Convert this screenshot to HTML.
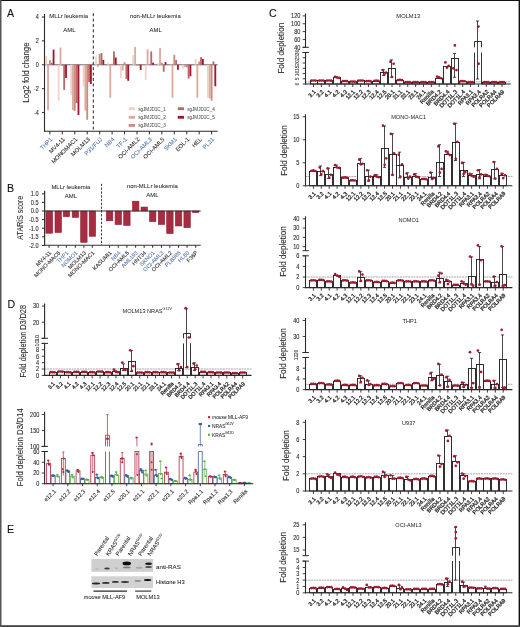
<!DOCTYPE html><html><head><meta charset="utf-8"><style>html,body{margin:0;padding:0;background:#fff;}svg{display:block;will-change:transform;} text{font-family:"Liberation Sans", sans-serif;}</style></head><body>
<svg width="520" height="627" viewBox="0 0 520 627">
<rect x="0" y="0" width="520" height="627" fill="#ffffff" />
<text x="7" y="16.6" font-size="10.6" fill="#111" text-anchor="start"  stroke="#111" stroke-width="0.1">A</text>
<line x1="44.5" y1="64.8" x2="217.7" y2="64.8" stroke="#555" stroke-width="0.9" />
<rect x="45.3" y="55.96" width="1.84" height="8.84" fill="#efd3cb" />
<rect x="47.14" y="64.8" width="1.84" height="45.41" fill="#dcab9e" />
<rect x="48.98" y="60.26" width="1.84" height="4.54" fill="#c98b80" />
<rect x="50.82" y="62.77" width="1.84" height="2.03" fill="#b76a65" />
<rect x="52.66" y="49.62" width="1.84" height="15.18" fill="#a3162e" />
<rect x="57.74" y="64.8" width="1.84" height="35.85" fill="#efd3cb" />
<rect x="59.58" y="47.47" width="1.84" height="17.33" fill="#dcab9e" />
<rect x="61.42" y="64.8" width="1.84" height="1.2" fill="#c98b80" />
<rect x="63.26" y="64.8" width="1.84" height="25.09" fill="#b76a65" />
<rect x="65.1" y="64.8" width="1.84" height="13.14" fill="#a3162e" />
<rect x="70.18" y="64.8" width="1.84" height="29.88" fill="#efd3cb" />
<rect x="72.02" y="64.8" width="1.84" height="45.41" fill="#dcab9e" />
<rect x="73.86" y="64.8" width="1.84" height="46.01" fill="#c98b80" />
<rect x="75.7" y="64.8" width="1.84" height="38.24" fill="#b76a65" />
<rect x="77.54" y="64.8" width="1.84" height="50.19" fill="#a3162e" />
<rect x="82.62" y="64.8" width="1.84" height="21.51" fill="#efd3cb" />
<rect x="84.46" y="64.8" width="1.84" height="45.77" fill="#dcab9e" />
<rect x="86.3" y="64.8" width="1.84" height="54.97" fill="#c98b80" />
<rect x="88.14" y="64.8" width="1.84" height="17.33" fill="#b76a65" />
<rect x="89.98" y="64.8" width="1.84" height="19.12" fill="#a3162e" />
<rect x="95.06" y="56.44" width="1.84" height="8.36" fill="#efd3cb" />
<rect x="96.9" y="64.8" width="1.84" height="2.15" fill="#dcab9e" />
<rect x="98.74" y="54.05" width="1.84" height="10.75" fill="#c98b80" />
<rect x="100.58" y="53.09" width="1.84" height="11.71" fill="#b76a65" />
<rect x="102.42" y="59.9" width="1.84" height="4.9" fill="#a3162e" />
<rect x="107.5" y="62.65" width="1.84" height="2.15" fill="#efd3cb" />
<rect x="109.34" y="64.8" width="1.84" height="32.98" fill="#dcab9e" />
<rect x="111.18" y="63.84" width="1.84" height="0.96" fill="#c98b80" />
<rect x="113.02" y="51.42" width="1.84" height="13.38" fill="#b76a65" />
<rect x="114.86" y="57.51" width="1.84" height="7.29" fill="#a3162e" />
<rect x="119.94" y="64.8" width="1.84" height="13.14" fill="#efd3cb" />
<rect x="121.78" y="64.8" width="1.84" height="5.74" fill="#dcab9e" />
<rect x="123.62" y="62.17" width="1.84" height="2.63" fill="#c98b80" />
<rect x="125.46" y="64.8" width="1.84" height="14.1" fill="#b76a65" />
<rect x="127.3" y="64.8" width="1.84" height="16.01" fill="#a3162e" />
<rect x="132.38" y="55.12" width="1.84" height="9.68" fill="#efd3cb" />
<rect x="134.22" y="46.88" width="1.84" height="17.92" fill="#dcab9e" />
<rect x="136.06" y="64.8" width="1.84" height="0.6" fill="#c98b80" />
<rect x="137.9" y="64.8" width="1.84" height="0.6" fill="#b76a65" />
<rect x="139.74" y="64.8" width="1.84" height="5.14" fill="#a3162e" />
<rect x="144.82" y="64.8" width="1.84" height="15.42" fill="#efd3cb" />
<rect x="146.66" y="49.27" width="1.84" height="15.54" fill="#dcab9e" />
<rect x="148.5" y="64.2" width="1.84" height="0.6" fill="#c98b80" />
<rect x="150.34" y="51.42" width="1.84" height="13.38" fill="#b76a65" />
<rect x="152.18" y="62.65" width="1.84" height="2.15" fill="#a3162e" />
<rect x="157.26" y="63.25" width="1.84" height="1.55" fill="#efd3cb" />
<rect x="159.1" y="47.83" width="1.84" height="16.97" fill="#dcab9e" />
<rect x="160.94" y="62.65" width="1.84" height="2.15" fill="#c98b80" />
<rect x="162.78" y="64.8" width="1.84" height="6.93" fill="#b76a65" />
<rect x="164.62" y="62.05" width="1.84" height="2.75" fill="#a3162e" />
<rect x="169.7" y="64.2" width="1.84" height="0.6" fill="#efd3cb" />
<rect x="171.54" y="64.8" width="1.84" height="32.98" fill="#dcab9e" />
<rect x="173.38" y="54.88" width="1.84" height="9.92" fill="#c98b80" />
<rect x="175.22" y="60.02" width="1.84" height="4.78" fill="#b76a65" />
<rect x="177.06" y="64.8" width="1.84" height="5.02" fill="#a3162e" />
<rect x="182.14" y="64.8" width="1.84" height="3.94" fill="#efd3cb" />
<rect x="183.98" y="64.8" width="1.84" height="2.39" fill="#dcab9e" />
<rect x="185.82" y="64.8" width="1.84" height="2.63" fill="#c98b80" />
<rect x="187.66" y="64.8" width="1.84" height="13.86" fill="#b76a65" />
<rect x="189.5" y="64.8" width="1.84" height="11.47" fill="#a3162e" />
<rect x="194.58" y="58.82" width="1.84" height="5.97" fill="#efd3cb" />
<rect x="196.42" y="64.8" width="1.84" height="32.98" fill="#dcab9e" />
<rect x="198.26" y="61.45" width="1.84" height="3.35" fill="#c98b80" />
<rect x="200.1" y="57.15" width="1.84" height="7.65" fill="#b76a65" />
<rect x="201.94" y="58.94" width="1.84" height="5.86" fill="#a3162e" />
<rect x="207.02" y="64.8" width="1.84" height="32.98" fill="#efd3cb" />
<rect x="208.86" y="64.8" width="1.84" height="33.46" fill="#dcab9e" />
<rect x="210.7" y="64.8" width="1.84" height="35.85" fill="#c98b80" />
<rect x="212.54" y="61.45" width="1.84" height="3.35" fill="#b76a65" />
<rect x="214.38" y="64.8" width="1.84" height="21.51" fill="#a3162e" />
<line x1="44.5" y1="14" x2="44.5" y2="131.7" stroke="#2a2a2a" stroke-width="1.1" />
<line x1="44" y1="131.2" x2="217.7" y2="131.2" stroke="#2a2a2a" stroke-width="1.1" />
<line x1="41.9" y1="17" x2="44.5" y2="17" stroke="#2a2a2a" stroke-width="1" />
<text x="38.7" y="19.4" font-size="6.6" fill="#2a2a2a" text-anchor="end" transform="translate(38.7 19.4) scale(0.82 1) translate(-38.7 -19.4)"  stroke="#2a2a2a" stroke-width="0.1">4</text>
<line x1="41.9" y1="40.9" x2="44.5" y2="40.9" stroke="#2a2a2a" stroke-width="1" />
<text x="38.7" y="43.3" font-size="6.6" fill="#2a2a2a" text-anchor="end" transform="translate(38.7 43.3) scale(0.82 1) translate(-38.7 -43.3)"  stroke="#2a2a2a" stroke-width="0.1">2</text>
<line x1="41.9" y1="64.8" x2="44.5" y2="64.8" stroke="#2a2a2a" stroke-width="1" />
<text x="38.7" y="67.2" font-size="6.6" fill="#2a2a2a" text-anchor="end" transform="translate(38.7 67.2) scale(0.82 1) translate(-38.7 -67.2)"  stroke="#2a2a2a" stroke-width="0.1">0</text>
<line x1="41.9" y1="88.7" x2="44.5" y2="88.7" stroke="#2a2a2a" stroke-width="1" />
<text x="38.7" y="91.1" font-size="6.6" fill="#2a2a2a" text-anchor="end" transform="translate(38.7 91.1) scale(0.82 1) translate(-38.7 -91.1)"  stroke="#2a2a2a" stroke-width="0.1">-2</text>
<line x1="41.9" y1="112.6" x2="44.5" y2="112.6" stroke="#2a2a2a" stroke-width="1" />
<text x="38.7" y="115" font-size="6.6" fill="#2a2a2a" text-anchor="end" transform="translate(38.7 115) scale(0.82 1) translate(-38.7 -115)"  stroke="#2a2a2a" stroke-width="0.1">-4</text>
<line x1="93.3" y1="13.2" x2="93.3" y2="131" stroke="#222" stroke-width="1" stroke-dasharray="3 2.4"/>
<text x="49.2" y="18.2" font-size="5.95" fill="#2a2a2a" text-anchor="start"  stroke="#2a2a2a" stroke-width="0.06">MLLr leukemia</text>
<text x="69.4" y="32.3" font-size="5.95" fill="#2a2a2a" text-anchor="middle"  stroke="#2a2a2a" stroke-width="0.06">AML</text>
<text x="130" y="18.2" font-size="5.93" fill="#2a2a2a" text-anchor="start"  stroke="#2a2a2a" stroke-width="0.06">non-MLLr leukemia</text>
<text x="155.6" y="32.3" font-size="5.95" fill="#2a2a2a" text-anchor="middle"  stroke="#2a2a2a" stroke-width="0.06">AML</text>
<text x="29" y="72.6" font-size="9" fill="#2a2a2a" text-anchor="middle" transform="rotate(-90 29 72.6)"  textLength="60.3" lengthAdjust="spacingAndGlyphs" stroke="#2a2a2a" stroke-width="0.1">Log2 fold change</text>
<rect x="128.7" y="107.3" width="6.3" height="2.8" fill="#efd3cb" />
<text x="138.2" y="110.5" font-size="5" fill="#444" text-anchor="start"  textLength="27.6" lengthAdjust="spacingAndGlyphs" stroke="#444" stroke-width="0.02">sgJMJD1C_1</text>
<rect x="128.7" y="115.9" width="6.3" height="2.8" fill="#dcab9e" />
<text x="138.2" y="119.1" font-size="5" fill="#444" text-anchor="start"  textLength="27.6" lengthAdjust="spacingAndGlyphs" stroke="#444" stroke-width="0.02">sgJMJD1C_2</text>
<rect x="128.7" y="124" width="6.3" height="2.8" fill="#c98b80" />
<text x="138.2" y="127.2" font-size="5" fill="#444" text-anchor="start"  textLength="27.6" lengthAdjust="spacingAndGlyphs" stroke="#444" stroke-width="0.02">sgJMJD1C_3</text>
<rect x="177.7" y="107.3" width="6.3" height="2.8" fill="#b76a65" />
<text x="187.2" y="110.5" font-size="5" fill="#444" text-anchor="start"  textLength="27.6" lengthAdjust="spacingAndGlyphs" stroke="#444" stroke-width="0.02">sgJMJD1C_4</text>
<rect x="177.7" y="115.9" width="6.3" height="2.8" fill="#a3162e" />
<text x="187.2" y="119.1" font-size="5" fill="#444" text-anchor="start"  textLength="27.6" lengthAdjust="spacingAndGlyphs" stroke="#444" stroke-width="0.02">sgJMJD1C_5</text>
<line x1="49.9" y1="131.2" x2="49.9" y2="134.4" stroke="#2a2a2a" stroke-width="1" />
<text x="52.9" y="139.8" font-size="5.8" fill="#5270a8" text-anchor="end" transform="rotate(-45 52.9 139.8)"  stroke="#5270a8" stroke-width="0.06">THP1</text>
<line x1="62.34" y1="131.2" x2="62.34" y2="134.4" stroke="#2a2a2a" stroke-width="1" />
<text x="65.34" y="139.8" font-size="5.8" fill="#222" text-anchor="end" transform="rotate(-45 65.34 139.8)"  stroke="#222" stroke-width="0.06">MV4-11</text>
<line x1="74.78" y1="131.2" x2="74.78" y2="134.4" stroke="#2a2a2a" stroke-width="1" />
<text x="77.78" y="139.8" font-size="5.8" fill="#222" text-anchor="end" transform="rotate(-45 77.78 139.8)"  stroke="#222" stroke-width="0.06">MONOMAC1</text>
<line x1="87.22" y1="131.2" x2="87.22" y2="134.4" stroke="#2a2a2a" stroke-width="1" />
<text x="90.22" y="139.8" font-size="5.8" fill="#222" text-anchor="end" transform="rotate(-45 90.22 139.8)"  stroke="#222" stroke-width="0.06">MOLM13</text>
<line x1="99.66" y1="131.2" x2="99.66" y2="134.4" stroke="#2a2a2a" stroke-width="1" />
<text x="102.66" y="139.8" font-size="5.8" fill="#5270a8" text-anchor="end" transform="rotate(-45 102.66 139.8)"  stroke="#5270a8" stroke-width="0.06">P31/FUJ</text>
<line x1="112.1" y1="131.2" x2="112.1" y2="134.4" stroke="#2a2a2a" stroke-width="1" />
<text x="115.1" y="139.8" font-size="5.8" fill="#5270a8" text-anchor="end" transform="rotate(-45 115.1 139.8)"  stroke="#5270a8" stroke-width="0.06">NB4</text>
<line x1="124.54" y1="131.2" x2="124.54" y2="134.4" stroke="#2a2a2a" stroke-width="1" />
<text x="127.54" y="139.8" font-size="5.8" fill="#5270a8" text-anchor="end" transform="rotate(-45 127.54 139.8)"  stroke="#5270a8" stroke-width="0.06">TF-1</text>
<line x1="136.98" y1="131.2" x2="136.98" y2="134.4" stroke="#2a2a2a" stroke-width="1" />
<text x="139.98" y="139.8" font-size="5.8" fill="#222" text-anchor="end" transform="rotate(-45 139.98 139.8)"  stroke="#222" stroke-width="0.06">OCI-AML2</text>
<line x1="149.42" y1="131.2" x2="149.42" y2="134.4" stroke="#2a2a2a" stroke-width="1" />
<text x="152.42" y="139.8" font-size="5.8" fill="#5270a8" text-anchor="end" transform="rotate(-45 152.42 139.8)"  stroke="#5270a8" stroke-width="0.06">OCI-AML3</text>
<line x1="161.86" y1="131.2" x2="161.86" y2="134.4" stroke="#2a2a2a" stroke-width="1" />
<text x="164.86" y="139.8" font-size="5.8" fill="#222" text-anchor="end" transform="rotate(-45 164.86 139.8)"  stroke="#222" stroke-width="0.06">OCI-AML5</text>
<line x1="174.3" y1="131.2" x2="174.3" y2="134.4" stroke="#2a2a2a" stroke-width="1" />
<text x="177.3" y="139.8" font-size="5.8" fill="#5270a8" text-anchor="end" transform="rotate(-45 177.3 139.8)"  stroke="#5270a8" stroke-width="0.06">SKM1</text>
<line x1="186.74" y1="131.2" x2="186.74" y2="134.4" stroke="#2a2a2a" stroke-width="1" />
<text x="189.74" y="139.8" font-size="5.8" fill="#222" text-anchor="end" transform="rotate(-45 189.74 139.8)"  stroke="#222" stroke-width="0.06">EOL-1</text>
<line x1="199.18" y1="131.2" x2="199.18" y2="134.4" stroke="#2a2a2a" stroke-width="1" />
<text x="202.18" y="139.8" font-size="5.8" fill="#222" text-anchor="end" transform="rotate(-45 202.18 139.8)"  stroke="#222" stroke-width="0.06">HEL</text>
<line x1="211.62" y1="131.2" x2="211.62" y2="134.4" stroke="#2a2a2a" stroke-width="1" />
<text x="214.62" y="139.8" font-size="5.8" fill="#5270a8" text-anchor="end" transform="rotate(-45 214.62 139.8)"  stroke="#5270a8" stroke-width="0.06">PL21</text>
<text x="6.9" y="192.4" font-size="10.6" fill="#111" text-anchor="start"  stroke="#111" stroke-width="0.1">B</text>
<rect x="45.9" y="211" width="6.7" height="22.19" fill="#a52c41" stroke="#961b31" stroke-width="0.6" />
<rect x="55" y="211" width="6.4" height="21.5" fill="#a52c41" stroke="#961b31" stroke-width="0.6" />
<rect x="63.2" y="211" width="6.4" height="5.68" fill="#a52c41" stroke="#961b31" stroke-width="0.6" />
<rect x="72.2" y="211" width="6.4" height="6.36" fill="#a52c41" stroke="#961b31" stroke-width="0.6" />
<rect x="80.7" y="211" width="6.4" height="31.3" fill="#a52c41" stroke="#961b31" stroke-width="0.6" />
<rect x="89.2" y="211" width="6.4" height="25.28" fill="#a52c41" stroke="#961b31" stroke-width="0.6" />
<rect x="106.4" y="211" width="6.4" height="9.8" fill="#a52c41" stroke="#961b31" stroke-width="0.6" />
<rect x="115.1" y="211" width="6.4" height="13.59" fill="#a52c41" stroke="#961b31" stroke-width="0.6" />
<rect x="123.7" y="211" width="6.4" height="14.45" fill="#a52c41" stroke="#961b31" stroke-width="0.6" />
<rect x="132.5" y="201.2" width="6.4" height="9.8" fill="#a52c41" stroke="#961b31" stroke-width="0.6" />
<rect x="141" y="207.04" width="6.4" height="3.96" fill="#a52c41" stroke="#961b31" stroke-width="0.6" />
<rect x="149.5" y="211" width="6.4" height="10.66" fill="#a52c41" stroke="#961b31" stroke-width="0.6" />
<rect x="158.3" y="211" width="6.4" height="13.42" fill="#a52c41" stroke="#961b31" stroke-width="0.6" />
<rect x="166.7" y="211" width="6.4" height="22.53" fill="#a52c41" stroke="#961b31" stroke-width="0.6" />
<rect x="175.4" y="211" width="6.4" height="14.96" fill="#a52c41" stroke="#961b31" stroke-width="0.6" />
<rect x="183.9" y="211" width="6.4" height="16.68" fill="#a52c41" stroke="#961b31" stroke-width="0.6" />
<rect x="192.5" y="211" width="6.4" height="1.55" fill="#a52c41" stroke="#961b31" stroke-width="0.6" />
<line x1="44.6" y1="211" x2="200.7" y2="211" stroke="#333" stroke-width="1.1" />
<line x1="44.6" y1="190.8" x2="44.6" y2="245.8" stroke="#333" stroke-width="1.2" />
<line x1="44.1" y1="245.3" x2="200.7" y2="245.3" stroke="#333" stroke-width="1.1" />
<line x1="42" y1="193.8" x2="44.6" y2="193.8" stroke="#2a2a2a" stroke-width="1" />
<text x="38.6" y="196.2" font-size="6.8" fill="#2a2a2a" text-anchor="end" transform="translate(38.6 196.2) scale(0.82 1) translate(-38.6 -196.2)"  stroke="#2a2a2a" stroke-width="0.1">1.0</text>
<line x1="42" y1="202.4" x2="44.6" y2="202.4" stroke="#2a2a2a" stroke-width="1" />
<text x="38.6" y="204.8" font-size="6.8" fill="#2a2a2a" text-anchor="end" transform="translate(38.6 204.8) scale(0.82 1) translate(-38.6 -204.8)"  stroke="#2a2a2a" stroke-width="0.1">0.5</text>
<line x1="42" y1="211" x2="44.6" y2="211" stroke="#2a2a2a" stroke-width="1" />
<text x="38.6" y="213.4" font-size="6.8" fill="#2a2a2a" text-anchor="end" transform="translate(38.6 213.4) scale(0.82 1) translate(-38.6 -213.4)"  stroke="#2a2a2a" stroke-width="0.1">0.0</text>
<line x1="42" y1="219.6" x2="44.6" y2="219.6" stroke="#2a2a2a" stroke-width="1" />
<text x="38.6" y="222" font-size="6.8" fill="#2a2a2a" text-anchor="end" transform="translate(38.6 222) scale(0.82 1) translate(-38.6 -222)"  stroke="#2a2a2a" stroke-width="0.1">-0.5</text>
<line x1="42" y1="228.2" x2="44.6" y2="228.2" stroke="#2a2a2a" stroke-width="1" />
<text x="38.6" y="230.6" font-size="6.8" fill="#2a2a2a" text-anchor="end" transform="translate(38.6 230.6) scale(0.82 1) translate(-38.6 -230.6)"  stroke="#2a2a2a" stroke-width="0.1">-1.0</text>
<line x1="42" y1="236.8" x2="44.6" y2="236.8" stroke="#2a2a2a" stroke-width="1" />
<text x="38.6" y="239.2" font-size="6.8" fill="#2a2a2a" text-anchor="end" transform="translate(38.6 239.2) scale(0.82 1) translate(-38.6 -239.2)"  stroke="#2a2a2a" stroke-width="0.1">-1.5</text>
<line x1="42" y1="245.4" x2="44.6" y2="245.4" stroke="#2a2a2a" stroke-width="1" />
<text x="38.6" y="247.8" font-size="6.8" fill="#2a2a2a" text-anchor="end" transform="translate(38.6 247.8) scale(0.82 1) translate(-38.6 -247.8)"  stroke="#2a2a2a" stroke-width="0.1">-2.0</text>
<line x1="101.5" y1="183.8" x2="101.5" y2="245" stroke="#222" stroke-width="0.9" stroke-dasharray="2.2 1.6"/>
<text x="70.9" y="188.8" font-size="5.95" fill="#2a2a2a" text-anchor="middle"  stroke="#2a2a2a" stroke-width="0.06">MLLr leukemia</text>
<text x="70.9" y="198.4" font-size="5.95" fill="#2a2a2a" text-anchor="middle"  stroke="#2a2a2a" stroke-width="0.06">AML</text>
<text x="152.4" y="188" font-size="5.95" fill="#2a2a2a" text-anchor="middle"  stroke="#2a2a2a" stroke-width="0.06">non-MLLr leukemia</text>
<text x="152.4" y="196.9" font-size="5.95" fill="#2a2a2a" text-anchor="middle"  stroke="#2a2a2a" stroke-width="0.06">AML</text>
<text x="23.3" y="217.7" font-size="8.2" fill="#2a2a2a" text-anchor="middle" transform="rotate(-90 23.3 217.7)"  textLength="43.9" lengthAdjust="spacingAndGlyphs" stroke="#2a2a2a" stroke-width="0.1">ATARiS score</text>
<line x1="49.05" y1="245.3" x2="49.05" y2="247.8" stroke="#2a2a2a" stroke-width="1" />
<text x="51.65" y="253.2" font-size="5.6" fill="#222" text-anchor="end" transform="rotate(-45 51.65 253.2)"  stroke="#222" stroke-width="0.06">MV4-11</text>
<line x1="58.15" y1="245.3" x2="58.15" y2="247.8" stroke="#2a2a2a" stroke-width="1" />
<text x="60.75" y="253.2" font-size="5.6" fill="#222" text-anchor="end" transform="rotate(-45 60.75 253.2)"  stroke="#222" stroke-width="0.06">MONO-MAC6</text>
<line x1="66.35" y1="245.3" x2="66.35" y2="247.8" stroke="#2a2a2a" stroke-width="1" />
<text x="68.95" y="253.2" font-size="5.6" fill="#5270a8" text-anchor="end" transform="rotate(-45 68.95 253.2)"  stroke="#5270a8" stroke-width="0.06">THP1</text>
<line x1="75.35" y1="245.3" x2="75.35" y2="247.8" stroke="#2a2a2a" stroke-width="1" />
<text x="77.95" y="253.2" font-size="5.6" fill="#5270a8" text-anchor="end" transform="rotate(-45 77.95 253.2)"  stroke="#5270a8" stroke-width="0.06">NOMO1</text>
<line x1="83.85" y1="245.3" x2="83.85" y2="247.8" stroke="#2a2a2a" stroke-width="1" />
<text x="86.45" y="253.2" font-size="5.6" fill="#222" text-anchor="end" transform="rotate(-45 86.45 253.2)"  stroke="#222" stroke-width="0.06">MOLM13</text>
<line x1="92.35" y1="245.3" x2="92.35" y2="247.8" stroke="#2a2a2a" stroke-width="1" />
<text x="94.95" y="253.2" font-size="5.6" fill="#222" text-anchor="end" transform="rotate(-45 94.95 253.2)"  stroke="#222" stroke-width="0.06">MONO-MAC1</text>
<line x1="109.55" y1="245.3" x2="109.55" y2="247.8" stroke="#2a2a2a" stroke-width="1" />
<text x="112.15" y="253.2" font-size="5.6" fill="#222" text-anchor="end" transform="rotate(-45 112.15 253.2)"  stroke="#222" stroke-width="0.06">KASUMI1</text>
<line x1="118.25" y1="245.3" x2="118.25" y2="247.8" stroke="#2a2a2a" stroke-width="1" />
<text x="120.85" y="253.2" font-size="5.6" fill="#5270a8" text-anchor="end" transform="rotate(-45 120.85 253.2)"  stroke="#5270a8" stroke-width="0.06">NB4</text>
<line x1="126.85" y1="245.3" x2="126.85" y2="247.8" stroke="#2a2a2a" stroke-width="1" />
<text x="129.45" y="253.2" font-size="5.6" fill="#222" text-anchor="end" transform="rotate(-45 129.45 253.2)"  stroke="#222" stroke-width="0.06">OCI-AML5</text>
<line x1="135.65" y1="245.3" x2="135.65" y2="247.8" stroke="#2a2a2a" stroke-width="1" />
<text x="138.25" y="253.2" font-size="5.6" fill="#5270a8" text-anchor="end" transform="rotate(-45 138.25 253.2)"  stroke="#5270a8" stroke-width="0.06">AML193</text>
<line x1="144.15" y1="245.3" x2="144.15" y2="247.8" stroke="#2a2a2a" stroke-width="1" />
<text x="146.75" y="253.2" font-size="5.6" fill="#222" text-anchor="end" transform="rotate(-45 146.75 253.2)"  stroke="#222" stroke-width="0.06">HNT34</text>
<line x1="152.65" y1="245.3" x2="152.65" y2="247.8" stroke="#2a2a2a" stroke-width="1" />
<text x="155.25" y="253.2" font-size="5.6" fill="#5270a8" text-anchor="end" transform="rotate(-45 155.25 253.2)"  stroke="#5270a8" stroke-width="0.06">SKNO1</text>
<line x1="161.45" y1="245.3" x2="161.45" y2="247.8" stroke="#2a2a2a" stroke-width="1" />
<text x="164.05" y="253.2" font-size="5.6" fill="#5270a8" text-anchor="end" transform="rotate(-45 164.05 253.2)"  stroke="#5270a8" stroke-width="0.06">OCI-AML3</text>
<line x1="169.85" y1="245.3" x2="169.85" y2="247.8" stroke="#2a2a2a" stroke-width="1" />
<text x="172.45" y="253.2" font-size="5.6" fill="#222" text-anchor="end" transform="rotate(-45 172.45 253.2)"  stroke="#222" stroke-width="0.06">OCI-AML2</text>
<line x1="178.55" y1="245.3" x2="178.55" y2="247.8" stroke="#2a2a2a" stroke-width="1" />
<text x="181.15" y="253.2" font-size="5.6" fill="#5270a8" text-anchor="end" transform="rotate(-45 181.15 253.2)"  stroke="#5270a8" stroke-width="0.06">PLB985</text>
<line x1="187.05" y1="245.3" x2="187.05" y2="247.8" stroke="#2a2a2a" stroke-width="1" />
<text x="189.65" y="253.2" font-size="5.6" fill="#5270a8" text-anchor="end" transform="rotate(-45 189.65 253.2)"  stroke="#5270a8" stroke-width="0.06">HL60</text>
<line x1="195.65" y1="245.3" x2="195.65" y2="247.8" stroke="#2a2a2a" stroke-width="1" />
<text x="198.25" y="253.2" font-size="5.6" fill="#222" text-anchor="end" transform="rotate(-45 198.25 253.2)"  stroke="#222" stroke-width="0.06">F36P</text>
<text x="269" y="16.5" font-size="10.6" fill="#111" text-anchor="start"  stroke="#111" stroke-width="0.1">C</text>
<line x1="305.5" y1="81.9" x2="510.7" y2="81.9" stroke="#858a92" stroke-width="0.75" stroke-dasharray="2 0.7"/>
<rect x="310.5" y="80.5" width="7" height="3.5" fill="#fff" stroke="#1a1a1a" stroke-width="0.9" />
<rect x="317.5" y="80.5" width="7" height="3.5" fill="#fff" stroke="#1a1a1a" stroke-width="0.9" />
<rect x="325.5" y="80.5" width="7" height="3.5" fill="#fff" stroke="#1a1a1a" stroke-width="0.9" />
<rect x="333.5" y="77.5" width="7" height="6.5" fill="#fff" stroke="#1a1a1a" stroke-width="0.9" />
<rect x="341.5" y="81.5" width="7" height="2.5" fill="#fff" stroke="#1a1a1a" stroke-width="0.9" />
<rect x="349.5" y="81.5" width="7" height="2.5" fill="#fff" stroke="#1a1a1a" stroke-width="0.9" />
<rect x="357.5" y="80.5" width="7" height="3.5" fill="#fff" stroke="#1a1a1a" stroke-width="0.9" />
<rect x="364.5" y="81.5" width="7" height="2.5" fill="#fff" stroke="#1a1a1a" stroke-width="0.9" />
<rect x="372.5" y="81.5" width="7" height="2.5" fill="#fff" stroke="#1a1a1a" stroke-width="0.9" />
<rect x="380.5" y="72.5" width="7" height="11.5" fill="#fff" stroke="#1a1a1a" stroke-width="0.9" />
<line x1="383.5" y1="72.5" x2="383.5" y2="69.83" stroke="#1a1a1a" stroke-width="0.8" />
<line x1="381.9" y1="69.83" x2="385.1" y2="69.83" stroke="#1a1a1a" stroke-width="0.8" />
<line x1="383.5" y1="72.5" x2="383.5" y2="75.6" stroke="#1a1a1a" stroke-width="0.8" />
<line x1="381.9" y1="75.6" x2="385.1" y2="75.6" stroke="#1a1a1a" stroke-width="0.8" />
<rect x="388.5" y="68.5" width="7" height="15.5" fill="#fff" stroke="#1a1a1a" stroke-width="0.9" />
<line x1="391.5" y1="68.5" x2="391.5" y2="59.85" stroke="#1a1a1a" stroke-width="0.8" />
<line x1="389.9" y1="59.85" x2="393.1" y2="59.85" stroke="#1a1a1a" stroke-width="0.8" />
<line x1="391.5" y1="68.5" x2="391.5" y2="77.28" stroke="#1a1a1a" stroke-width="0.8" />
<line x1="389.9" y1="77.28" x2="393.1" y2="77.28" stroke="#1a1a1a" stroke-width="0.8" />
<rect x="396.5" y="80.5" width="7" height="3.5" fill="#fff" stroke="#1a1a1a" stroke-width="0.9" />
<rect x="404.5" y="82.5" width="7" height="1.5" fill="#fff" stroke="#1a1a1a" stroke-width="0.9" />
<rect x="412.5" y="82.5" width="7" height="1.5" fill="#fff" stroke="#1a1a1a" stroke-width="0.9" />
<rect x="419.5" y="82.5" width="7" height="1.5" fill="#fff" stroke="#1a1a1a" stroke-width="0.9" />
<rect x="427.5" y="82.5" width="7" height="1.5" fill="#fff" stroke="#1a1a1a" stroke-width="0.9" />
<rect x="435.5" y="78.5" width="7" height="5.5" fill="#fff" stroke="#1a1a1a" stroke-width="0.9" />
<rect x="443.5" y="66.5" width="7" height="17.5" fill="#fff" stroke="#1a1a1a" stroke-width="0.9" />
<rect x="451.5" y="58.5" width="7" height="25.5" fill="#fff" stroke="#1a1a1a" stroke-width="0.9" />
<line x1="454.5" y1="58.5" x2="454.5" y2="53.55" stroke="#1a1a1a" stroke-width="0.8" />
<line x1="452.9" y1="53.55" x2="456.1" y2="53.55" stroke="#1a1a1a" stroke-width="0.8" />
<line x1="454.5" y1="58.5" x2="454.5" y2="77.28" stroke="#1a1a1a" stroke-width="0.8" />
<line x1="452.9" y1="77.28" x2="456.1" y2="77.28" stroke="#1a1a1a" stroke-width="0.8" />
<rect x="459.5" y="81.5" width="7" height="2.5" fill="#fff" stroke="#1a1a1a" stroke-width="0.9" />
<rect x="467.5" y="82.5" width="7" height="1.5" fill="#fff" stroke="#1a1a1a" stroke-width="0.9" />
<path d="M474.5 84 V52.5 M481.5 84 V52.5 M474.5 47.3 V41.5 H481.5 V47.3" fill="none" stroke="#1a1a1a" stroke-width="0.9"/>
<line x1="477.5" y1="41.5" x2="477.5" y2="21" stroke="#1a1a1a" stroke-width="0.8" />
<line x1="475.9" y1="21" x2="479.1" y2="21" stroke="#1a1a1a" stroke-width="0.8" />
<line x1="477.5" y1="41.5" x2="477.5" y2="79.06" stroke="#1a1a1a" stroke-width="0.8" />
<line x1="475.9" y1="79.06" x2="479.1" y2="79.06" stroke="#1a1a1a" stroke-width="0.8" />
<rect x="482.5" y="82.5" width="7" height="1.5" fill="#fff" stroke="#1a1a1a" stroke-width="0.9" />
<rect x="490.5" y="82.5" width="7" height="1.5" fill="#fff" stroke="#1a1a1a" stroke-width="0.9" />
<rect x="498.5" y="82.5" width="7" height="1.5" fill="#fff" stroke="#1a1a1a" stroke-width="0.9" />
<circle cx="311.5" cy="80.55" r="1.35" fill="#a3192f"/>
<circle cx="313.5" cy="80.49" r="1.35" fill="#a3192f"/>
<circle cx="315.5" cy="80.61" r="1.35" fill="#a3192f"/>
<circle cx="319.35" cy="80.55" r="1.35" fill="#a3192f"/>
<circle cx="321.35" cy="80.49" r="1.35" fill="#a3192f"/>
<circle cx="323.35" cy="80.61" r="1.35" fill="#a3192f"/>
<circle cx="327.21" cy="80.55" r="1.35" fill="#a3192f"/>
<circle cx="329.21" cy="80.49" r="1.35" fill="#a3192f"/>
<circle cx="331.21" cy="80.61" r="1.35" fill="#a3192f"/>
<circle cx="335.06" cy="76.88" r="1.35" fill="#a3192f"/>
<circle cx="337.06" cy="77.4" r="1.35" fill="#a3192f"/>
<circle cx="339.06" cy="77.92" r="1.35" fill="#a3192f"/>
<circle cx="342.92" cy="81.08" r="1.35" fill="#a3192f"/>
<circle cx="344.92" cy="81.02" r="1.35" fill="#a3192f"/>
<circle cx="346.92" cy="81.13" r="1.35" fill="#a3192f"/>
<circle cx="350.77" cy="81.6" r="1.35" fill="#a3192f"/>
<circle cx="352.77" cy="81.56" r="1.35" fill="#a3192f"/>
<circle cx="354.77" cy="81.64" r="1.35" fill="#a3192f"/>
<circle cx="358.62" cy="80.55" r="1.35" fill="#a3192f"/>
<circle cx="360.62" cy="80.49" r="1.35" fill="#a3192f"/>
<circle cx="362.62" cy="80.61" r="1.35" fill="#a3192f"/>
<circle cx="366.48" cy="81.08" r="1.35" fill="#a3192f"/>
<circle cx="368.48" cy="81.02" r="1.35" fill="#a3192f"/>
<circle cx="370.48" cy="81.13" r="1.35" fill="#a3192f"/>
<circle cx="374.33" cy="80.76" r="1.35" fill="#a3192f"/>
<circle cx="376.33" cy="80.7" r="1.35" fill="#a3192f"/>
<circle cx="378.33" cy="80.82" r="1.35" fill="#a3192f"/>
<circle cx="382.59" cy="70.05" r="1.35" fill="#a3192f"/>
<circle cx="385.79" cy="72.67" r="1.35" fill="#a3192f"/>
<circle cx="384.19" cy="74.57" r="1.35" fill="#a3192f"/>
<circle cx="390.44" cy="61.65" r="1.35" fill="#a3192f"/>
<circle cx="393.64" cy="63.75" r="1.35" fill="#a3192f"/>
<circle cx="392.04" cy="76.98" r="1.35" fill="#a3192f"/>
<circle cx="397.89" cy="80.03" r="1.35" fill="#a3192f"/>
<circle cx="399.89" cy="79.95" r="1.35" fill="#a3192f"/>
<circle cx="401.89" cy="80.1" r="1.35" fill="#a3192f"/>
<circle cx="405.75" cy="82.12" r="1.35" fill="#a3192f"/>
<circle cx="407.75" cy="82.09" r="1.35" fill="#a3192f"/>
<circle cx="409.75" cy="82.16" r="1.35" fill="#a3192f"/>
<circle cx="413.6" cy="82.12" r="1.35" fill="#a3192f"/>
<circle cx="415.6" cy="82.09" r="1.35" fill="#a3192f"/>
<circle cx="417.6" cy="82.16" r="1.35" fill="#a3192f"/>
<circle cx="421.46" cy="82.12" r="1.35" fill="#a3192f"/>
<circle cx="423.46" cy="82.09" r="1.35" fill="#a3192f"/>
<circle cx="425.46" cy="82.16" r="1.35" fill="#a3192f"/>
<circle cx="429.31" cy="82.02" r="1.35" fill="#a3192f"/>
<circle cx="431.31" cy="81.99" r="1.35" fill="#a3192f"/>
<circle cx="433.31" cy="82.05" r="1.35" fill="#a3192f"/>
<circle cx="437.16" cy="76.56" r="1.35" fill="#a3192f"/>
<circle cx="439.16" cy="77.4" r="1.35" fill="#a3192f"/>
<circle cx="441.16" cy="78.24" r="1.35" fill="#a3192f"/>
<circle cx="445.42" cy="62.39" r="1.35" fill="#a3192f"/>
<circle cx="448.62" cy="65.95" r="1.35" fill="#a3192f"/>
<circle cx="447.02" cy="67.74" r="1.35" fill="#a3192f"/>
<circle cx="454.87" cy="45.43" r="1.35" fill="#a3192f"/>
<circle cx="453.27" cy="68.37" r="1.35" fill="#a3192f"/>
<circle cx="456.47" cy="70.05" r="1.35" fill="#a3192f"/>
<circle cx="460.73" cy="81.18" r="1.35" fill="#a3192f"/>
<circle cx="462.73" cy="81.13" r="1.35" fill="#a3192f"/>
<circle cx="464.73" cy="81.23" r="1.35" fill="#a3192f"/>
<circle cx="468.58" cy="82.12" r="1.35" fill="#a3192f"/>
<circle cx="470.58" cy="82.09" r="1.35" fill="#a3192f"/>
<circle cx="472.58" cy="82.16" r="1.35" fill="#a3192f"/>
<circle cx="478.43" cy="26.59" r="1.35" fill="#a3192f"/>
<circle cx="478.43" cy="63.75" r="1.35" fill="#a3192f"/>
<circle cx="478.43" cy="63.75" r="1.35" fill="#a3192f"/>
<circle cx="484.29" cy="82.12" r="1.35" fill="#a3192f"/>
<circle cx="486.29" cy="82.09" r="1.35" fill="#a3192f"/>
<circle cx="488.29" cy="82.16" r="1.35" fill="#a3192f"/>
<circle cx="492.14" cy="82.12" r="1.35" fill="#a3192f"/>
<circle cx="494.14" cy="82.09" r="1.35" fill="#a3192f"/>
<circle cx="496.14" cy="82.16" r="1.35" fill="#a3192f"/>
<circle cx="500" cy="82.12" r="1.35" fill="#a3192f"/>
<circle cx="502" cy="82.09" r="1.35" fill="#a3192f"/>
<circle cx="504" cy="82.16" r="1.35" fill="#a3192f"/>
<line x1="305.5" y1="84.5" x2="305.5" y2="52.5" stroke="#2a2a2a" stroke-width="1.1" />
<line x1="305.5" y1="47.3" x2="305.5" y2="13.4" stroke="#2a2a2a" stroke-width="1.1" />
<line x1="302.5" y1="47.3" x2="308.9" y2="47.3" stroke="#2a2a2a" stroke-width="1" />
<line x1="302.5" y1="52.5" x2="308.9" y2="52.5" stroke="#2a2a2a" stroke-width="1" />
<line x1="305" y1="84" x2="510.7" y2="84" stroke="#2a2a2a" stroke-width="1.1" />
<line x1="302.7" y1="84" x2="305.5" y2="84" stroke="#2a2a2a" stroke-width="0.9" />
<text x="299.2" y="84" font-size="5" fill="#2a2a2a" text-anchor="middle" transform="rotate(-90 299.2 84)"  stroke="#2a2a2a" stroke-width="0.04">0</text>
<line x1="302.7" y1="78.75" x2="305.5" y2="78.75" stroke="#2a2a2a" stroke-width="0.9" />
<text x="299.2" y="78.75" font-size="5" fill="#2a2a2a" text-anchor="middle" transform="rotate(-90 299.2 78.75)"  stroke="#2a2a2a" stroke-width="0.04">5</text>
<line x1="302.7" y1="73.5" x2="305.5" y2="73.5" stroke="#2a2a2a" stroke-width="0.9" />
<text x="299.2" y="73.5" font-size="5" fill="#2a2a2a" text-anchor="middle" transform="rotate(-90 299.2 73.5)"  stroke="#2a2a2a" stroke-width="0.04">10</text>
<line x1="302.7" y1="68.25" x2="305.5" y2="68.25" stroke="#2a2a2a" stroke-width="0.9" />
<text x="299.2" y="68.25" font-size="5" fill="#2a2a2a" text-anchor="middle" transform="rotate(-90 299.2 68.25)"  stroke="#2a2a2a" stroke-width="0.04">15</text>
<line x1="302.7" y1="63" x2="305.5" y2="63" stroke="#2a2a2a" stroke-width="0.9" />
<text x="299.2" y="63" font-size="5" fill="#2a2a2a" text-anchor="middle" transform="rotate(-90 299.2 63)"  stroke="#2a2a2a" stroke-width="0.04">20</text>
<line x1="302.7" y1="57.75" x2="305.5" y2="57.75" stroke="#2a2a2a" stroke-width="0.9" />
<text x="299.2" y="57.75" font-size="5" fill="#2a2a2a" text-anchor="middle" transform="rotate(-90 299.2 57.75)"  stroke="#2a2a2a" stroke-width="0.04">25</text>
<line x1="302.7" y1="52.5" x2="305.5" y2="52.5" stroke="#2a2a2a" stroke-width="0.9" />
<text x="299.2" y="52.5" font-size="5" fill="#2a2a2a" text-anchor="middle" transform="rotate(-90 299.2 52.5)"  stroke="#2a2a2a" stroke-width="0.04">30</text>
<line x1="302.7" y1="47.3" x2="305.5" y2="47.3" stroke="#2a2a2a" stroke-width="0.9" />
<text x="300.4" y="49.7" font-size="7" fill="#2a2a2a" text-anchor="end" transform="translate(300.4 49.7) scale(0.8 1) translate(-300.4 -49.7)"  stroke="#2a2a2a" stroke-width="0.1">40</text>
<line x1="302.7" y1="39.45" x2="305.5" y2="39.45" stroke="#2a2a2a" stroke-width="0.9" />
<text x="300.4" y="41.85" font-size="7" fill="#2a2a2a" text-anchor="end" transform="translate(300.4 41.85) scale(0.8 1) translate(-300.4 -41.85)"  stroke="#2a2a2a" stroke-width="0.1">60</text>
<line x1="302.7" y1="31.6" x2="305.5" y2="31.6" stroke="#2a2a2a" stroke-width="0.9" />
<text x="300.4" y="34" font-size="7" fill="#2a2a2a" text-anchor="end" transform="translate(300.4 34) scale(0.8 1) translate(-300.4 -34)"  stroke="#2a2a2a" stroke-width="0.1">80</text>
<line x1="302.7" y1="23.75" x2="305.5" y2="23.75" stroke="#2a2a2a" stroke-width="0.9" />
<text x="300.4" y="26.15" font-size="7" fill="#2a2a2a" text-anchor="end" transform="translate(300.4 26.15) scale(0.8 1) translate(-300.4 -26.15)"  stroke="#2a2a2a" stroke-width="0.1">100</text>
<line x1="302.7" y1="15.9" x2="305.5" y2="15.9" stroke="#2a2a2a" stroke-width="0.9" />
<text x="300.4" y="18.3" font-size="7" fill="#2a2a2a" text-anchor="end" transform="translate(300.4 18.3) scale(0.8 1) translate(-300.4 -18.3)"  stroke="#2a2a2a" stroke-width="0.1">120</text>
<line x1="313.5" y1="84" x2="313.5" y2="87" stroke="#2a2a2a" stroke-width="0.9" />
<text x="316.3" y="92.2" font-size="5.7" fill="#222" text-anchor="end" transform="rotate(-45 316.3 92.2)"  textLength="7.69" lengthAdjust="spacingAndGlyphs" stroke="#222" stroke-width="0.25">3.1</text>
<line x1="321.35" y1="84" x2="321.35" y2="87" stroke="#2a2a2a" stroke-width="0.9" />
<text x="324.15" y="92.2" font-size="5.7" fill="#222" text-anchor="end" transform="rotate(-45 324.15 92.2)"  textLength="7.69" lengthAdjust="spacingAndGlyphs" stroke="#222" stroke-width="0.25">3.2</text>
<line x1="329.21" y1="84" x2="329.21" y2="87" stroke="#2a2a2a" stroke-width="0.9" />
<text x="332.01" y="92.2" font-size="5.7" fill="#222" text-anchor="end" transform="rotate(-45 332.01 92.2)"  textLength="7.69" lengthAdjust="spacingAndGlyphs" stroke="#222" stroke-width="0.25">4.1</text>
<line x1="337.06" y1="84" x2="337.06" y2="87" stroke="#2a2a2a" stroke-width="0.9" />
<text x="339.86" y="92.2" font-size="5.7" fill="#222" text-anchor="end" transform="rotate(-45 339.86 92.2)"  textLength="7.69" lengthAdjust="spacingAndGlyphs" stroke="#222" stroke-width="0.25">4.2</text>
<line x1="344.92" y1="84" x2="344.92" y2="87" stroke="#2a2a2a" stroke-width="0.9" />
<text x="347.72" y="92.2" font-size="5.7" fill="#222" text-anchor="end" transform="rotate(-45 347.72 92.2)"  textLength="7.69" lengthAdjust="spacingAndGlyphs" stroke="#222" stroke-width="0.25">4.3</text>
<line x1="352.77" y1="84" x2="352.77" y2="87" stroke="#2a2a2a" stroke-width="0.9" />
<text x="355.57" y="92.2" font-size="5.7" fill="#222" text-anchor="end" transform="rotate(-45 355.57 92.2)"  textLength="10.76" lengthAdjust="spacingAndGlyphs" stroke="#222" stroke-width="0.25">12.1</text>
<line x1="360.62" y1="84" x2="360.62" y2="87" stroke="#2a2a2a" stroke-width="0.9" />
<text x="363.42" y="92.2" font-size="5.7" fill="#222" text-anchor="end" transform="rotate(-45 363.42 92.2)"  textLength="10.76" lengthAdjust="spacingAndGlyphs" stroke="#222" stroke-width="0.25">12.2</text>
<line x1="368.48" y1="84" x2="368.48" y2="87" stroke="#2a2a2a" stroke-width="0.9" />
<text x="371.28" y="92.2" font-size="5.7" fill="#222" text-anchor="end" transform="rotate(-45 371.28 92.2)"  textLength="10.76" lengthAdjust="spacingAndGlyphs" stroke="#222" stroke-width="0.25">12.3</text>
<line x1="376.33" y1="84" x2="376.33" y2="87" stroke="#2a2a2a" stroke-width="0.9" />
<text x="379.13" y="92.2" font-size="5.7" fill="#222" text-anchor="end" transform="rotate(-45 379.13 92.2)"  textLength="10.76" lengthAdjust="spacingAndGlyphs" stroke="#222" stroke-width="0.25">12.4</text>
<line x1="384.19" y1="84" x2="384.19" y2="87" stroke="#2a2a2a" stroke-width="0.9" />
<text x="386.99" y="92.2" font-size="5.7" fill="#222" text-anchor="end" transform="rotate(-45 386.99 92.2)"  textLength="10.76" lengthAdjust="spacingAndGlyphs" stroke="#222" stroke-width="0.25">12.5</text>
<line x1="392.04" y1="84" x2="392.04" y2="87" stroke="#2a2a2a" stroke-width="0.9" />
<text x="394.84" y="92.2" font-size="5.7" fill="#222" text-anchor="end" transform="rotate(-45 394.84 92.2)"  textLength="10.76" lengthAdjust="spacingAndGlyphs" stroke="#222" stroke-width="0.25">20.1</text>
<line x1="399.89" y1="84" x2="399.89" y2="87" stroke="#2a2a2a" stroke-width="0.9" />
<text x="402.69" y="92.2" font-size="5.7" fill="#222" text-anchor="end" transform="rotate(-45 402.69 92.2)"  textLength="10.76" lengthAdjust="spacingAndGlyphs" stroke="#222" stroke-width="0.25">21.1</text>
<line x1="407.75" y1="84" x2="407.75" y2="87" stroke="#2a2a2a" stroke-width="0.9" />
<text x="410.55" y="92.2" font-size="5.7" fill="#222" text-anchor="end" transform="rotate(-45 410.55 92.2)"  textLength="10.76" lengthAdjust="spacingAndGlyphs" stroke="#222" stroke-width="0.25">22.1</text>
<line x1="415.6" y1="84" x2="415.6" y2="87" stroke="#2a2a2a" stroke-width="0.9" />
<text x="418.4" y="92.2" font-size="5.7" fill="#222" text-anchor="end" transform="rotate(-45 418.4 92.2)"  textLength="10.76" lengthAdjust="spacingAndGlyphs" stroke="#222" stroke-width="0.25">23.1</text>
<line x1="423.46" y1="84" x2="423.46" y2="87" stroke="#2a2a2a" stroke-width="0.9" />
<text x="426.26" y="92.2" font-size="5.7" fill="#222" text-anchor="end" transform="rotate(-45 426.26 92.2)"  textLength="10.76" lengthAdjust="spacingAndGlyphs" stroke="#222" stroke-width="0.25">24.1</text>
<line x1="431.31" y1="84" x2="431.31" y2="87" stroke="#2a2a2a" stroke-width="0.9" />
<text x="434.11" y="92.2" font-size="5.7" fill="#222" text-anchor="end" transform="rotate(-45 434.11 92.2)"  textLength="16.9" lengthAdjust="spacingAndGlyphs" stroke="#222" stroke-width="0.25">Renilla</text>
<line x1="439.16" y1="84" x2="439.16" y2="87" stroke="#2a2a2a" stroke-width="0.9" />
<text x="441.96" y="92.2" font-size="5.7" fill="#222" text-anchor="end" transform="rotate(-45 441.96 92.2)"  textLength="19.36" lengthAdjust="spacingAndGlyphs" stroke="#222" stroke-width="0.25">BRD4.2</text>
<line x1="447.02" y1="84" x2="447.02" y2="87" stroke="#2a2a2a" stroke-width="0.9" />
<text x="449.82" y="92.2" font-size="5.7" fill="#222" text-anchor="end" transform="rotate(-45 449.82 92.2)"  textLength="19.36" lengthAdjust="spacingAndGlyphs" stroke="#222" stroke-width="0.25">BRD4.4</text>
<line x1="454.87" y1="84" x2="454.87" y2="87" stroke="#2a2a2a" stroke-width="0.9" />
<text x="457.67" y="92.2" font-size="5.7" fill="#222" text-anchor="end" transform="rotate(-45 457.67 92.2)"  textLength="22.43" lengthAdjust="spacingAndGlyphs" stroke="#222" stroke-width="0.25">DOT1L.3</text>
<line x1="462.73" y1="84" x2="462.73" y2="87" stroke="#2a2a2a" stroke-width="0.9" />
<text x="465.53" y="92.2" font-size="5.7" fill="#222" text-anchor="end" transform="rotate(-45 465.53 92.2)"  textLength="22.43" lengthAdjust="spacingAndGlyphs" stroke="#222" stroke-width="0.25">DOT1L.4</text>
<line x1="470.58" y1="84" x2="470.58" y2="87" stroke="#2a2a2a" stroke-width="0.9" />
<text x="473.38" y="92.2" font-size="5.7" fill="#222" text-anchor="end" transform="rotate(-45 473.38 92.2)"  textLength="18.64" lengthAdjust="spacingAndGlyphs" stroke="#222" stroke-width="0.25">RPA3.1</text>
<line x1="478.43" y1="84" x2="478.43" y2="87" stroke="#2a2a2a" stroke-width="0.9" />
<text x="481.23" y="92.2" font-size="5.7" fill="#222" text-anchor="end" transform="rotate(-45 481.23 92.2)"  textLength="18.64" lengthAdjust="spacingAndGlyphs" stroke="#222" stroke-width="0.25">RPA3.4</text>
<line x1="486.29" y1="84" x2="486.29" y2="87" stroke="#2a2a2a" stroke-width="0.9" />
<text x="489.09" y="92.2" font-size="5.7" fill="#222" text-anchor="end" transform="rotate(-45 489.09 92.2)"  textLength="21.82" lengthAdjust="spacingAndGlyphs" stroke="#222" stroke-width="0.25">POLRA2</text>
<line x1="494.14" y1="84" x2="494.14" y2="87" stroke="#2a2a2a" stroke-width="0.9" />
<text x="496.94" y="92.2" font-size="5.7" fill="#222" text-anchor="end" transform="rotate(-45 496.94 92.2)"  textLength="21.82" lengthAdjust="spacingAndGlyphs" stroke="#222" stroke-width="0.25">POLRA4</text>
<line x1="502" y1="84" x2="502" y2="87" stroke="#2a2a2a" stroke-width="0.9" />
<text x="504.8" y="92.2" font-size="5.7" fill="#222" text-anchor="end" transform="rotate(-45 504.8 92.2)"  textLength="21.82" lengthAdjust="spacingAndGlyphs" stroke="#222" stroke-width="0.25">POLRA9</text>
<text x="396.3" y="18.3" font-size="5.8" fill="#222">MOLM13</text>
<text x="283.8" y="48.2" font-size="9.12" fill="#2a2a2a" text-anchor="middle" transform="rotate(-90 283.8 48.2)"  textLength="50.7" lengthAdjust="spacingAndGlyphs" stroke="#2a2a2a" stroke-width="0.1">Fold depletion</text>
<line x1="305.5" y1="176.55" x2="512.4" y2="176.55" stroke="#858a92" stroke-width="0.75" stroke-dasharray="2 0.7"/>
<rect x="309.5" y="171.5" width="7" height="14.25" fill="#fff" stroke="#1a1a1a" stroke-width="0.9" />
<rect x="317.5" y="171.5" width="7" height="14.25" fill="#fff" stroke="#1a1a1a" stroke-width="0.9" />
<line x1="320.5" y1="171.5" x2="320.5" y2="165.97" stroke="#1a1a1a" stroke-width="0.8" />
<line x1="318.9" y1="165.97" x2="322.1" y2="165.97" stroke="#1a1a1a" stroke-width="0.8" />
<line x1="320.5" y1="171.5" x2="320.5" y2="175.63" stroke="#1a1a1a" stroke-width="0.8" />
<line x1="318.9" y1="175.63" x2="322.1" y2="175.63" stroke="#1a1a1a" stroke-width="0.8" />
<rect x="325.5" y="174.5" width="7" height="11.25" fill="#fff" stroke="#1a1a1a" stroke-width="0.9" />
<line x1="328.5" y1="174.5" x2="328.5" y2="168.27" stroke="#1a1a1a" stroke-width="0.8" />
<line x1="326.9" y1="168.27" x2="330.1" y2="168.27" stroke="#1a1a1a" stroke-width="0.8" />
<line x1="328.5" y1="174.5" x2="328.5" y2="178.39" stroke="#1a1a1a" stroke-width="0.8" />
<line x1="326.9" y1="178.39" x2="330.1" y2="178.39" stroke="#1a1a1a" stroke-width="0.8" />
<rect x="333.5" y="167.5" width="7" height="18.25" fill="#fff" stroke="#1a1a1a" stroke-width="0.9" />
<line x1="336.5" y1="167.5" x2="336.5" y2="165.05" stroke="#1a1a1a" stroke-width="0.8" />
<line x1="334.9" y1="165.05" x2="338.1" y2="165.05" stroke="#1a1a1a" stroke-width="0.8" />
<rect x="341.5" y="177.5" width="7" height="8.25" fill="#fff" stroke="#1a1a1a" stroke-width="0.9" />
<rect x="349.5" y="180.5" width="7" height="5.25" fill="#fff" stroke="#1a1a1a" stroke-width="0.9" />
<rect x="357.5" y="163.5" width="7" height="22.25" fill="#fff" stroke="#1a1a1a" stroke-width="0.9" />
<line x1="360.5" y1="163.5" x2="360.5" y2="158.61" stroke="#1a1a1a" stroke-width="0.8" />
<line x1="358.9" y1="158.61" x2="362.1" y2="158.61" stroke="#1a1a1a" stroke-width="0.8" />
<rect x="365.5" y="176.5" width="7" height="9.25" fill="#fff" stroke="#1a1a1a" stroke-width="0.9" />
<line x1="368.5" y1="176.5" x2="368.5" y2="170.11" stroke="#1a1a1a" stroke-width="0.8" />
<line x1="366.9" y1="170.11" x2="370.1" y2="170.11" stroke="#1a1a1a" stroke-width="0.8" />
<line x1="368.5" y1="176.5" x2="368.5" y2="181.15" stroke="#1a1a1a" stroke-width="0.8" />
<line x1="366.9" y1="181.15" x2="370.1" y2="181.15" stroke="#1a1a1a" stroke-width="0.8" />
<rect x="373.5" y="176.5" width="7" height="9.25" fill="#fff" stroke="#1a1a1a" stroke-width="0.9" />
<line x1="376.5" y1="176.5" x2="376.5" y2="174.71" stroke="#1a1a1a" stroke-width="0.8" />
<line x1="374.9" y1="174.71" x2="378.1" y2="174.71" stroke="#1a1a1a" stroke-width="0.8" />
<rect x="381.5" y="148.5" width="7" height="37.25" fill="#fff" stroke="#1a1a1a" stroke-width="0.9" />
<line x1="384.5" y1="148.5" x2="384.5" y2="125.95" stroke="#1a1a1a" stroke-width="0.8" />
<line x1="382.9" y1="125.95" x2="386.1" y2="125.95" stroke="#1a1a1a" stroke-width="0.8" />
<line x1="384.5" y1="148.5" x2="384.5" y2="167.35" stroke="#1a1a1a" stroke-width="0.8" />
<line x1="382.9" y1="167.35" x2="386.1" y2="167.35" stroke="#1a1a1a" stroke-width="0.8" />
<rect x="389.5" y="154.5" width="7" height="31.25" fill="#fff" stroke="#1a1a1a" stroke-width="0.9" />
<line x1="392.5" y1="154.5" x2="392.5" y2="133.77" stroke="#1a1a1a" stroke-width="0.8" />
<line x1="390.9" y1="133.77" x2="394.1" y2="133.77" stroke="#1a1a1a" stroke-width="0.8" />
<line x1="392.5" y1="154.5" x2="392.5" y2="175.17" stroke="#1a1a1a" stroke-width="0.8" />
<line x1="390.9" y1="175.17" x2="394.1" y2="175.17" stroke="#1a1a1a" stroke-width="0.8" />
<rect x="396.5" y="165.5" width="7" height="20.25" fill="#fff" stroke="#1a1a1a" stroke-width="0.9" />
<line x1="399.5" y1="165.5" x2="399.5" y2="152.17" stroke="#1a1a1a" stroke-width="0.8" />
<line x1="397.9" y1="152.17" x2="401.1" y2="152.17" stroke="#1a1a1a" stroke-width="0.8" />
<line x1="399.5" y1="165.5" x2="399.5" y2="177.93" stroke="#1a1a1a" stroke-width="0.8" />
<line x1="397.9" y1="177.93" x2="401.1" y2="177.93" stroke="#1a1a1a" stroke-width="0.8" />
<rect x="404.5" y="177.5" width="7" height="8.25" fill="#fff" stroke="#1a1a1a" stroke-width="0.9" />
<line x1="407.5" y1="177.5" x2="407.5" y2="172.87" stroke="#1a1a1a" stroke-width="0.8" />
<line x1="405.9" y1="172.87" x2="409.1" y2="172.87" stroke="#1a1a1a" stroke-width="0.8" />
<rect x="412.5" y="176.5" width="7" height="9.25" fill="#fff" stroke="#1a1a1a" stroke-width="0.9" />
<line x1="415.5" y1="176.5" x2="415.5" y2="173.79" stroke="#1a1a1a" stroke-width="0.8" />
<line x1="413.9" y1="173.79" x2="417.1" y2="173.79" stroke="#1a1a1a" stroke-width="0.8" />
<rect x="420.5" y="179.5" width="7" height="6.25" fill="#fff" stroke="#1a1a1a" stroke-width="0.9" />
<rect x="428.5" y="177.5" width="7" height="8.25" fill="#fff" stroke="#1a1a1a" stroke-width="0.9" />
<line x1="431.5" y1="177.5" x2="431.5" y2="172.41" stroke="#1a1a1a" stroke-width="0.8" />
<line x1="429.9" y1="172.41" x2="433.1" y2="172.41" stroke="#1a1a1a" stroke-width="0.8" />
<rect x="436.5" y="162.5" width="7" height="23.25" fill="#fff" stroke="#1a1a1a" stroke-width="0.9" />
<line x1="439.5" y1="162.5" x2="439.5" y2="144.81" stroke="#1a1a1a" stroke-width="0.8" />
<line x1="437.9" y1="144.81" x2="441.1" y2="144.81" stroke="#1a1a1a" stroke-width="0.8" />
<line x1="439.5" y1="162.5" x2="439.5" y2="176.55" stroke="#1a1a1a" stroke-width="0.8" />
<line x1="437.9" y1="176.55" x2="441.1" y2="176.55" stroke="#1a1a1a" stroke-width="0.8" />
<rect x="444.5" y="154.5" width="7" height="31.25" fill="#fff" stroke="#1a1a1a" stroke-width="0.9" />
<line x1="447.5" y1="154.5" x2="447.5" y2="151.25" stroke="#1a1a1a" stroke-width="0.8" />
<line x1="445.9" y1="151.25" x2="449.1" y2="151.25" stroke="#1a1a1a" stroke-width="0.8" />
<rect x="452.5" y="142.5" width="7" height="43.25" fill="#fff" stroke="#1a1a1a" stroke-width="0.9" />
<line x1="455.5" y1="142.5" x2="455.5" y2="123.19" stroke="#1a1a1a" stroke-width="0.8" />
<line x1="453.9" y1="123.19" x2="457.1" y2="123.19" stroke="#1a1a1a" stroke-width="0.8" />
<line x1="455.5" y1="142.5" x2="455.5" y2="160.45" stroke="#1a1a1a" stroke-width="0.8" />
<line x1="453.9" y1="160.45" x2="457.1" y2="160.45" stroke="#1a1a1a" stroke-width="0.8" />
<rect x="460.5" y="170.5" width="7" height="15.25" fill="#fff" stroke="#1a1a1a" stroke-width="0.9" />
<line x1="463.5" y1="170.5" x2="463.5" y2="162.29" stroke="#1a1a1a" stroke-width="0.8" />
<line x1="461.9" y1="162.29" x2="465.1" y2="162.29" stroke="#1a1a1a" stroke-width="0.8" />
<line x1="463.5" y1="170.5" x2="463.5" y2="176.55" stroke="#1a1a1a" stroke-width="0.8" />
<line x1="461.9" y1="176.55" x2="465.1" y2="176.55" stroke="#1a1a1a" stroke-width="0.8" />
<rect x="468.5" y="175.5" width="7" height="10.25" fill="#fff" stroke="#1a1a1a" stroke-width="0.9" />
<line x1="471.5" y1="175.5" x2="471.5" y2="173.79" stroke="#1a1a1a" stroke-width="0.8" />
<line x1="469.9" y1="173.79" x2="473.1" y2="173.79" stroke="#1a1a1a" stroke-width="0.8" />
<rect x="476.5" y="174.5" width="7" height="11.25" fill="#fff" stroke="#1a1a1a" stroke-width="0.9" />
<line x1="479.5" y1="174.5" x2="479.5" y2="169.65" stroke="#1a1a1a" stroke-width="0.8" />
<line x1="477.9" y1="169.65" x2="481.1" y2="169.65" stroke="#1a1a1a" stroke-width="0.8" />
<line x1="479.5" y1="174.5" x2="479.5" y2="178.85" stroke="#1a1a1a" stroke-width="0.8" />
<line x1="477.9" y1="178.85" x2="481.1" y2="178.85" stroke="#1a1a1a" stroke-width="0.8" />
<rect x="483.5" y="176.5" width="7" height="9.25" fill="#fff" stroke="#1a1a1a" stroke-width="0.9" />
<line x1="486.5" y1="176.5" x2="486.5" y2="174.71" stroke="#1a1a1a" stroke-width="0.8" />
<line x1="484.9" y1="174.71" x2="488.1" y2="174.71" stroke="#1a1a1a" stroke-width="0.8" />
<rect x="491.5" y="169.5" width="7" height="16.25" fill="#fff" stroke="#1a1a1a" stroke-width="0.9" />
<line x1="494.5" y1="169.5" x2="494.5" y2="161.83" stroke="#1a1a1a" stroke-width="0.8" />
<line x1="492.9" y1="161.83" x2="496.1" y2="161.83" stroke="#1a1a1a" stroke-width="0.8" />
<line x1="494.5" y1="169.5" x2="494.5" y2="178.85" stroke="#1a1a1a" stroke-width="0.8" />
<line x1="492.9" y1="178.85" x2="496.1" y2="178.85" stroke="#1a1a1a" stroke-width="0.8" />
<rect x="499.5" y="175.5" width="7" height="10.25" fill="#fff" stroke="#1a1a1a" stroke-width="0.9" />
<line x1="502.5" y1="175.5" x2="502.5" y2="173.33" stroke="#1a1a1a" stroke-width="0.8" />
<line x1="500.9" y1="173.33" x2="504.1" y2="173.33" stroke="#1a1a1a" stroke-width="0.8" />
<circle cx="311.4" cy="170.73" r="1.35" fill="#a3192f"/>
<circle cx="313.4" cy="170.44" r="1.35" fill="#a3192f"/>
<circle cx="315.4" cy="171.02" r="1.35" fill="#a3192f"/>
<circle cx="319.71" cy="167.51" r="1.35" fill="#a3192f"/>
<circle cx="322.91" cy="171.19" r="1.35" fill="#a3192f"/>
<circle cx="321.31" cy="174.41" r="1.35" fill="#a3192f"/>
<circle cx="327.62" cy="168.43" r="1.35" fill="#a3192f"/>
<circle cx="330.82" cy="174.87" r="1.35" fill="#a3192f"/>
<circle cx="329.22" cy="177.63" r="1.35" fill="#a3192f"/>
<circle cx="335.13" cy="165.21" r="1.35" fill="#a3192f"/>
<circle cx="337.13" cy="167.51" r="1.35" fill="#a3192f"/>
<circle cx="339.13" cy="167.97" r="1.35" fill="#a3192f"/>
<circle cx="343.04" cy="177.63" r="1.35" fill="#a3192f"/>
<circle cx="345.04" cy="177.47" r="1.35" fill="#a3192f"/>
<circle cx="347.04" cy="177.79" r="1.35" fill="#a3192f"/>
<circle cx="350.95" cy="180.39" r="1.35" fill="#a3192f"/>
<circle cx="352.95" cy="180.29" r="1.35" fill="#a3192f"/>
<circle cx="354.95" cy="180.49" r="1.35" fill="#a3192f"/>
<circle cx="359.26" cy="159.69" r="1.35" fill="#a3192f"/>
<circle cx="362.46" cy="163.83" r="1.35" fill="#a3192f"/>
<circle cx="360.86" cy="164.29" r="1.35" fill="#a3192f"/>
<circle cx="367.17" cy="170.27" r="1.35" fill="#a3192f"/>
<circle cx="370.37" cy="176.71" r="1.35" fill="#a3192f"/>
<circle cx="368.77" cy="180.39" r="1.35" fill="#a3192f"/>
<circle cx="374.68" cy="175.33" r="1.35" fill="#a3192f"/>
<circle cx="376.68" cy="176.71" r="1.35" fill="#a3192f"/>
<circle cx="378.68" cy="177.17" r="1.35" fill="#a3192f"/>
<circle cx="382.99" cy="125.65" r="1.35" fill="#a3192f"/>
<circle cx="386.19" cy="158.31" r="1.35" fill="#a3192f"/>
<circle cx="384.59" cy="164.75" r="1.35" fill="#a3192f"/>
<circle cx="390.9" cy="133.93" r="1.35" fill="#a3192f"/>
<circle cx="394.1" cy="153.25" r="1.35" fill="#a3192f"/>
<circle cx="392.5" cy="174.87" r="1.35" fill="#a3192f"/>
<circle cx="398.81" cy="154.63" r="1.35" fill="#a3192f"/>
<circle cx="402.01" cy="164.29" r="1.35" fill="#a3192f"/>
<circle cx="400.41" cy="176.71" r="1.35" fill="#a3192f"/>
<circle cx="406.72" cy="173.49" r="1.35" fill="#a3192f"/>
<circle cx="409.92" cy="176.71" r="1.35" fill="#a3192f"/>
<circle cx="408.32" cy="178.55" r="1.35" fill="#a3192f"/>
<circle cx="414.23" cy="174.41" r="1.35" fill="#a3192f"/>
<circle cx="416.23" cy="176.71" r="1.35" fill="#a3192f"/>
<circle cx="418.23" cy="177.17" r="1.35" fill="#a3192f"/>
<circle cx="422.14" cy="179.01" r="1.35" fill="#a3192f"/>
<circle cx="424.14" cy="178.88" r="1.35" fill="#a3192f"/>
<circle cx="426.14" cy="179.14" r="1.35" fill="#a3192f"/>
<circle cx="430.45" cy="172.57" r="1.35" fill="#a3192f"/>
<circle cx="433.65" cy="178.09" r="1.35" fill="#a3192f"/>
<circle cx="432.05" cy="179.01" r="1.35" fill="#a3192f"/>
<circle cx="438.36" cy="146.35" r="1.35" fill="#a3192f"/>
<circle cx="441.56" cy="168.89" r="1.35" fill="#a3192f"/>
<circle cx="439.96" cy="172.57" r="1.35" fill="#a3192f"/>
<circle cx="445.87" cy="151.41" r="1.35" fill="#a3192f"/>
<circle cx="447.87" cy="153.25" r="1.35" fill="#a3192f"/>
<circle cx="449.87" cy="155.09" r="1.35" fill="#a3192f"/>
<circle cx="454.18" cy="123.81" r="1.35" fill="#a3192f"/>
<circle cx="457.38" cy="141.75" r="1.35" fill="#a3192f"/>
<circle cx="455.78" cy="158.77" r="1.35" fill="#a3192f"/>
<circle cx="462.09" cy="162.91" r="1.35" fill="#a3192f"/>
<circle cx="465.29" cy="172.11" r="1.35" fill="#a3192f"/>
<circle cx="463.69" cy="173.95" r="1.35" fill="#a3192f"/>
<circle cx="469.6" cy="173.95" r="1.35" fill="#a3192f"/>
<circle cx="471.6" cy="175.79" r="1.35" fill="#a3192f"/>
<circle cx="473.6" cy="176.71" r="1.35" fill="#a3192f"/>
<circle cx="477.91" cy="170.27" r="1.35" fill="#a3192f"/>
<circle cx="481.11" cy="174.41" r="1.35" fill="#a3192f"/>
<circle cx="479.51" cy="177.17" r="1.35" fill="#a3192f"/>
<circle cx="485.42" cy="174.87" r="1.35" fill="#a3192f"/>
<circle cx="487.42" cy="175.79" r="1.35" fill="#a3192f"/>
<circle cx="489.42" cy="176.25" r="1.35" fill="#a3192f"/>
<circle cx="493.73" cy="161.99" r="1.35" fill="#a3192f"/>
<circle cx="496.93" cy="168.89" r="1.35" fill="#a3192f"/>
<circle cx="495.33" cy="178.55" r="1.35" fill="#a3192f"/>
<circle cx="501.64" cy="173.95" r="1.35" fill="#a3192f"/>
<circle cx="504.84" cy="175.33" r="1.35" fill="#a3192f"/>
<circle cx="503.24" cy="178.09" r="1.35" fill="#a3192f"/>
<line x1="305.5" y1="186.25" x2="305.5" y2="114.25" stroke="#2a2a2a" stroke-width="1.1" />
<line x1="305" y1="185.75" x2="512.4" y2="185.75" stroke="#2a2a2a" stroke-width="1.1" />
<line x1="302.7" y1="185.75" x2="305.5" y2="185.75" stroke="#2a2a2a" stroke-width="0.9" />
<text x="299.4" y="188.15" font-size="7" fill="#2a2a2a" text-anchor="end" transform="translate(299.4 188.15) scale(0.8 1) translate(-299.4 -188.15)"  stroke="#2a2a2a" stroke-width="0.1">0</text>
<line x1="302.7" y1="162.75" x2="305.5" y2="162.75" stroke="#2a2a2a" stroke-width="0.9" />
<text x="299.4" y="165.15" font-size="7" fill="#2a2a2a" text-anchor="end" transform="translate(299.4 165.15) scale(0.8 1) translate(-299.4 -165.15)"  stroke="#2a2a2a" stroke-width="0.1">5</text>
<line x1="302.7" y1="139.75" x2="305.5" y2="139.75" stroke="#2a2a2a" stroke-width="0.9" />
<text x="299.4" y="142.15" font-size="7" fill="#2a2a2a" text-anchor="end" transform="translate(299.4 142.15) scale(0.8 1) translate(-299.4 -142.15)"  stroke="#2a2a2a" stroke-width="0.1">10</text>
<line x1="302.7" y1="116.75" x2="305.5" y2="116.75" stroke="#2a2a2a" stroke-width="0.9" />
<text x="299.4" y="119.15" font-size="7" fill="#2a2a2a" text-anchor="end" transform="translate(299.4 119.15) scale(0.8 1) translate(-299.4 -119.15)"  stroke="#2a2a2a" stroke-width="0.1">15</text>
<line x1="313.4" y1="185.75" x2="313.4" y2="188.75" stroke="#2a2a2a" stroke-width="0.9" />
<text x="316.2" y="193.95" font-size="5.7" fill="#222" text-anchor="end" transform="rotate(-45 316.2 193.95)"  textLength="7.69" lengthAdjust="spacingAndGlyphs" stroke="#222" stroke-width="0.25">3.1</text>
<line x1="321.31" y1="185.75" x2="321.31" y2="188.75" stroke="#2a2a2a" stroke-width="0.9" />
<text x="324.11" y="193.95" font-size="5.7" fill="#222" text-anchor="end" transform="rotate(-45 324.11 193.95)"  textLength="7.69" lengthAdjust="spacingAndGlyphs" stroke="#222" stroke-width="0.25">3.2</text>
<line x1="329.22" y1="185.75" x2="329.22" y2="188.75" stroke="#2a2a2a" stroke-width="0.9" />
<text x="332.02" y="193.95" font-size="5.7" fill="#222" text-anchor="end" transform="rotate(-45 332.02 193.95)"  textLength="7.69" lengthAdjust="spacingAndGlyphs" stroke="#222" stroke-width="0.25">4.1</text>
<line x1="337.13" y1="185.75" x2="337.13" y2="188.75" stroke="#2a2a2a" stroke-width="0.9" />
<text x="339.93" y="193.95" font-size="5.7" fill="#222" text-anchor="end" transform="rotate(-45 339.93 193.95)"  textLength="7.69" lengthAdjust="spacingAndGlyphs" stroke="#222" stroke-width="0.25">4.2</text>
<line x1="345.04" y1="185.75" x2="345.04" y2="188.75" stroke="#2a2a2a" stroke-width="0.9" />
<text x="347.84" y="193.95" font-size="5.7" fill="#222" text-anchor="end" transform="rotate(-45 347.84 193.95)"  textLength="7.69" lengthAdjust="spacingAndGlyphs" stroke="#222" stroke-width="0.25">4.3</text>
<line x1="352.95" y1="185.75" x2="352.95" y2="188.75" stroke="#2a2a2a" stroke-width="0.9" />
<text x="355.75" y="193.95" font-size="5.7" fill="#222" text-anchor="end" transform="rotate(-45 355.75 193.95)"  textLength="10.76" lengthAdjust="spacingAndGlyphs" stroke="#222" stroke-width="0.25">12.1</text>
<line x1="360.86" y1="185.75" x2="360.86" y2="188.75" stroke="#2a2a2a" stroke-width="0.9" />
<text x="363.66" y="193.95" font-size="5.7" fill="#222" text-anchor="end" transform="rotate(-45 363.66 193.95)"  textLength="10.76" lengthAdjust="spacingAndGlyphs" stroke="#222" stroke-width="0.25">12.2</text>
<line x1="368.77" y1="185.75" x2="368.77" y2="188.75" stroke="#2a2a2a" stroke-width="0.9" />
<text x="371.57" y="193.95" font-size="5.7" fill="#222" text-anchor="end" transform="rotate(-45 371.57 193.95)"  textLength="10.76" lengthAdjust="spacingAndGlyphs" stroke="#222" stroke-width="0.25">12.3</text>
<line x1="376.68" y1="185.75" x2="376.68" y2="188.75" stroke="#2a2a2a" stroke-width="0.9" />
<text x="379.48" y="193.95" font-size="5.7" fill="#222" text-anchor="end" transform="rotate(-45 379.48 193.95)"  textLength="10.76" lengthAdjust="spacingAndGlyphs" stroke="#222" stroke-width="0.25">12.4</text>
<line x1="384.59" y1="185.75" x2="384.59" y2="188.75" stroke="#2a2a2a" stroke-width="0.9" />
<text x="387.39" y="193.95" font-size="5.7" fill="#222" text-anchor="end" transform="rotate(-45 387.39 193.95)"  textLength="10.76" lengthAdjust="spacingAndGlyphs" stroke="#222" stroke-width="0.25">12.5</text>
<line x1="392.5" y1="185.75" x2="392.5" y2="188.75" stroke="#2a2a2a" stroke-width="0.9" />
<text x="395.3" y="193.95" font-size="5.7" fill="#222" text-anchor="end" transform="rotate(-45 395.3 193.95)"  textLength="10.76" lengthAdjust="spacingAndGlyphs" stroke="#222" stroke-width="0.25">20.1</text>
<line x1="400.41" y1="185.75" x2="400.41" y2="188.75" stroke="#2a2a2a" stroke-width="0.9" />
<text x="403.21" y="193.95" font-size="5.7" fill="#222" text-anchor="end" transform="rotate(-45 403.21 193.95)"  textLength="10.76" lengthAdjust="spacingAndGlyphs" stroke="#222" stroke-width="0.25">21.1</text>
<line x1="408.32" y1="185.75" x2="408.32" y2="188.75" stroke="#2a2a2a" stroke-width="0.9" />
<text x="411.12" y="193.95" font-size="5.7" fill="#222" text-anchor="end" transform="rotate(-45 411.12 193.95)"  textLength="10.76" lengthAdjust="spacingAndGlyphs" stroke="#222" stroke-width="0.25">22.1</text>
<line x1="416.23" y1="185.75" x2="416.23" y2="188.75" stroke="#2a2a2a" stroke-width="0.9" />
<text x="419.03" y="193.95" font-size="5.7" fill="#222" text-anchor="end" transform="rotate(-45 419.03 193.95)"  textLength="10.76" lengthAdjust="spacingAndGlyphs" stroke="#222" stroke-width="0.25">23.1</text>
<line x1="424.14" y1="185.75" x2="424.14" y2="188.75" stroke="#2a2a2a" stroke-width="0.9" />
<text x="426.94" y="193.95" font-size="5.7" fill="#222" text-anchor="end" transform="rotate(-45 426.94 193.95)"  textLength="10.76" lengthAdjust="spacingAndGlyphs" stroke="#222" stroke-width="0.25">24.1</text>
<line x1="432.05" y1="185.75" x2="432.05" y2="188.75" stroke="#2a2a2a" stroke-width="0.9" />
<text x="434.85" y="193.95" font-size="5.7" fill="#222" text-anchor="end" transform="rotate(-45 434.85 193.95)"  textLength="16.9" lengthAdjust="spacingAndGlyphs" stroke="#222" stroke-width="0.25">Renilla</text>
<line x1="439.96" y1="185.75" x2="439.96" y2="188.75" stroke="#2a2a2a" stroke-width="0.9" />
<text x="442.76" y="193.95" font-size="5.7" fill="#222" text-anchor="end" transform="rotate(-45 442.76 193.95)"  textLength="19.36" lengthAdjust="spacingAndGlyphs" stroke="#222" stroke-width="0.25">BRD4.2</text>
<line x1="447.87" y1="185.75" x2="447.87" y2="188.75" stroke="#2a2a2a" stroke-width="0.9" />
<text x="450.67" y="193.95" font-size="5.7" fill="#222" text-anchor="end" transform="rotate(-45 450.67 193.95)"  textLength="19.36" lengthAdjust="spacingAndGlyphs" stroke="#222" stroke-width="0.25">BRD4.4</text>
<line x1="455.78" y1="185.75" x2="455.78" y2="188.75" stroke="#2a2a2a" stroke-width="0.9" />
<text x="458.58" y="193.95" font-size="5.7" fill="#222" text-anchor="end" transform="rotate(-45 458.58 193.95)"  textLength="22.43" lengthAdjust="spacingAndGlyphs" stroke="#222" stroke-width="0.25">DOT1L.3</text>
<line x1="463.69" y1="185.75" x2="463.69" y2="188.75" stroke="#2a2a2a" stroke-width="0.9" />
<text x="466.49" y="193.95" font-size="5.7" fill="#222" text-anchor="end" transform="rotate(-45 466.49 193.95)"  textLength="22.43" lengthAdjust="spacingAndGlyphs" stroke="#222" stroke-width="0.25">DOT1L.4</text>
<line x1="471.6" y1="185.75" x2="471.6" y2="188.75" stroke="#2a2a2a" stroke-width="0.9" />
<text x="474.4" y="193.95" font-size="5.7" fill="#222" text-anchor="end" transform="rotate(-45 474.4 193.95)"  textLength="18.64" lengthAdjust="spacingAndGlyphs" stroke="#222" stroke-width="0.25">RPA3.1</text>
<line x1="479.51" y1="185.75" x2="479.51" y2="188.75" stroke="#2a2a2a" stroke-width="0.9" />
<text x="482.31" y="193.95" font-size="5.7" fill="#222" text-anchor="end" transform="rotate(-45 482.31 193.95)"  textLength="18.64" lengthAdjust="spacingAndGlyphs" stroke="#222" stroke-width="0.25">RPA3.4</text>
<line x1="487.42" y1="185.75" x2="487.42" y2="188.75" stroke="#2a2a2a" stroke-width="0.9" />
<text x="490.22" y="193.95" font-size="5.7" fill="#222" text-anchor="end" transform="rotate(-45 490.22 193.95)"  textLength="21.82" lengthAdjust="spacingAndGlyphs" stroke="#222" stroke-width="0.25">POLRA2</text>
<line x1="495.33" y1="185.75" x2="495.33" y2="188.75" stroke="#2a2a2a" stroke-width="0.9" />
<text x="498.13" y="193.95" font-size="5.7" fill="#222" text-anchor="end" transform="rotate(-45 498.13 193.95)"  textLength="21.82" lengthAdjust="spacingAndGlyphs" stroke="#222" stroke-width="0.25">POLRA4</text>
<line x1="503.24" y1="185.75" x2="503.24" y2="188.75" stroke="#2a2a2a" stroke-width="0.9" />
<text x="506.04" y="193.95" font-size="5.7" fill="#222" text-anchor="end" transform="rotate(-45 506.04 193.95)"  textLength="21.82" lengthAdjust="spacingAndGlyphs" stroke="#222" stroke-width="0.25">POLRA9</text>
<text x="391.2" y="119.1" font-size="5.6" fill="#222">MONO-MAC1</text>
<text x="286.5" y="150.5" font-size="9.12" fill="#2a2a2a" text-anchor="middle" transform="rotate(-90 286.5 150.5)"  textLength="50.7" lengthAdjust="spacingAndGlyphs" stroke="#2a2a2a" stroke-width="0.1">Fold depletion</text>
<line x1="305.5" y1="277" x2="512.4" y2="277" stroke="#858a92" stroke-width="0.75" stroke-dasharray="2 0.7"/>
<rect x="309.5" y="280.5" width="7" height="7.1" fill="#fff" stroke="#1a1a1a" stroke-width="0.9" />
<rect x="317.5" y="280.5" width="7" height="7.1" fill="#fff" stroke="#1a1a1a" stroke-width="0.9" />
<rect x="325.5" y="281.5" width="7" height="6.1" fill="#fff" stroke="#1a1a1a" stroke-width="0.9" />
<rect x="333.5" y="275.5" width="7" height="12.1" fill="#fff" stroke="#1a1a1a" stroke-width="0.9" />
<rect x="341.5" y="280.5" width="7" height="7.1" fill="#fff" stroke="#1a1a1a" stroke-width="0.9" />
<rect x="349.5" y="282.5" width="7" height="5.1" fill="#fff" stroke="#1a1a1a" stroke-width="0.9" />
<rect x="357.5" y="277.5" width="7" height="10.1" fill="#fff" stroke="#1a1a1a" stroke-width="0.9" />
<line x1="360.5" y1="277.5" x2="360.5" y2="271.7" stroke="#1a1a1a" stroke-width="0.8" />
<line x1="358.9" y1="271.7" x2="362.1" y2="271.7" stroke="#1a1a1a" stroke-width="0.8" />
<line x1="360.5" y1="277.5" x2="360.5" y2="281.24" stroke="#1a1a1a" stroke-width="0.8" />
<line x1="358.9" y1="281.24" x2="362.1" y2="281.24" stroke="#1a1a1a" stroke-width="0.8" />
<rect x="365.5" y="280.5" width="7" height="7.1" fill="#fff" stroke="#1a1a1a" stroke-width="0.9" />
<rect x="373.5" y="282.5" width="7" height="5.1" fill="#fff" stroke="#1a1a1a" stroke-width="0.9" />
<rect x="381.5" y="281.5" width="7" height="6.1" fill="#fff" stroke="#1a1a1a" stroke-width="0.9" />
<rect x="389.5" y="283.5" width="7" height="4.1" fill="#fff" stroke="#1a1a1a" stroke-width="0.9" />
<rect x="396.5" y="280.5" width="7" height="7.1" fill="#fff" stroke="#1a1a1a" stroke-width="0.9" />
<rect x="404.5" y="281.5" width="7" height="6.1" fill="#fff" stroke="#1a1a1a" stroke-width="0.9" />
<rect x="412.5" y="281.5" width="7" height="6.1" fill="#fff" stroke="#1a1a1a" stroke-width="0.9" />
<rect x="420.5" y="281.5" width="7" height="6.1" fill="#fff" stroke="#1a1a1a" stroke-width="0.9" />
<rect x="428.5" y="280.5" width="7" height="7.1" fill="#fff" stroke="#1a1a1a" stroke-width="0.9" />
<rect x="436.5" y="278.5" width="7" height="9.1" fill="#fff" stroke="#1a1a1a" stroke-width="0.9" />
<line x1="439.5" y1="278.5" x2="439.5" y2="272.23" stroke="#1a1a1a" stroke-width="0.8" />
<line x1="437.9" y1="272.23" x2="441.1" y2="272.23" stroke="#1a1a1a" stroke-width="0.8" />
<line x1="439.5" y1="278.5" x2="439.5" y2="282.83" stroke="#1a1a1a" stroke-width="0.8" />
<line x1="437.9" y1="282.83" x2="441.1" y2="282.83" stroke="#1a1a1a" stroke-width="0.8" />
<rect x="444.5" y="281.5" width="7" height="6.1" fill="#fff" stroke="#1a1a1a" stroke-width="0.9" />
<line x1="447.5" y1="281.5" x2="447.5" y2="279.92" stroke="#1a1a1a" stroke-width="0.8" />
<line x1="445.9" y1="279.92" x2="449.1" y2="279.92" stroke="#1a1a1a" stroke-width="0.8" />
<rect x="452.5" y="285.5" width="7" height="2.1" fill="#fff" stroke="#1a1a1a" stroke-width="0.9" />
<rect x="460.5" y="283.5" width="7" height="4.1" fill="#fff" stroke="#1a1a1a" stroke-width="0.9" />
<line x1="463.5" y1="283.5" x2="463.5" y2="281.77" stroke="#1a1a1a" stroke-width="0.8" />
<line x1="461.9" y1="281.77" x2="465.1" y2="281.77" stroke="#1a1a1a" stroke-width="0.8" />
<rect x="468.5" y="276.5" width="7" height="11.1" fill="#fff" stroke="#1a1a1a" stroke-width="0.9" />
<line x1="471.5" y1="276.5" x2="471.5" y2="256.86" stroke="#1a1a1a" stroke-width="0.8" />
<line x1="469.9" y1="256.86" x2="473.1" y2="256.86" stroke="#1a1a1a" stroke-width="0.8" />
<line x1="471.5" y1="276.5" x2="471.5" y2="284.95" stroke="#1a1a1a" stroke-width="0.8" />
<line x1="469.9" y1="284.95" x2="473.1" y2="284.95" stroke="#1a1a1a" stroke-width="0.8" />
<rect x="476.5" y="259.5" width="7" height="28.1" fill="#fff" stroke="#1a1a1a" stroke-width="0.9" />
<line x1="479.5" y1="259.5" x2="479.5" y2="246.6" stroke="#1a1a1a" stroke-width="0.8" />
<line x1="477.9" y1="246.6" x2="481.1" y2="246.6" stroke="#1a1a1a" stroke-width="0.8" />
<line x1="479.5" y1="259.5" x2="479.5" y2="284.95" stroke="#1a1a1a" stroke-width="0.8" />
<line x1="477.9" y1="284.95" x2="481.1" y2="284.95" stroke="#1a1a1a" stroke-width="0.8" />
<rect x="483.5" y="281.5" width="7" height="6.1" fill="#fff" stroke="#1a1a1a" stroke-width="0.9" />
<rect x="491.5" y="282.5" width="7" height="5.1" fill="#fff" stroke="#1a1a1a" stroke-width="0.9" />
<line x1="494.5" y1="282.5" x2="494.5" y2="276.47" stroke="#1a1a1a" stroke-width="0.8" />
<line x1="492.9" y1="276.47" x2="496.1" y2="276.47" stroke="#1a1a1a" stroke-width="0.8" />
<line x1="494.5" y1="282.5" x2="494.5" y2="286.01" stroke="#1a1a1a" stroke-width="0.8" />
<line x1="492.9" y1="286.01" x2="496.1" y2="286.01" stroke="#1a1a1a" stroke-width="0.8" />
<rect x="499.5" y="274.5" width="7" height="13.1" fill="#fff" stroke="#1a1a1a" stroke-width="0.9" />
<line x1="502.5" y1="274.5" x2="502.5" y2="246.6" stroke="#1a1a1a" stroke-width="0.8" />
<line x1="500.9" y1="246.6" x2="504.1" y2="246.6" stroke="#1a1a1a" stroke-width="0.8" />
<line x1="502.5" y1="274.5" x2="502.5" y2="286.01" stroke="#1a1a1a" stroke-width="0.8" />
<line x1="500.9" y1="286.01" x2="504.1" y2="286.01" stroke="#1a1a1a" stroke-width="0.8" />
<circle cx="311.4" cy="280.41" r="1.35" fill="#a3192f"/>
<circle cx="313.4" cy="280.27" r="1.35" fill="#a3192f"/>
<circle cx="315.4" cy="280.55" r="1.35" fill="#a3192f"/>
<circle cx="319.31" cy="279.88" r="1.35" fill="#a3192f"/>
<circle cx="321.31" cy="279.73" r="1.35" fill="#a3192f"/>
<circle cx="323.31" cy="280.03" r="1.35" fill="#a3192f"/>
<circle cx="327.22" cy="281.47" r="1.35" fill="#a3192f"/>
<circle cx="329.22" cy="281.35" r="1.35" fill="#a3192f"/>
<circle cx="331.22" cy="281.59" r="1.35" fill="#a3192f"/>
<circle cx="335.13" cy="274.05" r="1.35" fill="#a3192f"/>
<circle cx="337.13" cy="275.64" r="1.35" fill="#a3192f"/>
<circle cx="339.13" cy="276.7" r="1.35" fill="#a3192f"/>
<circle cx="343.04" cy="280.41" r="1.35" fill="#a3192f"/>
<circle cx="345.04" cy="280.27" r="1.35" fill="#a3192f"/>
<circle cx="347.04" cy="280.55" r="1.35" fill="#a3192f"/>
<circle cx="350.95" cy="282.53" r="1.35" fill="#a3192f"/>
<circle cx="352.95" cy="282.43" r="1.35" fill="#a3192f"/>
<circle cx="354.95" cy="282.63" r="1.35" fill="#a3192f"/>
<circle cx="359.26" cy="271.4" r="1.35" fill="#a3192f"/>
<circle cx="362.46" cy="274.58" r="1.35" fill="#a3192f"/>
<circle cx="360.86" cy="280.94" r="1.35" fill="#a3192f"/>
<circle cx="366.77" cy="280.41" r="1.35" fill="#a3192f"/>
<circle cx="368.77" cy="280.27" r="1.35" fill="#a3192f"/>
<circle cx="370.77" cy="280.55" r="1.35" fill="#a3192f"/>
<circle cx="374.68" cy="282" r="1.35" fill="#a3192f"/>
<circle cx="376.68" cy="281.89" r="1.35" fill="#a3192f"/>
<circle cx="378.68" cy="282.11" r="1.35" fill="#a3192f"/>
<circle cx="382.59" cy="280.94" r="1.35" fill="#a3192f"/>
<circle cx="384.59" cy="280.81" r="1.35" fill="#a3192f"/>
<circle cx="386.59" cy="281.07" r="1.35" fill="#a3192f"/>
<circle cx="390.5" cy="282.8" r="1.35" fill="#a3192f"/>
<circle cx="392.5" cy="282.7" r="1.35" fill="#a3192f"/>
<circle cx="394.5" cy="282.89" r="1.35" fill="#a3192f"/>
<circle cx="398.41" cy="280.41" r="1.35" fill="#a3192f"/>
<circle cx="400.41" cy="280.27" r="1.35" fill="#a3192f"/>
<circle cx="402.41" cy="280.55" r="1.35" fill="#a3192f"/>
<circle cx="406.32" cy="281.47" r="1.35" fill="#a3192f"/>
<circle cx="408.32" cy="281.35" r="1.35" fill="#a3192f"/>
<circle cx="410.32" cy="281.59" r="1.35" fill="#a3192f"/>
<circle cx="414.23" cy="281.47" r="1.35" fill="#a3192f"/>
<circle cx="416.23" cy="281.35" r="1.35" fill="#a3192f"/>
<circle cx="418.23" cy="281.59" r="1.35" fill="#a3192f"/>
<circle cx="422.14" cy="281.47" r="1.35" fill="#a3192f"/>
<circle cx="424.14" cy="281.35" r="1.35" fill="#a3192f"/>
<circle cx="426.14" cy="281.59" r="1.35" fill="#a3192f"/>
<circle cx="430.05" cy="280.41" r="1.35" fill="#a3192f"/>
<circle cx="432.05" cy="280.27" r="1.35" fill="#a3192f"/>
<circle cx="434.05" cy="280.55" r="1.35" fill="#a3192f"/>
<circle cx="438.36" cy="275.64" r="1.35" fill="#a3192f"/>
<circle cx="441.56" cy="273.52" r="1.35" fill="#a3192f"/>
<circle cx="439.96" cy="282" r="1.35" fill="#a3192f"/>
<circle cx="446.27" cy="279.88" r="1.35" fill="#a3192f"/>
<circle cx="449.47" cy="281.47" r="1.35" fill="#a3192f"/>
<circle cx="447.87" cy="284.12" r="1.35" fill="#a3192f"/>
<circle cx="453.78" cy="284.92" r="1.35" fill="#a3192f"/>
<circle cx="455.78" cy="284.87" r="1.35" fill="#a3192f"/>
<circle cx="457.78" cy="284.96" r="1.35" fill="#a3192f"/>
<circle cx="461.69" cy="281.47" r="1.35" fill="#a3192f"/>
<circle cx="463.69" cy="283.59" r="1.35" fill="#a3192f"/>
<circle cx="465.69" cy="284.65" r="1.35" fill="#a3192f"/>
<circle cx="470" cy="256.56" r="1.35" fill="#a3192f"/>
<circle cx="473.2" cy="285.71" r="1.35" fill="#a3192f"/>
<circle cx="471.6" cy="284.12" r="1.35" fill="#a3192f"/>
<circle cx="477.91" cy="245.37" r="1.35" fill="#a3192f"/>
<circle cx="481.11" cy="260.27" r="1.35" fill="#a3192f"/>
<circle cx="479.51" cy="284.65" r="1.35" fill="#a3192f"/>
<circle cx="485.42" cy="281.47" r="1.35" fill="#a3192f"/>
<circle cx="487.42" cy="281.35" r="1.35" fill="#a3192f"/>
<circle cx="489.42" cy="281.59" r="1.35" fill="#a3192f"/>
<circle cx="493.73" cy="276.7" r="1.35" fill="#a3192f"/>
<circle cx="496.93" cy="282" r="1.35" fill="#a3192f"/>
<circle cx="495.33" cy="285.71" r="1.35" fill="#a3192f"/>
<circle cx="501.64" cy="246.3" r="1.35" fill="#a3192f"/>
<circle cx="504.84" cy="285.18" r="1.35" fill="#a3192f"/>
<circle cx="503.24" cy="285.71" r="1.35" fill="#a3192f"/>
<line x1="305.5" y1="288.1" x2="305.5" y2="255.8" stroke="#2a2a2a" stroke-width="1.1" />
<line x1="305.5" y1="250.7" x2="305.5" y2="216.3" stroke="#2a2a2a" stroke-width="1.1" />
<line x1="302.5" y1="250.7" x2="308.9" y2="250.7" stroke="#2a2a2a" stroke-width="1" />
<line x1="302.5" y1="255.8" x2="308.9" y2="255.8" stroke="#2a2a2a" stroke-width="1" />
<line x1="305" y1="287.6" x2="512.4" y2="287.6" stroke="#2a2a2a" stroke-width="1.1" />
<line x1="302.7" y1="287.6" x2="305.5" y2="287.6" stroke="#2a2a2a" stroke-width="0.9" />
<text x="299.4" y="290" font-size="7" fill="#2a2a2a" text-anchor="end" transform="translate(299.4 290) scale(0.8 1) translate(-299.4 -290)"  stroke="#2a2a2a" stroke-width="0.1">0</text>
<line x1="302.7" y1="277" x2="305.5" y2="277" stroke="#2a2a2a" stroke-width="0.9" />
<text x="299.4" y="279.4" font-size="7" fill="#2a2a2a" text-anchor="end" transform="translate(299.4 279.4) scale(0.8 1) translate(-299.4 -279.4)"  stroke="#2a2a2a" stroke-width="0.1">2</text>
<line x1="302.7" y1="266.4" x2="305.5" y2="266.4" stroke="#2a2a2a" stroke-width="0.9" />
<text x="299.4" y="268.8" font-size="7" fill="#2a2a2a" text-anchor="end" transform="translate(299.4 268.8) scale(0.8 1) translate(-299.4 -268.8)"  stroke="#2a2a2a" stroke-width="0.1">4</text>
<line x1="302.7" y1="255.8" x2="305.5" y2="255.8" stroke="#2a2a2a" stroke-width="0.9" />
<text x="299.4" y="258.2" font-size="7" fill="#2a2a2a" text-anchor="end" transform="translate(299.4 258.2) scale(0.8 1) translate(-299.4 -258.2)"  stroke="#2a2a2a" stroke-width="0.1">6</text>
<line x1="302.7" y1="246.6" x2="305.5" y2="246.6" stroke="#2a2a2a" stroke-width="0.9" />
<text x="299.4" y="249" font-size="7" fill="#2a2a2a" text-anchor="end" transform="translate(299.4 249) scale(0.8 1) translate(-299.4 -249)"  stroke="#2a2a2a" stroke-width="0.1">10</text>
<line x1="302.7" y1="237.33" x2="305.5" y2="237.33" stroke="#2a2a2a" stroke-width="0.9" />
<text x="299.4" y="239.73" font-size="7" fill="#2a2a2a" text-anchor="end" transform="translate(299.4 239.73) scale(0.8 1) translate(-299.4 -239.73)"  stroke="#2a2a2a" stroke-width="0.1">20</text>
<line x1="302.7" y1="228.07" x2="305.5" y2="228.07" stroke="#2a2a2a" stroke-width="0.9" />
<text x="299.4" y="230.47" font-size="7" fill="#2a2a2a" text-anchor="end" transform="translate(299.4 230.47) scale(0.8 1) translate(-299.4 -230.47)"  stroke="#2a2a2a" stroke-width="0.1">30</text>
<line x1="302.7" y1="218.8" x2="305.5" y2="218.8" stroke="#2a2a2a" stroke-width="0.9" />
<text x="299.4" y="221.2" font-size="7" fill="#2a2a2a" text-anchor="end" transform="translate(299.4 221.2) scale(0.8 1) translate(-299.4 -221.2)"  stroke="#2a2a2a" stroke-width="0.1">40</text>
<line x1="313.4" y1="287.6" x2="313.4" y2="290.6" stroke="#2a2a2a" stroke-width="0.9" />
<text x="316.2" y="295.8" font-size="5.7" fill="#222" text-anchor="end" transform="rotate(-45 316.2 295.8)"  textLength="7.69" lengthAdjust="spacingAndGlyphs" stroke="#222" stroke-width="0.25">3.1</text>
<line x1="321.31" y1="287.6" x2="321.31" y2="290.6" stroke="#2a2a2a" stroke-width="0.9" />
<text x="324.11" y="295.8" font-size="5.7" fill="#222" text-anchor="end" transform="rotate(-45 324.11 295.8)"  textLength="7.69" lengthAdjust="spacingAndGlyphs" stroke="#222" stroke-width="0.25">3.2</text>
<line x1="329.22" y1="287.6" x2="329.22" y2="290.6" stroke="#2a2a2a" stroke-width="0.9" />
<text x="332.02" y="295.8" font-size="5.7" fill="#222" text-anchor="end" transform="rotate(-45 332.02 295.8)"  textLength="7.69" lengthAdjust="spacingAndGlyphs" stroke="#222" stroke-width="0.25">4.1</text>
<line x1="337.13" y1="287.6" x2="337.13" y2="290.6" stroke="#2a2a2a" stroke-width="0.9" />
<text x="339.93" y="295.8" font-size="5.7" fill="#222" text-anchor="end" transform="rotate(-45 339.93 295.8)"  textLength="7.69" lengthAdjust="spacingAndGlyphs" stroke="#222" stroke-width="0.25">4.2</text>
<line x1="345.04" y1="287.6" x2="345.04" y2="290.6" stroke="#2a2a2a" stroke-width="0.9" />
<text x="347.84" y="295.8" font-size="5.7" fill="#222" text-anchor="end" transform="rotate(-45 347.84 295.8)"  textLength="7.69" lengthAdjust="spacingAndGlyphs" stroke="#222" stroke-width="0.25">4.3</text>
<line x1="352.95" y1="287.6" x2="352.95" y2="290.6" stroke="#2a2a2a" stroke-width="0.9" />
<text x="355.75" y="295.8" font-size="5.7" fill="#222" text-anchor="end" transform="rotate(-45 355.75 295.8)"  textLength="10.76" lengthAdjust="spacingAndGlyphs" stroke="#222" stroke-width="0.25">12.1</text>
<line x1="360.86" y1="287.6" x2="360.86" y2="290.6" stroke="#2a2a2a" stroke-width="0.9" />
<text x="363.66" y="295.8" font-size="5.7" fill="#222" text-anchor="end" transform="rotate(-45 363.66 295.8)"  textLength="10.76" lengthAdjust="spacingAndGlyphs" stroke="#222" stroke-width="0.25">12.2</text>
<line x1="368.77" y1="287.6" x2="368.77" y2="290.6" stroke="#2a2a2a" stroke-width="0.9" />
<text x="371.57" y="295.8" font-size="5.7" fill="#222" text-anchor="end" transform="rotate(-45 371.57 295.8)"  textLength="10.76" lengthAdjust="spacingAndGlyphs" stroke="#222" stroke-width="0.25">12.3</text>
<line x1="376.68" y1="287.6" x2="376.68" y2="290.6" stroke="#2a2a2a" stroke-width="0.9" />
<text x="379.48" y="295.8" font-size="5.7" fill="#222" text-anchor="end" transform="rotate(-45 379.48 295.8)"  textLength="10.76" lengthAdjust="spacingAndGlyphs" stroke="#222" stroke-width="0.25">12.4</text>
<line x1="384.59" y1="287.6" x2="384.59" y2="290.6" stroke="#2a2a2a" stroke-width="0.9" />
<text x="387.39" y="295.8" font-size="5.7" fill="#222" text-anchor="end" transform="rotate(-45 387.39 295.8)"  textLength="10.76" lengthAdjust="spacingAndGlyphs" stroke="#222" stroke-width="0.25">12.5</text>
<line x1="392.5" y1="287.6" x2="392.5" y2="290.6" stroke="#2a2a2a" stroke-width="0.9" />
<text x="395.3" y="295.8" font-size="5.7" fill="#222" text-anchor="end" transform="rotate(-45 395.3 295.8)"  textLength="10.76" lengthAdjust="spacingAndGlyphs" stroke="#222" stroke-width="0.25">20.1</text>
<line x1="400.41" y1="287.6" x2="400.41" y2="290.6" stroke="#2a2a2a" stroke-width="0.9" />
<text x="403.21" y="295.8" font-size="5.7" fill="#222" text-anchor="end" transform="rotate(-45 403.21 295.8)"  textLength="10.76" lengthAdjust="spacingAndGlyphs" stroke="#222" stroke-width="0.25">21.1</text>
<line x1="408.32" y1="287.6" x2="408.32" y2="290.6" stroke="#2a2a2a" stroke-width="0.9" />
<text x="411.12" y="295.8" font-size="5.7" fill="#222" text-anchor="end" transform="rotate(-45 411.12 295.8)"  textLength="10.76" lengthAdjust="spacingAndGlyphs" stroke="#222" stroke-width="0.25">22.1</text>
<line x1="416.23" y1="287.6" x2="416.23" y2="290.6" stroke="#2a2a2a" stroke-width="0.9" />
<text x="419.03" y="295.8" font-size="5.7" fill="#222" text-anchor="end" transform="rotate(-45 419.03 295.8)"  textLength="10.76" lengthAdjust="spacingAndGlyphs" stroke="#222" stroke-width="0.25">23.1</text>
<line x1="424.14" y1="287.6" x2="424.14" y2="290.6" stroke="#2a2a2a" stroke-width="0.9" />
<text x="426.94" y="295.8" font-size="5.7" fill="#222" text-anchor="end" transform="rotate(-45 426.94 295.8)"  textLength="10.76" lengthAdjust="spacingAndGlyphs" stroke="#222" stroke-width="0.25">24.1</text>
<line x1="432.05" y1="287.6" x2="432.05" y2="290.6" stroke="#2a2a2a" stroke-width="0.9" />
<text x="434.85" y="295.8" font-size="5.7" fill="#222" text-anchor="end" transform="rotate(-45 434.85 295.8)"  textLength="16.9" lengthAdjust="spacingAndGlyphs" stroke="#222" stroke-width="0.25">Renilla</text>
<line x1="439.96" y1="287.6" x2="439.96" y2="290.6" stroke="#2a2a2a" stroke-width="0.9" />
<text x="442.76" y="295.8" font-size="5.7" fill="#222" text-anchor="end" transform="rotate(-45 442.76 295.8)"  textLength="19.36" lengthAdjust="spacingAndGlyphs" stroke="#222" stroke-width="0.25">BRD4.2</text>
<line x1="447.87" y1="287.6" x2="447.87" y2="290.6" stroke="#2a2a2a" stroke-width="0.9" />
<text x="450.67" y="295.8" font-size="5.7" fill="#222" text-anchor="end" transform="rotate(-45 450.67 295.8)"  textLength="19.36" lengthAdjust="spacingAndGlyphs" stroke="#222" stroke-width="0.25">BRD4.4</text>
<line x1="455.78" y1="287.6" x2="455.78" y2="290.6" stroke="#2a2a2a" stroke-width="0.9" />
<text x="458.58" y="295.8" font-size="5.7" fill="#222" text-anchor="end" transform="rotate(-45 458.58 295.8)"  textLength="22.43" lengthAdjust="spacingAndGlyphs" stroke="#222" stroke-width="0.25">DOT1L.3</text>
<line x1="463.69" y1="287.6" x2="463.69" y2="290.6" stroke="#2a2a2a" stroke-width="0.9" />
<text x="466.49" y="295.8" font-size="5.7" fill="#222" text-anchor="end" transform="rotate(-45 466.49 295.8)"  textLength="22.43" lengthAdjust="spacingAndGlyphs" stroke="#222" stroke-width="0.25">DOT1L.4</text>
<line x1="471.6" y1="287.6" x2="471.6" y2="290.6" stroke="#2a2a2a" stroke-width="0.9" />
<text x="474.4" y="295.8" font-size="5.7" fill="#222" text-anchor="end" transform="rotate(-45 474.4 295.8)"  textLength="18.64" lengthAdjust="spacingAndGlyphs" stroke="#222" stroke-width="0.25">RPA3.1</text>
<line x1="479.51" y1="287.6" x2="479.51" y2="290.6" stroke="#2a2a2a" stroke-width="0.9" />
<text x="482.31" y="295.8" font-size="5.7" fill="#222" text-anchor="end" transform="rotate(-45 482.31 295.8)"  textLength="18.64" lengthAdjust="spacingAndGlyphs" stroke="#222" stroke-width="0.25">RPA3.4</text>
<line x1="487.42" y1="287.6" x2="487.42" y2="290.6" stroke="#2a2a2a" stroke-width="0.9" />
<text x="490.22" y="295.8" font-size="5.7" fill="#222" text-anchor="end" transform="rotate(-45 490.22 295.8)"  textLength="21.82" lengthAdjust="spacingAndGlyphs" stroke="#222" stroke-width="0.25">POLRA2</text>
<line x1="495.33" y1="287.6" x2="495.33" y2="290.6" stroke="#2a2a2a" stroke-width="0.9" />
<text x="498.13" y="295.8" font-size="5.7" fill="#222" text-anchor="end" transform="rotate(-45 498.13 295.8)"  textLength="21.82" lengthAdjust="spacingAndGlyphs" stroke="#222" stroke-width="0.25">POLRA4</text>
<line x1="503.24" y1="287.6" x2="503.24" y2="290.6" stroke="#2a2a2a" stroke-width="0.9" />
<text x="506.04" y="295.8" font-size="5.7" fill="#222" text-anchor="end" transform="rotate(-45 506.04 295.8)"  textLength="21.82" lengthAdjust="spacingAndGlyphs" stroke="#222" stroke-width="0.25">POLRA9</text>
<text x="398.4" y="221.6" font-size="5.6" fill="#222">NOMO1</text>
<text x="286.2" y="251.5" font-size="9.12" fill="#2a2a2a" text-anchor="middle" transform="rotate(-90 286.2 251.5)"  textLength="50.7" lengthAdjust="spacingAndGlyphs" stroke="#2a2a2a" stroke-width="0.1">Fold depletion</text>
<line x1="305.5" y1="384.25" x2="512.4" y2="384.25" stroke="#858a92" stroke-width="0.75" stroke-dasharray="2 0.7"/>
<rect x="309.5" y="384.5" width="7" height="5.1" fill="#fff" stroke="#1a1a1a" stroke-width="0.9" />
<rect x="317.5" y="383.5" width="7" height="6.1" fill="#fff" stroke="#1a1a1a" stroke-width="0.9" />
<rect x="325.5" y="384.5" width="7" height="5.1" fill="#fff" stroke="#1a1a1a" stroke-width="0.9" />
<rect x="333.5" y="381.5" width="7" height="8.1" fill="#fff" stroke="#1a1a1a" stroke-width="0.9" />
<rect x="341.5" y="385.5" width="7" height="4.1" fill="#fff" stroke="#1a1a1a" stroke-width="0.9" />
<rect x="349.5" y="385.5" width="7" height="4.1" fill="#fff" stroke="#1a1a1a" stroke-width="0.9" />
<rect x="357.5" y="378.5" width="7" height="11.1" fill="#fff" stroke="#1a1a1a" stroke-width="0.9" />
<line x1="360.5" y1="378.5" x2="360.5" y2="375.69" stroke="#1a1a1a" stroke-width="0.8" />
<line x1="358.9" y1="375.69" x2="362.1" y2="375.69" stroke="#1a1a1a" stroke-width="0.8" />
<line x1="360.5" y1="378.5" x2="360.5" y2="382.91" stroke="#1a1a1a" stroke-width="0.8" />
<line x1="358.9" y1="382.91" x2="362.1" y2="382.91" stroke="#1a1a1a" stroke-width="0.8" />
<rect x="365.5" y="384.5" width="7" height="5.1" fill="#fff" stroke="#1a1a1a" stroke-width="0.9" />
<line x1="368.5" y1="384.5" x2="368.5" y2="380.77" stroke="#1a1a1a" stroke-width="0.8" />
<line x1="366.9" y1="380.77" x2="370.1" y2="380.77" stroke="#1a1a1a" stroke-width="0.8" />
<rect x="373.5" y="385.5" width="7" height="4.1" fill="#fff" stroke="#1a1a1a" stroke-width="0.9" />
<rect x="381.5" y="384.5" width="7" height="5.1" fill="#fff" stroke="#1a1a1a" stroke-width="0.9" />
<rect x="389.5" y="386.5" width="7" height="3.1" fill="#fff" stroke="#1a1a1a" stroke-width="0.9" />
<rect x="396.5" y="383.5" width="7" height="6.1" fill="#fff" stroke="#1a1a1a" stroke-width="0.9" />
<rect x="404.5" y="385.5" width="7" height="4.1" fill="#fff" stroke="#1a1a1a" stroke-width="0.9" />
<rect x="412.5" y="383.5" width="7" height="6.1" fill="#fff" stroke="#1a1a1a" stroke-width="0.9" />
<rect x="420.5" y="385.5" width="7" height="4.1" fill="#fff" stroke="#1a1a1a" stroke-width="0.9" />
<rect x="428.5" y="377.5" width="7" height="12.1" fill="#fff" stroke="#1a1a1a" stroke-width="0.9" />
<line x1="431.5" y1="377.5" x2="431.5" y2="372.21" stroke="#1a1a1a" stroke-width="0.8" />
<line x1="429.9" y1="372.21" x2="433.1" y2="372.21" stroke="#1a1a1a" stroke-width="0.8" />
<line x1="431.5" y1="377.5" x2="431.5" y2="380.77" stroke="#1a1a1a" stroke-width="0.8" />
<line x1="429.9" y1="380.77" x2="433.1" y2="380.77" stroke="#1a1a1a" stroke-width="0.8" />
<rect x="436.5" y="375.5" width="7" height="14.1" fill="#fff" stroke="#1a1a1a" stroke-width="0.9" />
<line x1="439.5" y1="375.5" x2="439.5" y2="364.19" stroke="#1a1a1a" stroke-width="0.8" />
<line x1="437.9" y1="364.19" x2="441.1" y2="364.19" stroke="#1a1a1a" stroke-width="0.8" />
<line x1="439.5" y1="375.5" x2="439.5" y2="385.59" stroke="#1a1a1a" stroke-width="0.8" />
<line x1="437.9" y1="385.59" x2="441.1" y2="385.59" stroke="#1a1a1a" stroke-width="0.8" />
<rect x="444.5" y="381.5" width="7" height="8.1" fill="#fff" stroke="#1a1a1a" stroke-width="0.9" />
<line x1="447.5" y1="381.5" x2="447.5" y2="376.23" stroke="#1a1a1a" stroke-width="0.8" />
<line x1="445.9" y1="376.23" x2="449.1" y2="376.23" stroke="#1a1a1a" stroke-width="0.8" />
<line x1="447.5" y1="381.5" x2="447.5" y2="386.93" stroke="#1a1a1a" stroke-width="0.8" />
<line x1="445.9" y1="386.93" x2="449.1" y2="386.93" stroke="#1a1a1a" stroke-width="0.8" />
<rect x="452.5" y="385.5" width="7" height="4.1" fill="#fff" stroke="#1a1a1a" stroke-width="0.9" />
<rect x="460.5" y="384.5" width="7" height="5.1" fill="#fff" stroke="#1a1a1a" stroke-width="0.9" />
<line x1="463.5" y1="384.5" x2="463.5" y2="382.38" stroke="#1a1a1a" stroke-width="0.8" />
<line x1="461.9" y1="382.38" x2="465.1" y2="382.38" stroke="#1a1a1a" stroke-width="0.8" />
<line x1="463.5" y1="384.5" x2="463.5" y2="386.93" stroke="#1a1a1a" stroke-width="0.8" />
<line x1="461.9" y1="386.93" x2="465.1" y2="386.93" stroke="#1a1a1a" stroke-width="0.8" />
<rect x="468.5" y="368.5" width="7" height="21.1" fill="#fff" stroke="#1a1a1a" stroke-width="0.9" />
<line x1="471.5" y1="368.5" x2="471.5" y2="358.3" stroke="#1a1a1a" stroke-width="0.8" />
<line x1="469.9" y1="358.3" x2="473.1" y2="358.3" stroke="#1a1a1a" stroke-width="0.8" />
<line x1="471.5" y1="368.5" x2="471.5" y2="387.46" stroke="#1a1a1a" stroke-width="0.8" />
<line x1="469.9" y1="387.46" x2="473.1" y2="387.46" stroke="#1a1a1a" stroke-width="0.8" />
<rect x="476.5" y="364.5" width="7" height="25.1" fill="#fff" stroke="#1a1a1a" stroke-width="0.9" />
<line x1="479.5" y1="364.5" x2="479.5" y2="352.5" stroke="#1a1a1a" stroke-width="0.8" />
<line x1="477.9" y1="352.5" x2="481.1" y2="352.5" stroke="#1a1a1a" stroke-width="0.8" />
<line x1="479.5" y1="364.5" x2="479.5" y2="386.93" stroke="#1a1a1a" stroke-width="0.8" />
<line x1="477.9" y1="386.93" x2="481.1" y2="386.93" stroke="#1a1a1a" stroke-width="0.8" />
<rect x="483.5" y="381.5" width="7" height="8.1" fill="#fff" stroke="#1a1a1a" stroke-width="0.9" />
<rect x="491.5" y="384.5" width="7" height="5.1" fill="#fff" stroke="#1a1a1a" stroke-width="0.9" />
<line x1="494.5" y1="384.5" x2="494.5" y2="380.77" stroke="#1a1a1a" stroke-width="0.8" />
<line x1="492.9" y1="380.77" x2="496.1" y2="380.77" stroke="#1a1a1a" stroke-width="0.8" />
<line x1="494.5" y1="384.5" x2="494.5" y2="388" stroke="#1a1a1a" stroke-width="0.8" />
<line x1="492.9" y1="388" x2="496.1" y2="388" stroke="#1a1a1a" stroke-width="0.8" />
<rect x="499.5" y="359.5" width="7" height="30.1" fill="#fff" stroke="#1a1a1a" stroke-width="0.9" />
<line x1="502.5" y1="359.5" x2="502.5" y2="334.9" stroke="#1a1a1a" stroke-width="0.8" />
<line x1="500.9" y1="334.9" x2="504.1" y2="334.9" stroke="#1a1a1a" stroke-width="0.8" />
<line x1="502.5" y1="359.5" x2="502.5" y2="387.46" stroke="#1a1a1a" stroke-width="0.8" />
<line x1="500.9" y1="387.46" x2="504.1" y2="387.46" stroke="#1a1a1a" stroke-width="0.8" />
<circle cx="311.4" cy="383.95" r="1.35" fill="#a3192f"/>
<circle cx="313.4" cy="383.84" r="1.35" fill="#a3192f"/>
<circle cx="315.4" cy="384.06" r="1.35" fill="#a3192f"/>
<circle cx="319.31" cy="383.15" r="1.35" fill="#a3192f"/>
<circle cx="321.31" cy="383.02" r="1.35" fill="#a3192f"/>
<circle cx="323.31" cy="383.27" r="1.35" fill="#a3192f"/>
<circle cx="327.22" cy="384.49" r="1.35" fill="#a3192f"/>
<circle cx="329.22" cy="384.39" r="1.35" fill="#a3192f"/>
<circle cx="331.22" cy="384.58" r="1.35" fill="#a3192f"/>
<circle cx="335.13" cy="380.74" r="1.35" fill="#a3192f"/>
<circle cx="337.13" cy="380.57" r="1.35" fill="#a3192f"/>
<circle cx="339.13" cy="380.91" r="1.35" fill="#a3192f"/>
<circle cx="343.04" cy="385.02" r="1.35" fill="#a3192f"/>
<circle cx="345.04" cy="384.93" r="1.35" fill="#a3192f"/>
<circle cx="347.04" cy="385.11" r="1.35" fill="#a3192f"/>
<circle cx="350.95" cy="385.02" r="1.35" fill="#a3192f"/>
<circle cx="352.95" cy="384.93" r="1.35" fill="#a3192f"/>
<circle cx="354.95" cy="385.11" r="1.35" fill="#a3192f"/>
<circle cx="359.26" cy="375.93" r="1.35" fill="#a3192f"/>
<circle cx="362.46" cy="377.8" r="1.35" fill="#a3192f"/>
<circle cx="360.86" cy="381.81" r="1.35" fill="#a3192f"/>
<circle cx="367.17" cy="380.47" r="1.35" fill="#a3192f"/>
<circle cx="370.37" cy="384.22" r="1.35" fill="#a3192f"/>
<circle cx="368.77" cy="385.02" r="1.35" fill="#a3192f"/>
<circle cx="374.68" cy="385.29" r="1.35" fill="#a3192f"/>
<circle cx="376.68" cy="385.21" r="1.35" fill="#a3192f"/>
<circle cx="378.68" cy="385.37" r="1.35" fill="#a3192f"/>
<circle cx="382.59" cy="383.95" r="1.35" fill="#a3192f"/>
<circle cx="384.59" cy="383.84" r="1.35" fill="#a3192f"/>
<circle cx="386.59" cy="384.06" r="1.35" fill="#a3192f"/>
<circle cx="390.5" cy="386.09" r="1.35" fill="#a3192f"/>
<circle cx="392.5" cy="386.03" r="1.35" fill="#a3192f"/>
<circle cx="394.5" cy="386.15" r="1.35" fill="#a3192f"/>
<circle cx="398.41" cy="383.15" r="1.35" fill="#a3192f"/>
<circle cx="400.41" cy="383.02" r="1.35" fill="#a3192f"/>
<circle cx="402.41" cy="383.27" r="1.35" fill="#a3192f"/>
<circle cx="406.32" cy="385.02" r="1.35" fill="#a3192f"/>
<circle cx="408.32" cy="384.93" r="1.35" fill="#a3192f"/>
<circle cx="410.32" cy="385.11" r="1.35" fill="#a3192f"/>
<circle cx="414.23" cy="383.15" r="1.35" fill="#a3192f"/>
<circle cx="416.23" cy="383.02" r="1.35" fill="#a3192f"/>
<circle cx="418.23" cy="383.27" r="1.35" fill="#a3192f"/>
<circle cx="422.14" cy="385.56" r="1.35" fill="#a3192f"/>
<circle cx="424.14" cy="385.48" r="1.35" fill="#a3192f"/>
<circle cx="426.14" cy="385.63" r="1.35" fill="#a3192f"/>
<circle cx="430.45" cy="373.52" r="1.35" fill="#a3192f"/>
<circle cx="433.65" cy="378.87" r="1.35" fill="#a3192f"/>
<circle cx="432.05" cy="379.94" r="1.35" fill="#a3192f"/>
<circle cx="438.36" cy="363.89" r="1.35" fill="#a3192f"/>
<circle cx="441.56" cy="374.59" r="1.35" fill="#a3192f"/>
<circle cx="439.96" cy="385.29" r="1.35" fill="#a3192f"/>
<circle cx="446.27" cy="377.26" r="1.35" fill="#a3192f"/>
<circle cx="449.47" cy="379.94" r="1.35" fill="#a3192f"/>
<circle cx="447.87" cy="386.62" r="1.35" fill="#a3192f"/>
<circle cx="453.78" cy="385.56" r="1.35" fill="#a3192f"/>
<circle cx="455.78" cy="385.48" r="1.35" fill="#a3192f"/>
<circle cx="457.78" cy="385.63" r="1.35" fill="#a3192f"/>
<circle cx="462.09" cy="382.61" r="1.35" fill="#a3192f"/>
<circle cx="465.29" cy="385.02" r="1.35" fill="#a3192f"/>
<circle cx="463.69" cy="386.89" r="1.35" fill="#a3192f"/>
<circle cx="470" cy="352.2" r="1.35" fill="#a3192f"/>
<circle cx="473.2" cy="383.15" r="1.35" fill="#a3192f"/>
<circle cx="471.6" cy="387.96" r="1.35" fill="#a3192f"/>
<circle cx="477.91" cy="350.6" r="1.35" fill="#a3192f"/>
<circle cx="481.11" cy="371.91" r="1.35" fill="#a3192f"/>
<circle cx="479.51" cy="387.69" r="1.35" fill="#a3192f"/>
<circle cx="485.42" cy="380.74" r="1.35" fill="#a3192f"/>
<circle cx="487.42" cy="380.57" r="1.35" fill="#a3192f"/>
<circle cx="489.42" cy="380.91" r="1.35" fill="#a3192f"/>
<circle cx="493.73" cy="380.74" r="1.35" fill="#a3192f"/>
<circle cx="496.93" cy="384.22" r="1.35" fill="#a3192f"/>
<circle cx="495.33" cy="387.96" r="1.35" fill="#a3192f"/>
<circle cx="501.64" cy="329.8" r="1.35" fill="#a3192f"/>
<circle cx="504.84" cy="387.69" r="1.35" fill="#a3192f"/>
<circle cx="503.24" cy="387.96" r="1.35" fill="#a3192f"/>
<line x1="305.5" y1="390.1" x2="305.5" y2="357.5" stroke="#2a2a2a" stroke-width="1.1" />
<line x1="305.5" y1="352.5" x2="305.5" y2="318" stroke="#2a2a2a" stroke-width="1.1" />
<line x1="302.5" y1="352.5" x2="308.9" y2="352.5" stroke="#2a2a2a" stroke-width="1" />
<line x1="302.5" y1="357.5" x2="308.9" y2="357.5" stroke="#2a2a2a" stroke-width="1" />
<line x1="305" y1="389.6" x2="512.4" y2="389.6" stroke="#2a2a2a" stroke-width="1.1" />
<line x1="302.7" y1="389.6" x2="305.5" y2="389.6" stroke="#2a2a2a" stroke-width="0.9" />
<text x="299.4" y="392" font-size="7" fill="#2a2a2a" text-anchor="end" transform="translate(299.4 392) scale(0.8 1) translate(-299.4 -392)"  stroke="#2a2a2a" stroke-width="0.1">0</text>
<line x1="302.7" y1="378.9" x2="305.5" y2="378.9" stroke="#2a2a2a" stroke-width="0.9" />
<text x="299.4" y="381.3" font-size="7" fill="#2a2a2a" text-anchor="end" transform="translate(299.4 381.3) scale(0.8 1) translate(-299.4 -381.3)"  stroke="#2a2a2a" stroke-width="0.1">4</text>
<line x1="302.7" y1="368.2" x2="305.5" y2="368.2" stroke="#2a2a2a" stroke-width="0.9" />
<text x="299.4" y="370.6" font-size="7" fill="#2a2a2a" text-anchor="end" transform="translate(299.4 370.6) scale(0.8 1) translate(-299.4 -370.6)"  stroke="#2a2a2a" stroke-width="0.1">8</text>
<line x1="302.7" y1="357.5" x2="305.5" y2="357.5" stroke="#2a2a2a" stroke-width="0.9" />
<text x="298.2" y="357.5" font-size="5" fill="#2a2a2a" text-anchor="middle" transform="rotate(-90 298.2 357.5)"  stroke="#2a2a2a" stroke-width="0.04">12</text>
<line x1="302.7" y1="352.5" x2="305.5" y2="352.5" stroke="#2a2a2a" stroke-width="0.9" />
<text x="298.2" y="352.5" font-size="5" fill="#2a2a2a" text-anchor="middle" transform="rotate(-90 298.2 352.5)"  stroke="#2a2a2a" stroke-width="0.04">20</text>
<line x1="302.7" y1="336.5" x2="305.5" y2="336.5" stroke="#2a2a2a" stroke-width="0.9" />
<text x="299.4" y="338.9" font-size="7" fill="#2a2a2a" text-anchor="end" transform="translate(299.4 338.9) scale(0.8 1) translate(-299.4 -338.9)"  stroke="#2a2a2a" stroke-width="0.1">30</text>
<line x1="302.7" y1="320.5" x2="305.5" y2="320.5" stroke="#2a2a2a" stroke-width="0.9" />
<text x="299.4" y="322.9" font-size="7" fill="#2a2a2a" text-anchor="end" transform="translate(299.4 322.9) scale(0.8 1) translate(-299.4 -322.9)"  stroke="#2a2a2a" stroke-width="0.1">40</text>
<line x1="313.4" y1="389.6" x2="313.4" y2="392.6" stroke="#2a2a2a" stroke-width="0.9" />
<text x="316.2" y="397.8" font-size="5.7" fill="#222" text-anchor="end" transform="rotate(-45 316.2 397.8)"  textLength="7.69" lengthAdjust="spacingAndGlyphs" stroke="#222" stroke-width="0.25">3.1</text>
<line x1="321.31" y1="389.6" x2="321.31" y2="392.6" stroke="#2a2a2a" stroke-width="0.9" />
<text x="324.11" y="397.8" font-size="5.7" fill="#222" text-anchor="end" transform="rotate(-45 324.11 397.8)"  textLength="7.69" lengthAdjust="spacingAndGlyphs" stroke="#222" stroke-width="0.25">3.2</text>
<line x1="329.22" y1="389.6" x2="329.22" y2="392.6" stroke="#2a2a2a" stroke-width="0.9" />
<text x="332.02" y="397.8" font-size="5.7" fill="#222" text-anchor="end" transform="rotate(-45 332.02 397.8)"  textLength="7.69" lengthAdjust="spacingAndGlyphs" stroke="#222" stroke-width="0.25">4.1</text>
<line x1="337.13" y1="389.6" x2="337.13" y2="392.6" stroke="#2a2a2a" stroke-width="0.9" />
<text x="339.93" y="397.8" font-size="5.7" fill="#222" text-anchor="end" transform="rotate(-45 339.93 397.8)"  textLength="7.69" lengthAdjust="spacingAndGlyphs" stroke="#222" stroke-width="0.25">4.2</text>
<line x1="345.04" y1="389.6" x2="345.04" y2="392.6" stroke="#2a2a2a" stroke-width="0.9" />
<text x="347.84" y="397.8" font-size="5.7" fill="#222" text-anchor="end" transform="rotate(-45 347.84 397.8)"  textLength="7.69" lengthAdjust="spacingAndGlyphs" stroke="#222" stroke-width="0.25">4.3</text>
<line x1="352.95" y1="389.6" x2="352.95" y2="392.6" stroke="#2a2a2a" stroke-width="0.9" />
<text x="355.75" y="397.8" font-size="5.7" fill="#222" text-anchor="end" transform="rotate(-45 355.75 397.8)"  textLength="10.76" lengthAdjust="spacingAndGlyphs" stroke="#222" stroke-width="0.25">12.1</text>
<line x1="360.86" y1="389.6" x2="360.86" y2="392.6" stroke="#2a2a2a" stroke-width="0.9" />
<text x="363.66" y="397.8" font-size="5.7" fill="#222" text-anchor="end" transform="rotate(-45 363.66 397.8)"  textLength="10.76" lengthAdjust="spacingAndGlyphs" stroke="#222" stroke-width="0.25">12.2</text>
<line x1="368.77" y1="389.6" x2="368.77" y2="392.6" stroke="#2a2a2a" stroke-width="0.9" />
<text x="371.57" y="397.8" font-size="5.7" fill="#222" text-anchor="end" transform="rotate(-45 371.57 397.8)"  textLength="10.76" lengthAdjust="spacingAndGlyphs" stroke="#222" stroke-width="0.25">12.3</text>
<line x1="376.68" y1="389.6" x2="376.68" y2="392.6" stroke="#2a2a2a" stroke-width="0.9" />
<text x="379.48" y="397.8" font-size="5.7" fill="#222" text-anchor="end" transform="rotate(-45 379.48 397.8)"  textLength="10.76" lengthAdjust="spacingAndGlyphs" stroke="#222" stroke-width="0.25">12.4</text>
<line x1="384.59" y1="389.6" x2="384.59" y2="392.6" stroke="#2a2a2a" stroke-width="0.9" />
<text x="387.39" y="397.8" font-size="5.7" fill="#222" text-anchor="end" transform="rotate(-45 387.39 397.8)"  textLength="10.76" lengthAdjust="spacingAndGlyphs" stroke="#222" stroke-width="0.25">12.5</text>
<line x1="392.5" y1="389.6" x2="392.5" y2="392.6" stroke="#2a2a2a" stroke-width="0.9" />
<text x="395.3" y="397.8" font-size="5.7" fill="#222" text-anchor="end" transform="rotate(-45 395.3 397.8)"  textLength="10.76" lengthAdjust="spacingAndGlyphs" stroke="#222" stroke-width="0.25">20.1</text>
<line x1="400.41" y1="389.6" x2="400.41" y2="392.6" stroke="#2a2a2a" stroke-width="0.9" />
<text x="403.21" y="397.8" font-size="5.7" fill="#222" text-anchor="end" transform="rotate(-45 403.21 397.8)"  textLength="10.76" lengthAdjust="spacingAndGlyphs" stroke="#222" stroke-width="0.25">21.1</text>
<line x1="408.32" y1="389.6" x2="408.32" y2="392.6" stroke="#2a2a2a" stroke-width="0.9" />
<text x="411.12" y="397.8" font-size="5.7" fill="#222" text-anchor="end" transform="rotate(-45 411.12 397.8)"  textLength="10.76" lengthAdjust="spacingAndGlyphs" stroke="#222" stroke-width="0.25">22.1</text>
<line x1="416.23" y1="389.6" x2="416.23" y2="392.6" stroke="#2a2a2a" stroke-width="0.9" />
<text x="419.03" y="397.8" font-size="5.7" fill="#222" text-anchor="end" transform="rotate(-45 419.03 397.8)"  textLength="10.76" lengthAdjust="spacingAndGlyphs" stroke="#222" stroke-width="0.25">23.1</text>
<line x1="424.14" y1="389.6" x2="424.14" y2="392.6" stroke="#2a2a2a" stroke-width="0.9" />
<text x="426.94" y="397.8" font-size="5.7" fill="#222" text-anchor="end" transform="rotate(-45 426.94 397.8)"  textLength="10.76" lengthAdjust="spacingAndGlyphs" stroke="#222" stroke-width="0.25">24.1</text>
<line x1="432.05" y1="389.6" x2="432.05" y2="392.6" stroke="#2a2a2a" stroke-width="0.9" />
<text x="434.85" y="397.8" font-size="5.7" fill="#222" text-anchor="end" transform="rotate(-45 434.85 397.8)"  textLength="16.9" lengthAdjust="spacingAndGlyphs" stroke="#222" stroke-width="0.25">Renilla</text>
<line x1="439.96" y1="389.6" x2="439.96" y2="392.6" stroke="#2a2a2a" stroke-width="0.9" />
<text x="442.76" y="397.8" font-size="5.7" fill="#222" text-anchor="end" transform="rotate(-45 442.76 397.8)"  textLength="19.36" lengthAdjust="spacingAndGlyphs" stroke="#222" stroke-width="0.25">BRD4.2</text>
<line x1="447.87" y1="389.6" x2="447.87" y2="392.6" stroke="#2a2a2a" stroke-width="0.9" />
<text x="450.67" y="397.8" font-size="5.7" fill="#222" text-anchor="end" transform="rotate(-45 450.67 397.8)"  textLength="19.36" lengthAdjust="spacingAndGlyphs" stroke="#222" stroke-width="0.25">BRD4.4</text>
<line x1="455.78" y1="389.6" x2="455.78" y2="392.6" stroke="#2a2a2a" stroke-width="0.9" />
<text x="458.58" y="397.8" font-size="5.7" fill="#222" text-anchor="end" transform="rotate(-45 458.58 397.8)"  textLength="22.43" lengthAdjust="spacingAndGlyphs" stroke="#222" stroke-width="0.25">DOT1L.3</text>
<line x1="463.69" y1="389.6" x2="463.69" y2="392.6" stroke="#2a2a2a" stroke-width="0.9" />
<text x="466.49" y="397.8" font-size="5.7" fill="#222" text-anchor="end" transform="rotate(-45 466.49 397.8)"  textLength="22.43" lengthAdjust="spacingAndGlyphs" stroke="#222" stroke-width="0.25">DOT1L.4</text>
<line x1="471.6" y1="389.6" x2="471.6" y2="392.6" stroke="#2a2a2a" stroke-width="0.9" />
<text x="474.4" y="397.8" font-size="5.7" fill="#222" text-anchor="end" transform="rotate(-45 474.4 397.8)"  textLength="18.64" lengthAdjust="spacingAndGlyphs" stroke="#222" stroke-width="0.25">RPA3.1</text>
<line x1="479.51" y1="389.6" x2="479.51" y2="392.6" stroke="#2a2a2a" stroke-width="0.9" />
<text x="482.31" y="397.8" font-size="5.7" fill="#222" text-anchor="end" transform="rotate(-45 482.31 397.8)"  textLength="18.64" lengthAdjust="spacingAndGlyphs" stroke="#222" stroke-width="0.25">RPA3.4</text>
<line x1="487.42" y1="389.6" x2="487.42" y2="392.6" stroke="#2a2a2a" stroke-width="0.9" />
<text x="490.22" y="397.8" font-size="5.7" fill="#222" text-anchor="end" transform="rotate(-45 490.22 397.8)"  textLength="21.82" lengthAdjust="spacingAndGlyphs" stroke="#222" stroke-width="0.25">POLRA2</text>
<line x1="495.33" y1="389.6" x2="495.33" y2="392.6" stroke="#2a2a2a" stroke-width="0.9" />
<text x="498.13" y="397.8" font-size="5.7" fill="#222" text-anchor="end" transform="rotate(-45 498.13 397.8)"  textLength="21.82" lengthAdjust="spacingAndGlyphs" stroke="#222" stroke-width="0.25">POLRA4</text>
<line x1="503.24" y1="389.6" x2="503.24" y2="392.6" stroke="#2a2a2a" stroke-width="0.9" />
<text x="506.04" y="397.8" font-size="5.7" fill="#222" text-anchor="end" transform="rotate(-45 506.04 397.8)"  textLength="21.82" lengthAdjust="spacingAndGlyphs" stroke="#222" stroke-width="0.25">POLRA9</text>
<text x="402.5" y="322.9" font-size="5.6" fill="#222">THP1</text>
<text x="286.2" y="353.5" font-size="9.12" fill="#2a2a2a" text-anchor="middle" transform="rotate(-90 286.2 353.5)"  textLength="50.7" lengthAdjust="spacingAndGlyphs" stroke="#2a2a2a" stroke-width="0.1">Fold depletion</text>
<line x1="305.5" y1="473.82" x2="512.4" y2="473.82" stroke="#858a92" stroke-width="0.75" stroke-dasharray="2 0.7"/>
<rect x="309.5" y="478.5" width="7" height="12.5" fill="#fff" stroke="#1a1a1a" stroke-width="0.9" />
<rect x="317.5" y="476.5" width="7" height="14.5" fill="#fff" stroke="#1a1a1a" stroke-width="0.9" />
<rect x="325.5" y="476.5" width="7" height="14.5" fill="#fff" stroke="#1a1a1a" stroke-width="0.9" />
<line x1="328.5" y1="476.5" x2="328.5" y2="474.68" stroke="#1a1a1a" stroke-width="0.8" />
<line x1="326.9" y1="474.68" x2="330.1" y2="474.68" stroke="#1a1a1a" stroke-width="0.8" />
<rect x="333.5" y="473.5" width="7" height="17.5" fill="#fff" stroke="#1a1a1a" stroke-width="0.9" />
<rect x="341.5" y="477.5" width="7" height="13.5" fill="#fff" stroke="#1a1a1a" stroke-width="0.9" />
<rect x="349.5" y="477.5" width="7" height="13.5" fill="#fff" stroke="#1a1a1a" stroke-width="0.9" />
<rect x="357.5" y="476.5" width="7" height="14.5" fill="#fff" stroke="#1a1a1a" stroke-width="0.9" />
<rect x="365.5" y="477.5" width="7" height="13.5" fill="#fff" stroke="#1a1a1a" stroke-width="0.9" />
<rect x="373.5" y="477.5" width="7" height="13.5" fill="#fff" stroke="#1a1a1a" stroke-width="0.9" />
<rect x="381.5" y="475.5" width="7" height="15.5" fill="#fff" stroke="#1a1a1a" stroke-width="0.9" />
<line x1="384.5" y1="475.5" x2="384.5" y2="472.11" stroke="#1a1a1a" stroke-width="0.8" />
<line x1="382.9" y1="472.11" x2="386.1" y2="472.11" stroke="#1a1a1a" stroke-width="0.8" />
<rect x="389.5" y="478.5" width="7" height="12.5" fill="#fff" stroke="#1a1a1a" stroke-width="0.9" />
<line x1="392.5" y1="478.5" x2="392.5" y2="475.54" stroke="#1a1a1a" stroke-width="0.8" />
<line x1="390.9" y1="475.54" x2="394.1" y2="475.54" stroke="#1a1a1a" stroke-width="0.8" />
<rect x="396.5" y="478.5" width="7" height="12.5" fill="#fff" stroke="#1a1a1a" stroke-width="0.9" />
<rect x="404.5" y="479.5" width="7" height="11.5" fill="#fff" stroke="#1a1a1a" stroke-width="0.9" />
<line x1="407.5" y1="479.5" x2="407.5" y2="476.4" stroke="#1a1a1a" stroke-width="0.8" />
<line x1="405.9" y1="476.4" x2="409.1" y2="476.4" stroke="#1a1a1a" stroke-width="0.8" />
<rect x="412.5" y="479.5" width="7" height="11.5" fill="#fff" stroke="#1a1a1a" stroke-width="0.9" />
<rect x="420.5" y="478.5" width="7" height="12.5" fill="#fff" stroke="#1a1a1a" stroke-width="0.9" />
<rect x="428.5" y="476.5" width="7" height="14.5" fill="#fff" stroke="#1a1a1a" stroke-width="0.9" />
<rect x="436.5" y="463.5" width="7" height="27.5" fill="#fff" stroke="#1a1a1a" stroke-width="0.9" />
<line x1="439.5" y1="463.5" x2="439.5" y2="455.79" stroke="#1a1a1a" stroke-width="0.8" />
<line x1="437.9" y1="455.79" x2="441.1" y2="455.79" stroke="#1a1a1a" stroke-width="0.8" />
<rect x="444.5" y="436.5" width="7" height="54.5" fill="#fff" stroke="#1a1a1a" stroke-width="0.9" />
<line x1="447.5" y1="436.5" x2="447.5" y2="430.03" stroke="#1a1a1a" stroke-width="0.8" />
<line x1="445.9" y1="430.03" x2="449.1" y2="430.03" stroke="#1a1a1a" stroke-width="0.8" />
<rect x="452.5" y="461.5" width="7" height="29.5" fill="#fff" stroke="#1a1a1a" stroke-width="0.9" />
<line x1="455.5" y1="461.5" x2="455.5" y2="455.79" stroke="#1a1a1a" stroke-width="0.8" />
<line x1="453.9" y1="455.79" x2="457.1" y2="455.79" stroke="#1a1a1a" stroke-width="0.8" />
<rect x="460.5" y="475.5" width="7" height="15.5" fill="#fff" stroke="#1a1a1a" stroke-width="0.9" />
<line x1="463.5" y1="475.5" x2="463.5" y2="473.82" stroke="#1a1a1a" stroke-width="0.8" />
<line x1="461.9" y1="473.82" x2="465.1" y2="473.82" stroke="#1a1a1a" stroke-width="0.8" />
<rect x="468.5" y="481.5" width="7" height="9.5" fill="#fff" stroke="#1a1a1a" stroke-width="0.9" />
<rect x="476.5" y="478.5" width="7" height="12.5" fill="#fff" stroke="#1a1a1a" stroke-width="0.9" />
<rect x="483.5" y="478.5" width="7" height="12.5" fill="#fff" stroke="#1a1a1a" stroke-width="0.9" />
<rect x="491.5" y="478.5" width="7" height="12.5" fill="#fff" stroke="#1a1a1a" stroke-width="0.9" />
<rect x="499.5" y="479.5" width="7" height="11.5" fill="#fff" stroke="#1a1a1a" stroke-width="0.9" />
<circle cx="311.4" cy="478.68" r="1.35" fill="#a3192f"/>
<circle cx="313.4" cy="478.44" r="1.35" fill="#a3192f"/>
<circle cx="315.4" cy="478.92" r="1.35" fill="#a3192f"/>
<circle cx="319.31" cy="476.53" r="1.35" fill="#a3192f"/>
<circle cx="321.31" cy="476.25" r="1.35" fill="#a3192f"/>
<circle cx="323.31" cy="476.81" r="1.35" fill="#a3192f"/>
<circle cx="327.22" cy="474.38" r="1.35" fill="#a3192f"/>
<circle cx="329.22" cy="476.96" r="1.35" fill="#a3192f"/>
<circle cx="331.22" cy="477.82" r="1.35" fill="#a3192f"/>
<circle cx="335.13" cy="472.67" r="1.35" fill="#a3192f"/>
<circle cx="337.13" cy="474.38" r="1.35" fill="#a3192f"/>
<circle cx="339.13" cy="475.24" r="1.35" fill="#a3192f"/>
<circle cx="343.04" cy="476.96" r="1.35" fill="#a3192f"/>
<circle cx="345.04" cy="476.69" r="1.35" fill="#a3192f"/>
<circle cx="347.04" cy="477.23" r="1.35" fill="#a3192f"/>
<circle cx="350.95" cy="476.96" r="1.35" fill="#a3192f"/>
<circle cx="352.95" cy="476.69" r="1.35" fill="#a3192f"/>
<circle cx="354.95" cy="477.23" r="1.35" fill="#a3192f"/>
<circle cx="358.86" cy="476.53" r="1.35" fill="#a3192f"/>
<circle cx="360.86" cy="476.25" r="1.35" fill="#a3192f"/>
<circle cx="362.86" cy="476.81" r="1.35" fill="#a3192f"/>
<circle cx="366.77" cy="477.39" r="1.35" fill="#a3192f"/>
<circle cx="368.77" cy="477.12" r="1.35" fill="#a3192f"/>
<circle cx="370.77" cy="477.66" r="1.35" fill="#a3192f"/>
<circle cx="374.68" cy="476.96" r="1.35" fill="#a3192f"/>
<circle cx="376.68" cy="476.69" r="1.35" fill="#a3192f"/>
<circle cx="378.68" cy="477.23" r="1.35" fill="#a3192f"/>
<circle cx="382.99" cy="471.81" r="1.35" fill="#a3192f"/>
<circle cx="386.19" cy="475.24" r="1.35" fill="#a3192f"/>
<circle cx="384.59" cy="476.96" r="1.35" fill="#a3192f"/>
<circle cx="390.5" cy="475.24" r="1.35" fill="#a3192f"/>
<circle cx="392.5" cy="478.68" r="1.35" fill="#a3192f"/>
<circle cx="394.5" cy="478.68" r="1.35" fill="#a3192f"/>
<circle cx="398.41" cy="477.82" r="1.35" fill="#a3192f"/>
<circle cx="400.41" cy="477.56" r="1.35" fill="#a3192f"/>
<circle cx="402.41" cy="478.08" r="1.35" fill="#a3192f"/>
<circle cx="406.32" cy="476.96" r="1.35" fill="#a3192f"/>
<circle cx="408.32" cy="479.54" r="1.35" fill="#a3192f"/>
<circle cx="410.32" cy="480.39" r="1.35" fill="#a3192f"/>
<circle cx="414.23" cy="479.11" r="1.35" fill="#a3192f"/>
<circle cx="416.23" cy="478.88" r="1.35" fill="#a3192f"/>
<circle cx="418.23" cy="479.34" r="1.35" fill="#a3192f"/>
<circle cx="422.14" cy="478.68" r="1.35" fill="#a3192f"/>
<circle cx="424.14" cy="478.44" r="1.35" fill="#a3192f"/>
<circle cx="426.14" cy="478.92" r="1.35" fill="#a3192f"/>
<circle cx="430.05" cy="476.1" r="1.35" fill="#a3192f"/>
<circle cx="432.05" cy="475.81" r="1.35" fill="#a3192f"/>
<circle cx="434.05" cy="476.39" r="1.35" fill="#a3192f"/>
<circle cx="438.36" cy="455.49" r="1.35" fill="#a3192f"/>
<circle cx="441.56" cy="464.08" r="1.35" fill="#a3192f"/>
<circle cx="439.96" cy="466.65" r="1.35" fill="#a3192f"/>
<circle cx="446.27" cy="430.59" r="1.35" fill="#a3192f"/>
<circle cx="449.47" cy="435.74" r="1.35" fill="#a3192f"/>
<circle cx="447.87" cy="440.89" r="1.35" fill="#a3192f"/>
<circle cx="454.18" cy="456.35" r="1.35" fill="#a3192f"/>
<circle cx="457.38" cy="462.36" r="1.35" fill="#a3192f"/>
<circle cx="455.78" cy="465.8" r="1.35" fill="#a3192f"/>
<circle cx="462.09" cy="473.52" r="1.35" fill="#a3192f"/>
<circle cx="465.29" cy="476.1" r="1.35" fill="#a3192f"/>
<circle cx="463.69" cy="478.68" r="1.35" fill="#a3192f"/>
<circle cx="469.6" cy="481.25" r="1.35" fill="#a3192f"/>
<circle cx="471.6" cy="481.06" r="1.35" fill="#a3192f"/>
<circle cx="473.6" cy="481.44" r="1.35" fill="#a3192f"/>
<circle cx="477.51" cy="478.68" r="1.35" fill="#a3192f"/>
<circle cx="479.51" cy="478.44" r="1.35" fill="#a3192f"/>
<circle cx="481.51" cy="478.92" r="1.35" fill="#a3192f"/>
<circle cx="485.42" cy="478.68" r="1.35" fill="#a3192f"/>
<circle cx="487.42" cy="478.44" r="1.35" fill="#a3192f"/>
<circle cx="489.42" cy="478.92" r="1.35" fill="#a3192f"/>
<circle cx="493.33" cy="478.68" r="1.35" fill="#a3192f"/>
<circle cx="495.33" cy="478.44" r="1.35" fill="#a3192f"/>
<circle cx="497.33" cy="478.92" r="1.35" fill="#a3192f"/>
<circle cx="501.24" cy="479.54" r="1.35" fill="#a3192f"/>
<circle cx="503.24" cy="479.31" r="1.35" fill="#a3192f"/>
<circle cx="505.24" cy="479.76" r="1.35" fill="#a3192f"/>
<line x1="305.5" y1="491.5" x2="305.5" y2="419.8" stroke="#2a2a2a" stroke-width="1.1" />
<line x1="305" y1="491" x2="512.4" y2="491" stroke="#2a2a2a" stroke-width="1.1" />
<line x1="302.7" y1="491" x2="305.5" y2="491" stroke="#2a2a2a" stroke-width="0.9" />
<text x="299.4" y="493.4" font-size="7" fill="#2a2a2a" text-anchor="end" transform="translate(299.4 493.4) scale(0.8 1) translate(-299.4 -493.4)"  stroke="#2a2a2a" stroke-width="0.1">0</text>
<line x1="302.7" y1="473.82" x2="305.5" y2="473.82" stroke="#2a2a2a" stroke-width="0.9" />
<text x="299.4" y="476.22" font-size="7" fill="#2a2a2a" text-anchor="end" transform="translate(299.4 476.22) scale(0.8 1) translate(-299.4 -476.22)"  stroke="#2a2a2a" stroke-width="0.1">2</text>
<line x1="302.7" y1="456.65" x2="305.5" y2="456.65" stroke="#2a2a2a" stroke-width="0.9" />
<text x="299.4" y="459.05" font-size="7" fill="#2a2a2a" text-anchor="end" transform="translate(299.4 459.05) scale(0.8 1) translate(-299.4 -459.05)"  stroke="#2a2a2a" stroke-width="0.1">4</text>
<line x1="302.7" y1="439.48" x2="305.5" y2="439.48" stroke="#2a2a2a" stroke-width="0.9" />
<text x="299.4" y="441.88" font-size="7" fill="#2a2a2a" text-anchor="end" transform="translate(299.4 441.88) scale(0.8 1) translate(-299.4 -441.88)"  stroke="#2a2a2a" stroke-width="0.1">6</text>
<line x1="302.7" y1="422.3" x2="305.5" y2="422.3" stroke="#2a2a2a" stroke-width="0.9" />
<text x="299.4" y="424.7" font-size="7" fill="#2a2a2a" text-anchor="end" transform="translate(299.4 424.7) scale(0.8 1) translate(-299.4 -424.7)"  stroke="#2a2a2a" stroke-width="0.1">8</text>
<line x1="313.4" y1="491" x2="313.4" y2="494" stroke="#2a2a2a" stroke-width="0.9" />
<text x="316.2" y="499.2" font-size="5.7" fill="#222" text-anchor="end" transform="rotate(-45 316.2 499.2)"  textLength="7.69" lengthAdjust="spacingAndGlyphs" stroke="#222" stroke-width="0.25">3.1</text>
<line x1="321.31" y1="491" x2="321.31" y2="494" stroke="#2a2a2a" stroke-width="0.9" />
<text x="324.11" y="499.2" font-size="5.7" fill="#222" text-anchor="end" transform="rotate(-45 324.11 499.2)"  textLength="7.69" lengthAdjust="spacingAndGlyphs" stroke="#222" stroke-width="0.25">3.2</text>
<line x1="329.22" y1="491" x2="329.22" y2="494" stroke="#2a2a2a" stroke-width="0.9" />
<text x="332.02" y="499.2" font-size="5.7" fill="#222" text-anchor="end" transform="rotate(-45 332.02 499.2)"  textLength="7.69" lengthAdjust="spacingAndGlyphs" stroke="#222" stroke-width="0.25">4.1</text>
<line x1="337.13" y1="491" x2="337.13" y2="494" stroke="#2a2a2a" stroke-width="0.9" />
<text x="339.93" y="499.2" font-size="5.7" fill="#222" text-anchor="end" transform="rotate(-45 339.93 499.2)"  textLength="7.69" lengthAdjust="spacingAndGlyphs" stroke="#222" stroke-width="0.25">4.2</text>
<line x1="345.04" y1="491" x2="345.04" y2="494" stroke="#2a2a2a" stroke-width="0.9" />
<text x="347.84" y="499.2" font-size="5.7" fill="#222" text-anchor="end" transform="rotate(-45 347.84 499.2)"  textLength="7.69" lengthAdjust="spacingAndGlyphs" stroke="#222" stroke-width="0.25">4.3</text>
<line x1="352.95" y1="491" x2="352.95" y2="494" stroke="#2a2a2a" stroke-width="0.9" />
<text x="355.75" y="499.2" font-size="5.7" fill="#222" text-anchor="end" transform="rotate(-45 355.75 499.2)"  textLength="10.76" lengthAdjust="spacingAndGlyphs" stroke="#222" stroke-width="0.25">12.1</text>
<line x1="360.86" y1="491" x2="360.86" y2="494" stroke="#2a2a2a" stroke-width="0.9" />
<text x="363.66" y="499.2" font-size="5.7" fill="#222" text-anchor="end" transform="rotate(-45 363.66 499.2)"  textLength="10.76" lengthAdjust="spacingAndGlyphs" stroke="#222" stroke-width="0.25">12.2</text>
<line x1="368.77" y1="491" x2="368.77" y2="494" stroke="#2a2a2a" stroke-width="0.9" />
<text x="371.57" y="499.2" font-size="5.7" fill="#222" text-anchor="end" transform="rotate(-45 371.57 499.2)"  textLength="10.76" lengthAdjust="spacingAndGlyphs" stroke="#222" stroke-width="0.25">12.3</text>
<line x1="376.68" y1="491" x2="376.68" y2="494" stroke="#2a2a2a" stroke-width="0.9" />
<text x="379.48" y="499.2" font-size="5.7" fill="#222" text-anchor="end" transform="rotate(-45 379.48 499.2)"  textLength="10.76" lengthAdjust="spacingAndGlyphs" stroke="#222" stroke-width="0.25">12.4</text>
<line x1="384.59" y1="491" x2="384.59" y2="494" stroke="#2a2a2a" stroke-width="0.9" />
<text x="387.39" y="499.2" font-size="5.7" fill="#222" text-anchor="end" transform="rotate(-45 387.39 499.2)"  textLength="10.76" lengthAdjust="spacingAndGlyphs" stroke="#222" stroke-width="0.25">12.5</text>
<line x1="392.5" y1="491" x2="392.5" y2="494" stroke="#2a2a2a" stroke-width="0.9" />
<text x="395.3" y="499.2" font-size="5.7" fill="#222" text-anchor="end" transform="rotate(-45 395.3 499.2)"  textLength="10.76" lengthAdjust="spacingAndGlyphs" stroke="#222" stroke-width="0.25">20.1</text>
<line x1="400.41" y1="491" x2="400.41" y2="494" stroke="#2a2a2a" stroke-width="0.9" />
<text x="403.21" y="499.2" font-size="5.7" fill="#222" text-anchor="end" transform="rotate(-45 403.21 499.2)"  textLength="10.76" lengthAdjust="spacingAndGlyphs" stroke="#222" stroke-width="0.25">21.1</text>
<line x1="408.32" y1="491" x2="408.32" y2="494" stroke="#2a2a2a" stroke-width="0.9" />
<text x="411.12" y="499.2" font-size="5.7" fill="#222" text-anchor="end" transform="rotate(-45 411.12 499.2)"  textLength="10.76" lengthAdjust="spacingAndGlyphs" stroke="#222" stroke-width="0.25">22.1</text>
<line x1="416.23" y1="491" x2="416.23" y2="494" stroke="#2a2a2a" stroke-width="0.9" />
<text x="419.03" y="499.2" font-size="5.7" fill="#222" text-anchor="end" transform="rotate(-45 419.03 499.2)"  textLength="10.76" lengthAdjust="spacingAndGlyphs" stroke="#222" stroke-width="0.25">23.1</text>
<line x1="424.14" y1="491" x2="424.14" y2="494" stroke="#2a2a2a" stroke-width="0.9" />
<text x="426.94" y="499.2" font-size="5.7" fill="#222" text-anchor="end" transform="rotate(-45 426.94 499.2)"  textLength="10.76" lengthAdjust="spacingAndGlyphs" stroke="#222" stroke-width="0.25">24.1</text>
<line x1="432.05" y1="491" x2="432.05" y2="494" stroke="#2a2a2a" stroke-width="0.9" />
<text x="434.85" y="499.2" font-size="5.7" fill="#222" text-anchor="end" transform="rotate(-45 434.85 499.2)"  textLength="16.9" lengthAdjust="spacingAndGlyphs" stroke="#222" stroke-width="0.25">Renilla</text>
<line x1="439.96" y1="491" x2="439.96" y2="494" stroke="#2a2a2a" stroke-width="0.9" />
<text x="442.76" y="499.2" font-size="5.7" fill="#222" text-anchor="end" transform="rotate(-45 442.76 499.2)"  textLength="19.36" lengthAdjust="spacingAndGlyphs" stroke="#222" stroke-width="0.25">BRD4.2</text>
<line x1="447.87" y1="491" x2="447.87" y2="494" stroke="#2a2a2a" stroke-width="0.9" />
<text x="450.67" y="499.2" font-size="5.7" fill="#222" text-anchor="end" transform="rotate(-45 450.67 499.2)"  textLength="19.36" lengthAdjust="spacingAndGlyphs" stroke="#222" stroke-width="0.25">BRD4.4</text>
<line x1="455.78" y1="491" x2="455.78" y2="494" stroke="#2a2a2a" stroke-width="0.9" />
<text x="458.58" y="499.2" font-size="5.7" fill="#222" text-anchor="end" transform="rotate(-45 458.58 499.2)"  textLength="22.43" lengthAdjust="spacingAndGlyphs" stroke="#222" stroke-width="0.25">DOT1L.3</text>
<line x1="463.69" y1="491" x2="463.69" y2="494" stroke="#2a2a2a" stroke-width="0.9" />
<text x="466.49" y="499.2" font-size="5.7" fill="#222" text-anchor="end" transform="rotate(-45 466.49 499.2)"  textLength="22.43" lengthAdjust="spacingAndGlyphs" stroke="#222" stroke-width="0.25">DOT1L.4</text>
<line x1="471.6" y1="491" x2="471.6" y2="494" stroke="#2a2a2a" stroke-width="0.9" />
<text x="474.4" y="499.2" font-size="5.7" fill="#222" text-anchor="end" transform="rotate(-45 474.4 499.2)"  textLength="18.64" lengthAdjust="spacingAndGlyphs" stroke="#222" stroke-width="0.25">RPA3.1</text>
<line x1="479.51" y1="491" x2="479.51" y2="494" stroke="#2a2a2a" stroke-width="0.9" />
<text x="482.31" y="499.2" font-size="5.7" fill="#222" text-anchor="end" transform="rotate(-45 482.31 499.2)"  textLength="18.64" lengthAdjust="spacingAndGlyphs" stroke="#222" stroke-width="0.25">RPA3.4</text>
<line x1="487.42" y1="491" x2="487.42" y2="494" stroke="#2a2a2a" stroke-width="0.9" />
<text x="490.22" y="499.2" font-size="5.7" fill="#222" text-anchor="end" transform="rotate(-45 490.22 499.2)"  textLength="21.82" lengthAdjust="spacingAndGlyphs" stroke="#222" stroke-width="0.25">POLRA2</text>
<line x1="495.33" y1="491" x2="495.33" y2="494" stroke="#2a2a2a" stroke-width="0.9" />
<text x="498.13" y="499.2" font-size="5.7" fill="#222" text-anchor="end" transform="rotate(-45 498.13 499.2)"  textLength="21.82" lengthAdjust="spacingAndGlyphs" stroke="#222" stroke-width="0.25">POLRA4</text>
<line x1="503.24" y1="491" x2="503.24" y2="494" stroke="#2a2a2a" stroke-width="0.9" />
<text x="506.04" y="499.2" font-size="5.7" fill="#222" text-anchor="end" transform="rotate(-45 506.04 499.2)"  textLength="21.82" lengthAdjust="spacingAndGlyphs" stroke="#222" stroke-width="0.25">POLRA9</text>
<text x="402.0" y="425.1" font-size="5.6" fill="#222">U937</text>
<text x="289.2" y="455.6" font-size="9.12" fill="#2a2a2a" text-anchor="middle" transform="rotate(-90 289.2 455.6)"  textLength="50.7" lengthAdjust="spacingAndGlyphs" stroke="#2a2a2a" stroke-width="0.1">Fold depletion</text>
<line x1="305.5" y1="580.12" x2="512.4" y2="580.12" stroke="#858a92" stroke-width="0.75" stroke-dasharray="2 0.7"/>
<rect x="309.5" y="588.5" width="7" height="4.3" fill="#fff" stroke="#1a1a1a" stroke-width="0.9" />
<rect x="317.5" y="588.5" width="7" height="4.3" fill="#fff" stroke="#1a1a1a" stroke-width="0.9" />
<rect x="325.5" y="587.5" width="7" height="5.3" fill="#fff" stroke="#1a1a1a" stroke-width="0.9" />
<rect x="333.5" y="589.5" width="7" height="3.3" fill="#fff" stroke="#1a1a1a" stroke-width="0.9" />
<rect x="341.5" y="588.5" width="7" height="4.3" fill="#fff" stroke="#1a1a1a" stroke-width="0.9" />
<rect x="349.5" y="587.5" width="7" height="5.3" fill="#fff" stroke="#1a1a1a" stroke-width="0.9" />
<rect x="357.5" y="588.5" width="7" height="4.3" fill="#fff" stroke="#1a1a1a" stroke-width="0.9" />
<rect x="365.5" y="587.5" width="7" height="5.3" fill="#fff" stroke="#1a1a1a" stroke-width="0.9" />
<rect x="373.5" y="587.5" width="7" height="5.3" fill="#fff" stroke="#1a1a1a" stroke-width="0.9" />
<rect x="381.5" y="588.5" width="7" height="4.3" fill="#fff" stroke="#1a1a1a" stroke-width="0.9" />
<rect x="389.5" y="586.5" width="7" height="6.3" fill="#fff" stroke="#1a1a1a" stroke-width="0.9" />
<rect x="396.5" y="588.5" width="7" height="4.3" fill="#fff" stroke="#1a1a1a" stroke-width="0.9" />
<line x1="399.5" y1="588.5" x2="399.5" y2="585.19" stroke="#1a1a1a" stroke-width="0.8" />
<line x1="397.9" y1="585.19" x2="401.1" y2="585.19" stroke="#1a1a1a" stroke-width="0.8" />
<rect x="404.5" y="589.5" width="7" height="3.3" fill="#fff" stroke="#1a1a1a" stroke-width="0.9" />
<rect x="412.5" y="589.5" width="7" height="3.3" fill="#fff" stroke="#1a1a1a" stroke-width="0.9" />
<rect x="420.5" y="589.5" width="7" height="3.3" fill="#fff" stroke="#1a1a1a" stroke-width="0.9" />
<rect x="428.5" y="589.5" width="7" height="3.3" fill="#fff" stroke="#1a1a1a" stroke-width="0.9" />
<rect x="436.5" y="584.5" width="7" height="8.3" fill="#fff" stroke="#1a1a1a" stroke-width="0.9" />
<rect x="444.5" y="582.5" width="7" height="10.3" fill="#fff" stroke="#1a1a1a" stroke-width="0.9" />
<line x1="447.5" y1="582.5" x2="447.5" y2="578.22" stroke="#1a1a1a" stroke-width="0.8" />
<line x1="445.9" y1="578.22" x2="449.1" y2="578.22" stroke="#1a1a1a" stroke-width="0.8" />
<line x1="447.5" y1="582.5" x2="447.5" y2="586.46" stroke="#1a1a1a" stroke-width="0.8" />
<line x1="445.9" y1="586.46" x2="449.1" y2="586.46" stroke="#1a1a1a" stroke-width="0.8" />
<path d="M452.5 592.8 V561.1 M459.5 592.8 V561.1 M452.5 555.7 V547.5 H459.5 V555.7" fill="none" stroke="#1a1a1a" stroke-width="0.9"/>
<line x1="455.5" y1="547.5" x2="455.5" y2="527.32" stroke="#1a1a1a" stroke-width="0.8" />
<line x1="453.9" y1="527.32" x2="457.1" y2="527.32" stroke="#1a1a1a" stroke-width="0.8" />
<line x1="455.5" y1="547.5" x2="455.5" y2="580.12" stroke="#1a1a1a" stroke-width="0.8" />
<line x1="453.9" y1="580.12" x2="457.1" y2="580.12" stroke="#1a1a1a" stroke-width="0.8" />
<rect x="460.5" y="585.5" width="7" height="7.3" fill="#fff" stroke="#1a1a1a" stroke-width="0.9" />
<line x1="463.5" y1="585.5" x2="463.5" y2="582.02" stroke="#1a1a1a" stroke-width="0.8" />
<line x1="461.9" y1="582.02" x2="465.1" y2="582.02" stroke="#1a1a1a" stroke-width="0.8" />
<rect x="468.5" y="587.5" width="7" height="5.3" fill="#fff" stroke="#1a1a1a" stroke-width="0.9" />
<rect x="476.5" y="588.5" width="7" height="4.3" fill="#fff" stroke="#1a1a1a" stroke-width="0.9" />
<rect x="483.5" y="588.5" width="7" height="4.3" fill="#fff" stroke="#1a1a1a" stroke-width="0.9" />
<rect x="491.5" y="588.5" width="7" height="4.3" fill="#fff" stroke="#1a1a1a" stroke-width="0.9" />
<rect x="499.5" y="589.5" width="7" height="3.3" fill="#fff" stroke="#1a1a1a" stroke-width="0.9" />
<circle cx="311.4" cy="588.06" r="1.35" fill="#a3192f"/>
<circle cx="313.4" cy="587.97" r="1.35" fill="#a3192f"/>
<circle cx="315.4" cy="588.15" r="1.35" fill="#a3192f"/>
<circle cx="319.31" cy="587.75" r="1.35" fill="#a3192f"/>
<circle cx="321.31" cy="587.65" r="1.35" fill="#a3192f"/>
<circle cx="323.31" cy="587.84" r="1.35" fill="#a3192f"/>
<circle cx="327.22" cy="587.11" r="1.35" fill="#a3192f"/>
<circle cx="329.22" cy="587" r="1.35" fill="#a3192f"/>
<circle cx="331.22" cy="587.22" r="1.35" fill="#a3192f"/>
<circle cx="335.13" cy="589.01" r="1.35" fill="#a3192f"/>
<circle cx="337.13" cy="588.94" r="1.35" fill="#a3192f"/>
<circle cx="339.13" cy="589.08" r="1.35" fill="#a3192f"/>
<circle cx="343.04" cy="587.43" r="1.35" fill="#a3192f"/>
<circle cx="345.04" cy="588.7" r="1.35" fill="#a3192f"/>
<circle cx="347.04" cy="589.96" r="1.35" fill="#a3192f"/>
<circle cx="350.95" cy="587.43" r="1.35" fill="#a3192f"/>
<circle cx="352.95" cy="587.33" r="1.35" fill="#a3192f"/>
<circle cx="354.95" cy="587.53" r="1.35" fill="#a3192f"/>
<circle cx="358.86" cy="588.7" r="1.35" fill="#a3192f"/>
<circle cx="360.86" cy="588.62" r="1.35" fill="#a3192f"/>
<circle cx="362.86" cy="588.77" r="1.35" fill="#a3192f"/>
<circle cx="366.77" cy="584.89" r="1.35" fill="#a3192f"/>
<circle cx="368.77" cy="587.43" r="1.35" fill="#a3192f"/>
<circle cx="370.77" cy="587.43" r="1.35" fill="#a3192f"/>
<circle cx="374.68" cy="587.11" r="1.35" fill="#a3192f"/>
<circle cx="376.68" cy="587" r="1.35" fill="#a3192f"/>
<circle cx="378.68" cy="587.22" r="1.35" fill="#a3192f"/>
<circle cx="382.59" cy="588.06" r="1.35" fill="#a3192f"/>
<circle cx="384.59" cy="587.97" r="1.35" fill="#a3192f"/>
<circle cx="386.59" cy="588.15" r="1.35" fill="#a3192f"/>
<circle cx="390.5" cy="585.84" r="1.35" fill="#a3192f"/>
<circle cx="392.5" cy="585.71" r="1.35" fill="#a3192f"/>
<circle cx="394.5" cy="585.98" r="1.35" fill="#a3192f"/>
<circle cx="398.81" cy="584.89" r="1.35" fill="#a3192f"/>
<circle cx="402.01" cy="587.43" r="1.35" fill="#a3192f"/>
<circle cx="400.41" cy="589.33" r="1.35" fill="#a3192f"/>
<circle cx="406.32" cy="589.33" r="1.35" fill="#a3192f"/>
<circle cx="408.32" cy="589.27" r="1.35" fill="#a3192f"/>
<circle cx="410.32" cy="589.39" r="1.35" fill="#a3192f"/>
<circle cx="414.23" cy="588.89" r="1.35" fill="#a3192f"/>
<circle cx="416.23" cy="588.81" r="1.35" fill="#a3192f"/>
<circle cx="418.23" cy="588.96" r="1.35" fill="#a3192f"/>
<circle cx="422.14" cy="588.89" r="1.35" fill="#a3192f"/>
<circle cx="424.14" cy="588.81" r="1.35" fill="#a3192f"/>
<circle cx="426.14" cy="588.96" r="1.35" fill="#a3192f"/>
<circle cx="430.05" cy="588.89" r="1.35" fill="#a3192f"/>
<circle cx="432.05" cy="588.81" r="1.35" fill="#a3192f"/>
<circle cx="434.05" cy="588.96" r="1.35" fill="#a3192f"/>
<circle cx="437.96" cy="584.26" r="1.35" fill="#a3192f"/>
<circle cx="439.96" cy="584.09" r="1.35" fill="#a3192f"/>
<circle cx="441.96" cy="584.42" r="1.35" fill="#a3192f"/>
<circle cx="446.27" cy="578.55" r="1.35" fill="#a3192f"/>
<circle cx="449.47" cy="581.72" r="1.35" fill="#a3192f"/>
<circle cx="447.87" cy="584.26" r="1.35" fill="#a3192f"/>
<circle cx="455.78" cy="532.06" r="1.35" fill="#a3192f"/>
<circle cx="455.78" cy="538.36" r="1.35" fill="#a3192f"/>
<circle cx="455.78" cy="527.02" r="1.35" fill="#a3192f"/>
<circle cx="462.09" cy="581.72" r="1.35" fill="#a3192f"/>
<circle cx="465.29" cy="586.16" r="1.35" fill="#a3192f"/>
<circle cx="463.69" cy="586.79" r="1.35" fill="#a3192f"/>
<circle cx="469.6" cy="587.68" r="1.35" fill="#a3192f"/>
<circle cx="471.6" cy="587.59" r="1.35" fill="#a3192f"/>
<circle cx="473.6" cy="587.78" r="1.35" fill="#a3192f"/>
<circle cx="477.51" cy="588.38" r="1.35" fill="#a3192f"/>
<circle cx="479.51" cy="588.3" r="1.35" fill="#a3192f"/>
<circle cx="481.51" cy="588.46" r="1.35" fill="#a3192f"/>
<circle cx="485.42" cy="586.79" r="1.35" fill="#a3192f"/>
<circle cx="487.42" cy="588.7" r="1.35" fill="#a3192f"/>
<circle cx="489.42" cy="588.7" r="1.35" fill="#a3192f"/>
<circle cx="493.33" cy="588.19" r="1.35" fill="#a3192f"/>
<circle cx="495.33" cy="588.1" r="1.35" fill="#a3192f"/>
<circle cx="497.33" cy="588.28" r="1.35" fill="#a3192f"/>
<circle cx="501.24" cy="588.89" r="1.35" fill="#a3192f"/>
<circle cx="503.24" cy="588.81" r="1.35" fill="#a3192f"/>
<circle cx="505.24" cy="588.96" r="1.35" fill="#a3192f"/>
<line x1="305.5" y1="593.3" x2="305.5" y2="561.1" stroke="#2a2a2a" stroke-width="1.1" />
<line x1="305.5" y1="555.7" x2="305.5" y2="522.3" stroke="#2a2a2a" stroke-width="1.1" />
<line x1="302.5" y1="555.7" x2="308.9" y2="555.7" stroke="#2a2a2a" stroke-width="1" />
<line x1="302.5" y1="561.1" x2="308.9" y2="561.1" stroke="#2a2a2a" stroke-width="1" />
<line x1="305" y1="592.8" x2="512.4" y2="592.8" stroke="#2a2a2a" stroke-width="1.1" />
<line x1="302.7" y1="592.8" x2="305.5" y2="592.8" stroke="#2a2a2a" stroke-width="0.9" />
<text x="299.4" y="595.2" font-size="7" fill="#2a2a2a" text-anchor="end" transform="translate(299.4 595.2) scale(0.8 1) translate(-299.4 -595.2)"  stroke="#2a2a2a" stroke-width="0.1">0</text>
<line x1="302.7" y1="586.46" x2="305.5" y2="586.46" stroke="#2a2a2a" stroke-width="0.9" />
<text x="299.4" y="588.86" font-size="7" fill="#2a2a2a" text-anchor="end" transform="translate(299.4 588.86) scale(0.8 1) translate(-299.4 -588.86)"  stroke="#2a2a2a" stroke-width="0.1">1</text>
<line x1="302.7" y1="580.12" x2="305.5" y2="580.12" stroke="#2a2a2a" stroke-width="0.9" />
<text x="299.4" y="582.52" font-size="7" fill="#2a2a2a" text-anchor="end" transform="translate(299.4 582.52) scale(0.8 1) translate(-299.4 -582.52)"  stroke="#2a2a2a" stroke-width="0.1">2</text>
<line x1="302.7" y1="573.78" x2="305.5" y2="573.78" stroke="#2a2a2a" stroke-width="0.9" />
<text x="299.4" y="576.18" font-size="7" fill="#2a2a2a" text-anchor="end" transform="translate(299.4 576.18) scale(0.8 1) translate(-299.4 -576.18)"  stroke="#2a2a2a" stroke-width="0.1">3</text>
<line x1="302.7" y1="567.44" x2="305.5" y2="567.44" stroke="#2a2a2a" stroke-width="0.9" />
<text x="299.4" y="569.84" font-size="7" fill="#2a2a2a" text-anchor="end" transform="translate(299.4 569.84) scale(0.8 1) translate(-299.4 -569.84)"  stroke="#2a2a2a" stroke-width="0.1">4</text>
<line x1="302.7" y1="561.1" x2="305.5" y2="561.1" stroke="#2a2a2a" stroke-width="0.9" />
<text x="299.4" y="563.5" font-size="7" fill="#2a2a2a" text-anchor="end" transform="translate(299.4 563.5) scale(0.8 1) translate(-299.4 -563.5)"  stroke="#2a2a2a" stroke-width="0.1">5</text>
<line x1="302.7" y1="550" x2="305.5" y2="550" stroke="#2a2a2a" stroke-width="0.9" />
<text x="299.4" y="552.4" font-size="7" fill="#2a2a2a" text-anchor="end" transform="translate(299.4 552.4) scale(0.8 1) translate(-299.4 -552.4)"  stroke="#2a2a2a" stroke-width="0.1">15</text>
<line x1="302.7" y1="537.4" x2="305.5" y2="537.4" stroke="#2a2a2a" stroke-width="0.9" />
<text x="299.4" y="539.8" font-size="7" fill="#2a2a2a" text-anchor="end" transform="translate(299.4 539.8) scale(0.8 1) translate(-299.4 -539.8)"  stroke="#2a2a2a" stroke-width="0.1">20</text>
<line x1="302.7" y1="524.8" x2="305.5" y2="524.8" stroke="#2a2a2a" stroke-width="0.9" />
<text x="299.4" y="527.2" font-size="7" fill="#2a2a2a" text-anchor="end" transform="translate(299.4 527.2) scale(0.8 1) translate(-299.4 -527.2)"  stroke="#2a2a2a" stroke-width="0.1">25</text>
<line x1="313.4" y1="592.8" x2="313.4" y2="595.8" stroke="#2a2a2a" stroke-width="0.9" />
<text x="316.2" y="601" font-size="5.7" fill="#222" text-anchor="end" transform="rotate(-45 316.2 601)"  textLength="7.69" lengthAdjust="spacingAndGlyphs" stroke="#222" stroke-width="0.25">3.1</text>
<line x1="321.31" y1="592.8" x2="321.31" y2="595.8" stroke="#2a2a2a" stroke-width="0.9" />
<text x="324.11" y="601" font-size="5.7" fill="#222" text-anchor="end" transform="rotate(-45 324.11 601)"  textLength="7.69" lengthAdjust="spacingAndGlyphs" stroke="#222" stroke-width="0.25">3.2</text>
<line x1="329.22" y1="592.8" x2="329.22" y2="595.8" stroke="#2a2a2a" stroke-width="0.9" />
<text x="332.02" y="601" font-size="5.7" fill="#222" text-anchor="end" transform="rotate(-45 332.02 601)"  textLength="7.69" lengthAdjust="spacingAndGlyphs" stroke="#222" stroke-width="0.25">4.1</text>
<line x1="337.13" y1="592.8" x2="337.13" y2="595.8" stroke="#2a2a2a" stroke-width="0.9" />
<text x="339.93" y="601" font-size="5.7" fill="#222" text-anchor="end" transform="rotate(-45 339.93 601)"  textLength="7.69" lengthAdjust="spacingAndGlyphs" stroke="#222" stroke-width="0.25">4.2</text>
<line x1="345.04" y1="592.8" x2="345.04" y2="595.8" stroke="#2a2a2a" stroke-width="0.9" />
<text x="347.84" y="601" font-size="5.7" fill="#222" text-anchor="end" transform="rotate(-45 347.84 601)"  textLength="7.69" lengthAdjust="spacingAndGlyphs" stroke="#222" stroke-width="0.25">4.3</text>
<line x1="352.95" y1="592.8" x2="352.95" y2="595.8" stroke="#2a2a2a" stroke-width="0.9" />
<text x="355.75" y="601" font-size="5.7" fill="#222" text-anchor="end" transform="rotate(-45 355.75 601)"  textLength="10.76" lengthAdjust="spacingAndGlyphs" stroke="#222" stroke-width="0.25">12.1</text>
<line x1="360.86" y1="592.8" x2="360.86" y2="595.8" stroke="#2a2a2a" stroke-width="0.9" />
<text x="363.66" y="601" font-size="5.7" fill="#222" text-anchor="end" transform="rotate(-45 363.66 601)"  textLength="10.76" lengthAdjust="spacingAndGlyphs" stroke="#222" stroke-width="0.25">12.2</text>
<line x1="368.77" y1="592.8" x2="368.77" y2="595.8" stroke="#2a2a2a" stroke-width="0.9" />
<text x="371.57" y="601" font-size="5.7" fill="#222" text-anchor="end" transform="rotate(-45 371.57 601)"  textLength="10.76" lengthAdjust="spacingAndGlyphs" stroke="#222" stroke-width="0.25">12.3</text>
<line x1="376.68" y1="592.8" x2="376.68" y2="595.8" stroke="#2a2a2a" stroke-width="0.9" />
<text x="379.48" y="601" font-size="5.7" fill="#222" text-anchor="end" transform="rotate(-45 379.48 601)"  textLength="10.76" lengthAdjust="spacingAndGlyphs" stroke="#222" stroke-width="0.25">12.4</text>
<line x1="384.59" y1="592.8" x2="384.59" y2="595.8" stroke="#2a2a2a" stroke-width="0.9" />
<text x="387.39" y="601" font-size="5.7" fill="#222" text-anchor="end" transform="rotate(-45 387.39 601)"  textLength="10.76" lengthAdjust="spacingAndGlyphs" stroke="#222" stroke-width="0.25">12.5</text>
<line x1="392.5" y1="592.8" x2="392.5" y2="595.8" stroke="#2a2a2a" stroke-width="0.9" />
<text x="395.3" y="601" font-size="5.7" fill="#222" text-anchor="end" transform="rotate(-45 395.3 601)"  textLength="10.76" lengthAdjust="spacingAndGlyphs" stroke="#222" stroke-width="0.25">20.1</text>
<line x1="400.41" y1="592.8" x2="400.41" y2="595.8" stroke="#2a2a2a" stroke-width="0.9" />
<text x="403.21" y="601" font-size="5.7" fill="#222" text-anchor="end" transform="rotate(-45 403.21 601)"  textLength="10.76" lengthAdjust="spacingAndGlyphs" stroke="#222" stroke-width="0.25">21.1</text>
<line x1="408.32" y1="592.8" x2="408.32" y2="595.8" stroke="#2a2a2a" stroke-width="0.9" />
<text x="411.12" y="601" font-size="5.7" fill="#222" text-anchor="end" transform="rotate(-45 411.12 601)"  textLength="10.76" lengthAdjust="spacingAndGlyphs" stroke="#222" stroke-width="0.25">22.1</text>
<line x1="416.23" y1="592.8" x2="416.23" y2="595.8" stroke="#2a2a2a" stroke-width="0.9" />
<text x="419.03" y="601" font-size="5.7" fill="#222" text-anchor="end" transform="rotate(-45 419.03 601)"  textLength="10.76" lengthAdjust="spacingAndGlyphs" stroke="#222" stroke-width="0.25">23.1</text>
<line x1="424.14" y1="592.8" x2="424.14" y2="595.8" stroke="#2a2a2a" stroke-width="0.9" />
<text x="426.94" y="601" font-size="5.7" fill="#222" text-anchor="end" transform="rotate(-45 426.94 601)"  textLength="10.76" lengthAdjust="spacingAndGlyphs" stroke="#222" stroke-width="0.25">24.1</text>
<line x1="432.05" y1="592.8" x2="432.05" y2="595.8" stroke="#2a2a2a" stroke-width="0.9" />
<text x="434.85" y="601" font-size="5.7" fill="#222" text-anchor="end" transform="rotate(-45 434.85 601)"  textLength="16.9" lengthAdjust="spacingAndGlyphs" stroke="#222" stroke-width="0.25">Renilla</text>
<line x1="439.96" y1="592.8" x2="439.96" y2="595.8" stroke="#2a2a2a" stroke-width="0.9" />
<text x="442.76" y="601" font-size="5.7" fill="#222" text-anchor="end" transform="rotate(-45 442.76 601)"  textLength="19.36" lengthAdjust="spacingAndGlyphs" stroke="#222" stroke-width="0.25">BRD4.2</text>
<line x1="447.87" y1="592.8" x2="447.87" y2="595.8" stroke="#2a2a2a" stroke-width="0.9" />
<text x="450.67" y="601" font-size="5.7" fill="#222" text-anchor="end" transform="rotate(-45 450.67 601)"  textLength="19.36" lengthAdjust="spacingAndGlyphs" stroke="#222" stroke-width="0.25">BRD4.4</text>
<line x1="455.78" y1="592.8" x2="455.78" y2="595.8" stroke="#2a2a2a" stroke-width="0.9" />
<text x="458.58" y="601" font-size="5.7" fill="#222" text-anchor="end" transform="rotate(-45 458.58 601)"  textLength="22.43" lengthAdjust="spacingAndGlyphs" stroke="#222" stroke-width="0.25">DOT1L.3</text>
<line x1="463.69" y1="592.8" x2="463.69" y2="595.8" stroke="#2a2a2a" stroke-width="0.9" />
<text x="466.49" y="601" font-size="5.7" fill="#222" text-anchor="end" transform="rotate(-45 466.49 601)"  textLength="22.43" lengthAdjust="spacingAndGlyphs" stroke="#222" stroke-width="0.25">DOT1L.4</text>
<line x1="471.6" y1="592.8" x2="471.6" y2="595.8" stroke="#2a2a2a" stroke-width="0.9" />
<text x="474.4" y="601" font-size="5.7" fill="#222" text-anchor="end" transform="rotate(-45 474.4 601)"  textLength="18.64" lengthAdjust="spacingAndGlyphs" stroke="#222" stroke-width="0.25">RPA3.1</text>
<line x1="479.51" y1="592.8" x2="479.51" y2="595.8" stroke="#2a2a2a" stroke-width="0.9" />
<text x="482.31" y="601" font-size="5.7" fill="#222" text-anchor="end" transform="rotate(-45 482.31 601)"  textLength="18.64" lengthAdjust="spacingAndGlyphs" stroke="#222" stroke-width="0.25">RPA3.4</text>
<line x1="487.42" y1="592.8" x2="487.42" y2="595.8" stroke="#2a2a2a" stroke-width="0.9" />
<text x="490.22" y="601" font-size="5.7" fill="#222" text-anchor="end" transform="rotate(-45 490.22 601)"  textLength="21.82" lengthAdjust="spacingAndGlyphs" stroke="#222" stroke-width="0.25">POLRA2</text>
<line x1="495.33" y1="592.8" x2="495.33" y2="595.8" stroke="#2a2a2a" stroke-width="0.9" />
<text x="498.13" y="601" font-size="5.7" fill="#222" text-anchor="end" transform="rotate(-45 498.13 601)"  textLength="21.82" lengthAdjust="spacingAndGlyphs" stroke="#222" stroke-width="0.25">POLRA4</text>
<line x1="503.24" y1="592.8" x2="503.24" y2="595.8" stroke="#2a2a2a" stroke-width="0.9" />
<text x="506.04" y="601" font-size="5.7" fill="#222" text-anchor="end" transform="rotate(-45 506.04 601)"  textLength="21.82" lengthAdjust="spacingAndGlyphs" stroke="#222" stroke-width="0.25">POLRA9</text>
<text x="395.3" y="527.0" font-size="5.6" fill="#222">OCI-AML3</text>
<text x="285.8" y="557.3" font-size="9.12" fill="#2a2a2a" text-anchor="middle" transform="rotate(-90 285.8 557.3)"  textLength="50.7" lengthAdjust="spacingAndGlyphs" stroke="#2a2a2a" stroke-width="0.1">Fold depletion</text>
<text x="7.6" y="307.8" font-size="10.6" fill="#111" text-anchor="start"  stroke="#111" stroke-width="0.1">D</text>
<line x1="44.6" y1="369" x2="251.5" y2="369" stroke="#858a92" stroke-width="0.75" stroke-dasharray="2 0.7"/>
<rect x="49.5" y="372.5" width="7" height="2.9" fill="#fff" stroke="#1a1a1a" stroke-width="0.9" />
<rect x="57.5" y="371.5" width="7" height="3.9" fill="#fff" stroke="#1a1a1a" stroke-width="0.9" />
<rect x="64.5" y="372.5" width="7" height="2.9" fill="#fff" stroke="#1a1a1a" stroke-width="0.9" />
<rect x="72.5" y="372.5" width="7" height="2.9" fill="#fff" stroke="#1a1a1a" stroke-width="0.9" />
<rect x="80.5" y="372.5" width="7" height="2.9" fill="#fff" stroke="#1a1a1a" stroke-width="0.9" />
<rect x="88.5" y="372.5" width="7" height="2.9" fill="#fff" stroke="#1a1a1a" stroke-width="0.9" />
<rect x="96.5" y="371.5" width="7" height="3.9" fill="#fff" stroke="#1a1a1a" stroke-width="0.9" />
<rect x="104.5" y="372.5" width="7" height="2.9" fill="#fff" stroke="#1a1a1a" stroke-width="0.9" />
<rect x="112.5" y="371.5" width="7" height="3.9" fill="#fff" stroke="#1a1a1a" stroke-width="0.9" />
<line x1="115.5" y1="371.5" x2="115.5" y2="370.92" stroke="#1a1a1a" stroke-width="0.8" />
<line x1="113.9" y1="370.92" x2="117.1" y2="370.92" stroke="#1a1a1a" stroke-width="0.8" />
<rect x="120.5" y="368.5" width="7" height="6.9" fill="#fff" stroke="#1a1a1a" stroke-width="0.9" />
<line x1="123.5" y1="368.5" x2="123.5" y2="363.88" stroke="#1a1a1a" stroke-width="0.8" />
<line x1="121.9" y1="363.88" x2="125.1" y2="363.88" stroke="#1a1a1a" stroke-width="0.8" />
<line x1="123.5" y1="368.5" x2="123.5" y2="370.6" stroke="#1a1a1a" stroke-width="0.8" />
<line x1="121.9" y1="370.6" x2="125.1" y2="370.6" stroke="#1a1a1a" stroke-width="0.8" />
<rect x="128.5" y="361.5" width="7" height="13.9" fill="#fff" stroke="#1a1a1a" stroke-width="0.9" />
<line x1="131.5" y1="361.5" x2="131.5" y2="350.44" stroke="#1a1a1a" stroke-width="0.8" />
<line x1="129.9" y1="350.44" x2="133.1" y2="350.44" stroke="#1a1a1a" stroke-width="0.8" />
<line x1="131.5" y1="361.5" x2="131.5" y2="371.56" stroke="#1a1a1a" stroke-width="0.8" />
<line x1="129.9" y1="371.56" x2="133.1" y2="371.56" stroke="#1a1a1a" stroke-width="0.8" />
<rect x="136.5" y="372.5" width="7" height="2.9" fill="#fff" stroke="#1a1a1a" stroke-width="0.9" />
<rect x="144.5" y="372.5" width="7" height="2.9" fill="#fff" stroke="#1a1a1a" stroke-width="0.9" />
<rect x="152.5" y="372.5" width="7" height="2.9" fill="#fff" stroke="#1a1a1a" stroke-width="0.9" />
<rect x="159.5" y="372.5" width="7" height="2.9" fill="#fff" stroke="#1a1a1a" stroke-width="0.9" />
<rect x="167.5" y="372.5" width="7" height="2.9" fill="#fff" stroke="#1a1a1a" stroke-width="0.9" />
<rect x="175.5" y="368.5" width="7" height="6.9" fill="#fff" stroke="#1a1a1a" stroke-width="0.9" />
<line x1="178.5" y1="368.5" x2="178.5" y2="363.88" stroke="#1a1a1a" stroke-width="0.8" />
<line x1="176.9" y1="363.88" x2="180.1" y2="363.88" stroke="#1a1a1a" stroke-width="0.8" />
<line x1="178.5" y1="368.5" x2="178.5" y2="370.6" stroke="#1a1a1a" stroke-width="0.8" />
<line x1="176.9" y1="370.6" x2="180.1" y2="370.6" stroke="#1a1a1a" stroke-width="0.8" />
<path d="M183.5 375.4 V343.4 M190.5 375.4 V343.4 M183.5 338.3 V333.5 H190.5 V338.3" fill="none" stroke="#1a1a1a" stroke-width="0.9"/>
<line x1="186.5" y1="333.5" x2="186.5" y2="308.84" stroke="#1a1a1a" stroke-width="0.8" />
<line x1="184.9" y1="308.84" x2="188.1" y2="308.84" stroke="#1a1a1a" stroke-width="0.8" />
<line x1="186.5" y1="333.5" x2="186.5" y2="367.4" stroke="#1a1a1a" stroke-width="0.8" />
<line x1="184.9" y1="367.4" x2="188.1" y2="367.4" stroke="#1a1a1a" stroke-width="0.8" />
<rect x="191.5" y="367.5" width="7" height="7.9" fill="#fff" stroke="#1a1a1a" stroke-width="0.9" />
<line x1="194.5" y1="367.5" x2="194.5" y2="362.92" stroke="#1a1a1a" stroke-width="0.8" />
<line x1="192.9" y1="362.92" x2="196.1" y2="362.92" stroke="#1a1a1a" stroke-width="0.8" />
<line x1="194.5" y1="367.5" x2="194.5" y2="370.6" stroke="#1a1a1a" stroke-width="0.8" />
<line x1="192.9" y1="370.6" x2="196.1" y2="370.6" stroke="#1a1a1a" stroke-width="0.8" />
<rect x="199.5" y="372.5" width="7" height="2.9" fill="#fff" stroke="#1a1a1a" stroke-width="0.9" />
<rect x="207.5" y="372.5" width="7" height="2.9" fill="#fff" stroke="#1a1a1a" stroke-width="0.9" />
<rect x="215.5" y="372.5" width="7" height="2.9" fill="#fff" stroke="#1a1a1a" stroke-width="0.9" />
<rect x="223.5" y="372.5" width="7" height="2.9" fill="#fff" stroke="#1a1a1a" stroke-width="0.9" />
<rect x="231.5" y="373.5" width="7" height="1.9" fill="#fff" stroke="#1a1a1a" stroke-width="0.9" />
<rect x="239.5" y="372.5" width="7" height="2.9" fill="#fff" stroke="#1a1a1a" stroke-width="0.9" />
<circle cx="50.6" cy="372.22" r="1.35" fill="#a3192f"/>
<circle cx="52.6" cy="372.16" r="1.35" fill="#a3192f"/>
<circle cx="54.6" cy="372.28" r="1.35" fill="#a3192f"/>
<circle cx="58.52" cy="371.58" r="1.35" fill="#a3192f"/>
<circle cx="60.52" cy="371.51" r="1.35" fill="#a3192f"/>
<circle cx="62.52" cy="371.65" r="1.35" fill="#a3192f"/>
<circle cx="66.44" cy="372.22" r="1.35" fill="#a3192f"/>
<circle cx="68.44" cy="372.16" r="1.35" fill="#a3192f"/>
<circle cx="70.44" cy="372.28" r="1.35" fill="#a3192f"/>
<circle cx="74.36" cy="371.9" r="1.35" fill="#a3192f"/>
<circle cx="76.36" cy="371.84" r="1.35" fill="#a3192f"/>
<circle cx="78.36" cy="371.96" r="1.35" fill="#a3192f"/>
<circle cx="82.28" cy="371.9" r="1.35" fill="#a3192f"/>
<circle cx="84.28" cy="371.84" r="1.35" fill="#a3192f"/>
<circle cx="86.28" cy="371.96" r="1.35" fill="#a3192f"/>
<circle cx="90.2" cy="372.22" r="1.35" fill="#a3192f"/>
<circle cx="92.2" cy="372.16" r="1.35" fill="#a3192f"/>
<circle cx="94.2" cy="372.28" r="1.35" fill="#a3192f"/>
<circle cx="98.12" cy="371.58" r="1.35" fill="#a3192f"/>
<circle cx="100.12" cy="371.51" r="1.35" fill="#a3192f"/>
<circle cx="102.12" cy="371.65" r="1.35" fill="#a3192f"/>
<circle cx="106.04" cy="372.22" r="1.35" fill="#a3192f"/>
<circle cx="108.04" cy="372.16" r="1.35" fill="#a3192f"/>
<circle cx="110.04" cy="372.28" r="1.35" fill="#a3192f"/>
<circle cx="113.96" cy="369.66" r="1.35" fill="#a3192f"/>
<circle cx="115.96" cy="371.9" r="1.35" fill="#a3192f"/>
<circle cx="117.96" cy="372.22" r="1.35" fill="#a3192f"/>
<circle cx="122.28" cy="362.62" r="1.35" fill="#a3192f"/>
<circle cx="125.48" cy="369.98" r="1.35" fill="#a3192f"/>
<circle cx="123.88" cy="369.34" r="1.35" fill="#a3192f"/>
<circle cx="130.2" cy="350.3" r="1.35" fill="#a3192f"/>
<circle cx="133.4" cy="366.14" r="1.35" fill="#a3192f"/>
<circle cx="131.8" cy="370.94" r="1.35" fill="#a3192f"/>
<circle cx="137.72" cy="372.54" r="1.35" fill="#a3192f"/>
<circle cx="139.72" cy="372.49" r="1.35" fill="#a3192f"/>
<circle cx="141.72" cy="372.59" r="1.35" fill="#a3192f"/>
<circle cx="145.64" cy="372.22" r="1.35" fill="#a3192f"/>
<circle cx="147.64" cy="372.16" r="1.35" fill="#a3192f"/>
<circle cx="149.64" cy="372.28" r="1.35" fill="#a3192f"/>
<circle cx="153.56" cy="372.22" r="1.35" fill="#a3192f"/>
<circle cx="155.56" cy="372.16" r="1.35" fill="#a3192f"/>
<circle cx="157.56" cy="372.28" r="1.35" fill="#a3192f"/>
<circle cx="161.48" cy="372.22" r="1.35" fill="#a3192f"/>
<circle cx="163.48" cy="372.16" r="1.35" fill="#a3192f"/>
<circle cx="165.48" cy="372.28" r="1.35" fill="#a3192f"/>
<circle cx="169.4" cy="372.54" r="1.35" fill="#a3192f"/>
<circle cx="171.4" cy="372.49" r="1.35" fill="#a3192f"/>
<circle cx="173.4" cy="372.59" r="1.35" fill="#a3192f"/>
<circle cx="177.72" cy="364.22" r="1.35" fill="#a3192f"/>
<circle cx="180.92" cy="367.1" r="1.35" fill="#a3192f"/>
<circle cx="179.32" cy="370.3" r="1.35" fill="#a3192f"/>
<circle cx="185.64" cy="308.22" r="1.35" fill="#a3192f"/>
<circle cx="188.84" cy="337.52" r="1.35" fill="#a3192f"/>
<circle cx="187.24" cy="367.1" r="1.35" fill="#a3192f"/>
<circle cx="193.56" cy="363.58" r="1.35" fill="#a3192f"/>
<circle cx="196.76" cy="365.5" r="1.35" fill="#a3192f"/>
<circle cx="195.16" cy="369.34" r="1.35" fill="#a3192f"/>
<circle cx="201.08" cy="371.9" r="1.35" fill="#a3192f"/>
<circle cx="203.08" cy="371.84" r="1.35" fill="#a3192f"/>
<circle cx="205.08" cy="371.96" r="1.35" fill="#a3192f"/>
<circle cx="209" cy="372.22" r="1.35" fill="#a3192f"/>
<circle cx="211" cy="372.16" r="1.35" fill="#a3192f"/>
<circle cx="213" cy="372.28" r="1.35" fill="#a3192f"/>
<circle cx="216.92" cy="372.54" r="1.35" fill="#a3192f"/>
<circle cx="218.92" cy="372.49" r="1.35" fill="#a3192f"/>
<circle cx="220.92" cy="372.59" r="1.35" fill="#a3192f"/>
<circle cx="224.84" cy="372.54" r="1.35" fill="#a3192f"/>
<circle cx="226.84" cy="372.49" r="1.35" fill="#a3192f"/>
<circle cx="228.84" cy="372.59" r="1.35" fill="#a3192f"/>
<circle cx="232.76" cy="373.18" r="1.35" fill="#a3192f"/>
<circle cx="234.76" cy="373.14" r="1.35" fill="#a3192f"/>
<circle cx="236.76" cy="373.22" r="1.35" fill="#a3192f"/>
<circle cx="240.68" cy="372.54" r="1.35" fill="#a3192f"/>
<circle cx="242.68" cy="372.49" r="1.35" fill="#a3192f"/>
<circle cx="244.68" cy="372.59" r="1.35" fill="#a3192f"/>
<line x1="44.6" y1="375.9" x2="44.6" y2="343.4" stroke="#2a2a2a" stroke-width="1.1" />
<line x1="44.6" y1="338.3" x2="44.6" y2="303.6" stroke="#2a2a2a" stroke-width="1.1" />
<line x1="41.6" y1="338.3" x2="48" y2="338.3" stroke="#2a2a2a" stroke-width="1" />
<line x1="41.6" y1="343.4" x2="48" y2="343.4" stroke="#2a2a2a" stroke-width="1" />
<line x1="44.1" y1="375.4" x2="251.5" y2="375.4" stroke="#2a2a2a" stroke-width="1.1" />
<line x1="41.8" y1="375.4" x2="44.6" y2="375.4" stroke="#2a2a2a" stroke-width="0.9" />
<text x="39.2" y="377.8" font-size="7" fill="#2a2a2a" text-anchor="end" transform="translate(39.2 377.8) scale(0.8 1) translate(-39.2 -377.8)"  stroke="#2a2a2a" stroke-width="0.1">0</text>
<line x1="41.8" y1="369" x2="44.6" y2="369" stroke="#2a2a2a" stroke-width="0.9" />
<text x="39.2" y="371.4" font-size="7" fill="#2a2a2a" text-anchor="end" transform="translate(39.2 371.4) scale(0.8 1) translate(-39.2 -371.4)"  stroke="#2a2a2a" stroke-width="0.1">2</text>
<line x1="41.8" y1="362.6" x2="44.6" y2="362.6" stroke="#2a2a2a" stroke-width="0.9" />
<text x="39.2" y="365" font-size="7" fill="#2a2a2a" text-anchor="end" transform="translate(39.2 365) scale(0.8 1) translate(-39.2 -365)"  stroke="#2a2a2a" stroke-width="0.1">4</text>
<line x1="41.8" y1="356.2" x2="44.6" y2="356.2" stroke="#2a2a2a" stroke-width="0.9" />
<text x="39.2" y="358.6" font-size="7" fill="#2a2a2a" text-anchor="end" transform="translate(39.2 358.6) scale(0.8 1) translate(-39.2 -358.6)"  stroke="#2a2a2a" stroke-width="0.1">6</text>
<line x1="41.8" y1="349.8" x2="44.6" y2="349.8" stroke="#2a2a2a" stroke-width="0.9" />
<text x="39.2" y="352.2" font-size="7" fill="#2a2a2a" text-anchor="end" transform="translate(39.2 352.2) scale(0.8 1) translate(-39.2 -352.2)"  stroke="#2a2a2a" stroke-width="0.1">8</text>
<line x1="41.8" y1="343.4" x2="44.6" y2="343.4" stroke="#2a2a2a" stroke-width="0.9" />
<text x="38.8" y="343.4" font-size="5.8" fill="#2a2a2a" text-anchor="middle" transform="rotate(-90 38.8 343.4)"  stroke="#2a2a2a" stroke-width="0.06">10</text>
<line x1="41.8" y1="338.3" x2="44.6" y2="338.3" stroke="#2a2a2a" stroke-width="0.9" />
<text x="38.8" y="338.3" font-size="5.8" fill="#2a2a2a" text-anchor="middle" transform="rotate(-90 38.8 338.3)"  stroke="#2a2a2a" stroke-width="0.06">10</text>
<line x1="41.8" y1="322.2" x2="44.6" y2="322.2" stroke="#2a2a2a" stroke-width="0.9" />
<text x="39.2" y="324.6" font-size="7" fill="#2a2a2a" text-anchor="end" transform="translate(39.2 324.6) scale(0.8 1) translate(-39.2 -324.6)"  stroke="#2a2a2a" stroke-width="0.1">20</text>
<line x1="41.8" y1="306.1" x2="44.6" y2="306.1" stroke="#2a2a2a" stroke-width="0.9" />
<text x="39.2" y="308.5" font-size="7" fill="#2a2a2a" text-anchor="end" transform="translate(39.2 308.5) scale(0.8 1) translate(-39.2 -308.5)"  stroke="#2a2a2a" stroke-width="0.1">30</text>
<line x1="52.6" y1="375.4" x2="52.6" y2="378.4" stroke="#2a2a2a" stroke-width="0.9" />
<text x="55.4" y="384.2" font-size="5.5" fill="#222" text-anchor="end" transform="rotate(-45 55.4 384.2)"  textLength="7.42" lengthAdjust="spacingAndGlyphs" stroke="#222" stroke-width="0.25">3.1</text>
<line x1="60.52" y1="375.4" x2="60.52" y2="378.4" stroke="#2a2a2a" stroke-width="0.9" />
<text x="63.32" y="384.2" font-size="5.5" fill="#222" text-anchor="end" transform="rotate(-45 63.32 384.2)"  textLength="7.42" lengthAdjust="spacingAndGlyphs" stroke="#222" stroke-width="0.25">3.2</text>
<line x1="68.44" y1="375.4" x2="68.44" y2="378.4" stroke="#2a2a2a" stroke-width="0.9" />
<text x="71.24" y="384.2" font-size="5.5" fill="#222" text-anchor="end" transform="rotate(-45 71.24 384.2)"  textLength="7.42" lengthAdjust="spacingAndGlyphs" stroke="#222" stroke-width="0.25">4.1</text>
<line x1="76.36" y1="375.4" x2="76.36" y2="378.4" stroke="#2a2a2a" stroke-width="0.9" />
<text x="79.16" y="384.2" font-size="5.5" fill="#222" text-anchor="end" transform="rotate(-45 79.16 384.2)"  textLength="7.42" lengthAdjust="spacingAndGlyphs" stroke="#222" stroke-width="0.25">4.2</text>
<line x1="84.28" y1="375.4" x2="84.28" y2="378.4" stroke="#2a2a2a" stroke-width="0.9" />
<text x="87.08" y="384.2" font-size="5.5" fill="#222" text-anchor="end" transform="rotate(-45 87.08 384.2)"  textLength="7.42" lengthAdjust="spacingAndGlyphs" stroke="#222" stroke-width="0.25">4.3</text>
<line x1="92.2" y1="375.4" x2="92.2" y2="378.4" stroke="#2a2a2a" stroke-width="0.9" />
<text x="95" y="384.2" font-size="5.5" fill="#222" text-anchor="end" transform="rotate(-45 95 384.2)"  textLength="10.38" lengthAdjust="spacingAndGlyphs" stroke="#222" stroke-width="0.25">12.1</text>
<line x1="100.12" y1="375.4" x2="100.12" y2="378.4" stroke="#2a2a2a" stroke-width="0.9" />
<text x="102.92" y="384.2" font-size="5.5" fill="#222" text-anchor="end" transform="rotate(-45 102.92 384.2)"  textLength="10.38" lengthAdjust="spacingAndGlyphs" stroke="#222" stroke-width="0.25">12.2</text>
<line x1="108.04" y1="375.4" x2="108.04" y2="378.4" stroke="#2a2a2a" stroke-width="0.9" />
<text x="110.84" y="384.2" font-size="5.5" fill="#222" text-anchor="end" transform="rotate(-45 110.84 384.2)"  textLength="10.38" lengthAdjust="spacingAndGlyphs" stroke="#222" stroke-width="0.25">12.3</text>
<line x1="115.96" y1="375.4" x2="115.96" y2="378.4" stroke="#2a2a2a" stroke-width="0.9" />
<text x="118.76" y="384.2" font-size="5.5" fill="#222" text-anchor="end" transform="rotate(-45 118.76 384.2)"  textLength="10.38" lengthAdjust="spacingAndGlyphs" stroke="#222" stroke-width="0.25">12.4</text>
<line x1="123.88" y1="375.4" x2="123.88" y2="378.4" stroke="#2a2a2a" stroke-width="0.9" />
<text x="126.68" y="384.2" font-size="5.5" fill="#222" text-anchor="end" transform="rotate(-45 126.68 384.2)"  textLength="10.38" lengthAdjust="spacingAndGlyphs" stroke="#222" stroke-width="0.25">12.5</text>
<line x1="131.8" y1="375.4" x2="131.8" y2="378.4" stroke="#2a2a2a" stroke-width="0.9" />
<text x="134.6" y="384.2" font-size="5.5" fill="#222" text-anchor="end" transform="rotate(-45 134.6 384.2)"  textLength="10.38" lengthAdjust="spacingAndGlyphs" stroke="#222" stroke-width="0.25">20.1</text>
<line x1="139.72" y1="375.4" x2="139.72" y2="378.4" stroke="#2a2a2a" stroke-width="0.9" />
<text x="142.52" y="384.2" font-size="5.5" fill="#222" text-anchor="end" transform="rotate(-45 142.52 384.2)"  textLength="10.38" lengthAdjust="spacingAndGlyphs" stroke="#222" stroke-width="0.25">21.1</text>
<line x1="147.64" y1="375.4" x2="147.64" y2="378.4" stroke="#2a2a2a" stroke-width="0.9" />
<text x="150.44" y="384.2" font-size="5.5" fill="#222" text-anchor="end" transform="rotate(-45 150.44 384.2)"  textLength="10.38" lengthAdjust="spacingAndGlyphs" stroke="#222" stroke-width="0.25">22.1</text>
<line x1="155.56" y1="375.4" x2="155.56" y2="378.4" stroke="#2a2a2a" stroke-width="0.9" />
<text x="158.36" y="384.2" font-size="5.5" fill="#222" text-anchor="end" transform="rotate(-45 158.36 384.2)"  textLength="10.38" lengthAdjust="spacingAndGlyphs" stroke="#222" stroke-width="0.25">23.1</text>
<line x1="163.48" y1="375.4" x2="163.48" y2="378.4" stroke="#2a2a2a" stroke-width="0.9" />
<text x="166.28" y="384.2" font-size="5.5" fill="#222" text-anchor="end" transform="rotate(-45 166.28 384.2)"  textLength="10.38" lengthAdjust="spacingAndGlyphs" stroke="#222" stroke-width="0.25">24.1</text>
<line x1="171.4" y1="375.4" x2="171.4" y2="378.4" stroke="#2a2a2a" stroke-width="0.9" />
<text x="174.2" y="384.2" font-size="5.5" fill="#222" text-anchor="end" transform="rotate(-45 174.2 384.2)"  textLength="16.31" lengthAdjust="spacingAndGlyphs" stroke="#222" stroke-width="0.25">Renilla</text>
<line x1="179.32" y1="375.4" x2="179.32" y2="378.4" stroke="#2a2a2a" stroke-width="0.9" />
<text x="182.12" y="384.2" font-size="5.5" fill="#222" text-anchor="end" transform="rotate(-45 182.12 384.2)"  textLength="18.68" lengthAdjust="spacingAndGlyphs" stroke="#222" stroke-width="0.25">BRD4.2</text>
<line x1="187.24" y1="375.4" x2="187.24" y2="378.4" stroke="#2a2a2a" stroke-width="0.9" />
<text x="190.04" y="384.2" font-size="5.5" fill="#222" text-anchor="end" transform="rotate(-45 190.04 384.2)"  textLength="18.68" lengthAdjust="spacingAndGlyphs" stroke="#222" stroke-width="0.25">BRD4.4</text>
<line x1="195.16" y1="375.4" x2="195.16" y2="378.4" stroke="#2a2a2a" stroke-width="0.9" />
<text x="197.96" y="384.2" font-size="5.5" fill="#222" text-anchor="end" transform="rotate(-45 197.96 384.2)"  textLength="21.64" lengthAdjust="spacingAndGlyphs" stroke="#222" stroke-width="0.25">DOT1L.3</text>
<line x1="203.08" y1="375.4" x2="203.08" y2="378.4" stroke="#2a2a2a" stroke-width="0.9" />
<text x="205.88" y="384.2" font-size="5.5" fill="#222" text-anchor="end" transform="rotate(-45 205.88 384.2)"  textLength="21.64" lengthAdjust="spacingAndGlyphs" stroke="#222" stroke-width="0.25">DOT1L.4</text>
<line x1="211" y1="375.4" x2="211" y2="378.4" stroke="#2a2a2a" stroke-width="0.9" />
<text x="213.8" y="384.2" font-size="5.5" fill="#222" text-anchor="end" transform="rotate(-45 213.8 384.2)"  textLength="17.99" lengthAdjust="spacingAndGlyphs" stroke="#222" stroke-width="0.25">RPA3.1</text>
<line x1="218.92" y1="375.4" x2="218.92" y2="378.4" stroke="#2a2a2a" stroke-width="0.9" />
<text x="221.72" y="384.2" font-size="5.5" fill="#222" text-anchor="end" transform="rotate(-45 221.72 384.2)"  textLength="17.99" lengthAdjust="spacingAndGlyphs" stroke="#222" stroke-width="0.25">RPA3.4</text>
<line x1="226.84" y1="375.4" x2="226.84" y2="378.4" stroke="#2a2a2a" stroke-width="0.9" />
<text x="229.64" y="384.2" font-size="5.5" fill="#222" text-anchor="end" transform="rotate(-45 229.64 384.2)"  textLength="21.05" lengthAdjust="spacingAndGlyphs" stroke="#222" stroke-width="0.25">POLRA2</text>
<line x1="234.76" y1="375.4" x2="234.76" y2="378.4" stroke="#2a2a2a" stroke-width="0.9" />
<text x="237.56" y="384.2" font-size="5.5" fill="#222" text-anchor="end" transform="rotate(-45 237.56 384.2)"  textLength="21.05" lengthAdjust="spacingAndGlyphs" stroke="#222" stroke-width="0.25">POLRA4</text>
<line x1="242.68" y1="375.4" x2="242.68" y2="378.4" stroke="#2a2a2a" stroke-width="0.9" />
<text x="245.48" y="384.2" font-size="5.5" fill="#222" text-anchor="end" transform="rotate(-45 245.48 384.2)"  textLength="21.05" lengthAdjust="spacingAndGlyphs" stroke="#222" stroke-width="0.25">POLRA9</text>
<text x="122.5" y="312.6" font-size="5.6" fill="#222">MOLM13 NRAS<tspan font-size="3.6" dy="-2.6">G12V</tspan></text>
<text x="26.3" y="341.3" font-size="8.32" fill="#2a2a2a" text-anchor="middle" transform="rotate(-90 26.3 341.3)"  textLength="72.5" lengthAdjust="spacingAndGlyphs" stroke="#2a2a2a" stroke-width="0.1">Fold depletion D3/D28</text>
<rect x="46.65" y="463.31" width="3.9" height="20.39" fill="#fff" stroke="#b0283e" stroke-width="0.8" />
<line x1="48.6" y1="463.31" x2="48.6" y2="460.62" stroke="#b0283e" stroke-width="0.7" />
<line x1="47.4" y1="460.62" x2="49.8" y2="460.62" stroke="#b0283e" stroke-width="0.7" />
<line x1="48.6" y1="463.31" x2="48.6" y2="465.99" stroke="#b0283e" stroke-width="0.7" />
<circle cx="48.1" cy="460.62" r="1" fill="#b0283e"/>
<circle cx="48.6" cy="463.84" r="1" fill="#b0283e"/>
<circle cx="49.1" cy="464.38" r="1" fill="#b0283e"/>
<rect x="51.15" y="475.65" width="3.9" height="8.05" fill="#fff" stroke="#3b5d99" stroke-width="0.8" />
<line x1="53.1" y1="475.65" x2="53.1" y2="475.11" stroke="#3b5d99" stroke-width="0.7" />
<line x1="51.9" y1="475.11" x2="54.3" y2="475.11" stroke="#3b5d99" stroke-width="0.7" />
<circle cx="52.3" cy="475.38" r="1.1" fill="#3b5d99"/>
<circle cx="53.1" cy="475.92" r="1.1" fill="#3b5d99"/>
<circle cx="53.9" cy="475.65" r="1.1" fill="#3b5d99"/>
<rect x="55.65" y="476.19" width="3.9" height="7.51" fill="#fff" stroke="#5aab4a" stroke-width="0.8" />
<line x1="57.6" y1="476.19" x2="57.6" y2="474.58" stroke="#5aab4a" stroke-width="0.7" />
<line x1="56.4" y1="474.58" x2="58.8" y2="474.58" stroke="#5aab4a" stroke-width="0.7" />
<path d="M55.8 475.48 L57 473.38 L58.2 475.48 Z" fill="#5aab4a"/>
<path d="M56.4 477.09 L57.6 474.99 L58.8 477.09 Z" fill="#5aab4a"/>
<path d="M57 477.62 L58.2 475.52 L59.4 477.62 Z" fill="#5aab4a"/>
<rect x="61.37" y="458.48" width="3.9" height="25.22" fill="#fff" stroke="#b0283e" stroke-width="0.8" />
<line x1="63.32" y1="458.48" x2="63.32" y2="452.04" stroke="#b0283e" stroke-width="0.7" />
<line x1="62.12" y1="452.04" x2="64.52" y2="452.04" stroke="#b0283e" stroke-width="0.7" />
<line x1="63.32" y1="458.48" x2="63.32" y2="475.65" stroke="#b0283e" stroke-width="0.7" />
<circle cx="62.82" cy="469.21" r="1" fill="#b0283e"/>
<circle cx="63.32" cy="471.89" r="1" fill="#b0283e"/>
<circle cx="63.82" cy="458.48" r="1" fill="#b0283e"/>
<rect x="65.87" y="470.82" width="3.9" height="12.88" fill="#fff" stroke="#3b5d99" stroke-width="0.8" />
<line x1="67.82" y1="470.82" x2="67.82" y2="470.28" stroke="#3b5d99" stroke-width="0.7" />
<line x1="66.62" y1="470.28" x2="69.02" y2="470.28" stroke="#3b5d99" stroke-width="0.7" />
<circle cx="67.02" cy="470.28" r="1.1" fill="#3b5d99"/>
<circle cx="67.82" cy="471.36" r="1.1" fill="#3b5d99"/>
<circle cx="68.62" cy="471.89" r="1.1" fill="#3b5d99"/>
<rect x="70.37" y="476.19" width="3.9" height="7.51" fill="#fff" stroke="#5aab4a" stroke-width="0.8" />
<line x1="72.32" y1="476.19" x2="72.32" y2="474.58" stroke="#5aab4a" stroke-width="0.7" />
<line x1="71.12" y1="474.58" x2="73.52" y2="474.58" stroke="#5aab4a" stroke-width="0.7" />
<path d="M70.52 475.48 L71.72 473.38 L72.92 475.48 Z" fill="#5aab4a"/>
<path d="M71.12 477.62 L72.32 475.52 L73.52 477.62 Z" fill="#5aab4a"/>
<path d="M71.72 478.16 L72.92 476.06 L74.12 478.16 Z" fill="#5aab4a"/>
<rect x="76.09" y="470.82" width="3.9" height="12.88" fill="#fff" stroke="#b0283e" stroke-width="0.8" />
<line x1="78.04" y1="470.82" x2="78.04" y2="469.75" stroke="#b0283e" stroke-width="0.7" />
<line x1="76.84" y1="469.75" x2="79.24" y2="469.75" stroke="#b0283e" stroke-width="0.7" />
<circle cx="77.54" cy="469.75" r="1" fill="#b0283e"/>
<circle cx="78.04" cy="471.36" r="1" fill="#b0283e"/>
<circle cx="78.54" cy="471.89" r="1" fill="#b0283e"/>
<rect x="80.59" y="478.87" width="3.9" height="4.83" fill="#fff" stroke="#3b5d99" stroke-width="0.8" />
<line x1="82.54" y1="478.87" x2="82.54" y2="478.33" stroke="#3b5d99" stroke-width="0.7" />
<line x1="81.34" y1="478.33" x2="83.74" y2="478.33" stroke="#3b5d99" stroke-width="0.7" />
<circle cx="81.74" cy="478.6" r="1.1" fill="#3b5d99"/>
<circle cx="82.54" cy="479.14" r="1.1" fill="#3b5d99"/>
<circle cx="83.34" cy="478.87" r="1.1" fill="#3b5d99"/>
<rect x="85.09" y="479.57" width="3.9" height="4.13" fill="#fff" stroke="#5aab4a" stroke-width="0.8" />
<line x1="87.04" y1="479.57" x2="87.04" y2="479.14" stroke="#5aab4a" stroke-width="0.7" />
<line x1="85.84" y1="479.14" x2="88.24" y2="479.14" stroke="#5aab4a" stroke-width="0.7" />
<path d="M85.24 480.31 L86.44 478.21 L87.64 480.31 Z" fill="#5aab4a"/>
<path d="M85.84 480.57 L87.04 478.48 L88.24 480.57 Z" fill="#5aab4a"/>
<path d="M86.44 480.84 L87.64 478.74 L88.84 480.84 Z" fill="#5aab4a"/>
<rect x="90.81" y="455.26" width="3.9" height="28.44" fill="#fff" stroke="#b0283e" stroke-width="0.8" />
<line x1="92.76" y1="455.26" x2="92.76" y2="452.57" stroke="#b0283e" stroke-width="0.7" />
<line x1="91.56" y1="452.57" x2="93.96" y2="452.57" stroke="#b0283e" stroke-width="0.7" />
<line x1="92.76" y1="455.26" x2="92.76" y2="471.89" stroke="#b0283e" stroke-width="0.7" />
<circle cx="92.26" cy="453.11" r="1" fill="#b0283e"/>
<circle cx="92.76" cy="471.89" r="1" fill="#b0283e"/>
<circle cx="93.26" cy="455.26" r="1" fill="#b0283e"/>
<rect x="95.31" y="477.26" width="3.9" height="6.44" fill="#fff" stroke="#3b5d99" stroke-width="0.8" />
<line x1="97.26" y1="477.26" x2="97.26" y2="474.58" stroke="#3b5d99" stroke-width="0.7" />
<line x1="96.06" y1="474.58" x2="98.46" y2="474.58" stroke="#3b5d99" stroke-width="0.7" />
<circle cx="96.46" cy="474.58" r="1.1" fill="#3b5d99"/>
<circle cx="97.26" cy="477.8" r="1.1" fill="#3b5d99"/>
<circle cx="98.06" cy="478.33" r="1.1" fill="#3b5d99"/>
<rect x="99.81" y="477.26" width="3.9" height="6.44" fill="#fff" stroke="#5aab4a" stroke-width="0.8" />
<line x1="101.76" y1="477.26" x2="101.76" y2="476.72" stroke="#5aab4a" stroke-width="0.7" />
<line x1="100.56" y1="476.72" x2="102.96" y2="476.72" stroke="#5aab4a" stroke-width="0.7" />
<path d="M99.96 477.62 L101.16 475.52 L102.36 477.62 Z" fill="#5aab4a"/>
<path d="M100.56 478.16 L101.76 476.06 L102.96 478.16 Z" fill="#5aab4a"/>
<path d="M101.16 478.7 L102.36 476.6 L103.56 478.7 Z" fill="#5aab4a"/>
<path d="M105.53 483.7 V451.5 M109.43 483.7 V451.5 M105.53 446.4 V435.24 H109.43 V446.4" fill="none" stroke="#b0283e" stroke-width="0.8"/>
<line x1="107.48" y1="435.24" x2="107.48" y2="414.5" stroke="#b0283e" stroke-width="0.7" />
<line x1="106.28" y1="414.5" x2="108.68" y2="414.5" stroke="#b0283e" stroke-width="0.7" />
<line x1="107.48" y1="435.24" x2="107.48" y2="446.4" stroke="#b0283e" stroke-width="0.7" />
<circle cx="106.98" cy="438.74" r="1" fill="#b0283e"/>
<circle cx="107.48" cy="438.74" r="1" fill="#b0283e"/>
<circle cx="107.98" cy="438.74" r="1" fill="#b0283e"/>
<rect x="110.03" y="475.65" width="3.9" height="8.05" fill="#fff" stroke="#3b5d99" stroke-width="0.8" />
<line x1="111.98" y1="475.65" x2="111.98" y2="475.11" stroke="#3b5d99" stroke-width="0.7" />
<line x1="110.78" y1="475.11" x2="113.18" y2="475.11" stroke="#3b5d99" stroke-width="0.7" />
<circle cx="111.18" cy="475.65" r="1.1" fill="#3b5d99"/>
<circle cx="111.98" cy="476.19" r="1.1" fill="#3b5d99"/>
<circle cx="112.78" cy="476.72" r="1.1" fill="#3b5d99"/>
<rect x="114.53" y="474.9" width="3.9" height="8.8" fill="#fff" stroke="#5aab4a" stroke-width="0.8" />
<line x1="116.48" y1="474.9" x2="116.48" y2="471.89" stroke="#5aab4a" stroke-width="0.7" />
<line x1="115.28" y1="471.89" x2="117.68" y2="471.89" stroke="#5aab4a" stroke-width="0.7" />
<path d="M114.68 472.79 L115.88 470.69 L117.08 472.79 Z" fill="#5aab4a"/>
<path d="M115.28 474.94 L116.48 472.84 L117.68 474.94 Z" fill="#5aab4a"/>
<path d="M115.88 476.01 L117.08 473.91 L118.28 476.01 Z" fill="#5aab4a"/>
<rect x="120.25" y="458.48" width="3.9" height="25.22" fill="#fff" stroke="#b0283e" stroke-width="0.8" />
<line x1="122.2" y1="458.48" x2="122.2" y2="452.57" stroke="#b0283e" stroke-width="0.7" />
<line x1="121" y1="452.57" x2="123.4" y2="452.57" stroke="#b0283e" stroke-width="0.7" />
<line x1="122.2" y1="458.48" x2="122.2" y2="463.31" stroke="#b0283e" stroke-width="0.7" />
<circle cx="121.7" cy="458.48" r="1" fill="#b0283e"/>
<circle cx="122.2" cy="462.23" r="1" fill="#b0283e"/>
<circle cx="122.7" cy="458.48" r="1" fill="#b0283e"/>
<rect x="124.75" y="475.65" width="3.9" height="8.05" fill="#fff" stroke="#3b5d99" stroke-width="0.8" />
<line x1="126.7" y1="475.65" x2="126.7" y2="475.11" stroke="#3b5d99" stroke-width="0.7" />
<line x1="125.5" y1="475.11" x2="127.9" y2="475.11" stroke="#3b5d99" stroke-width="0.7" />
<circle cx="125.9" cy="475.11" r="1.1" fill="#3b5d99"/>
<circle cx="126.7" cy="476.19" r="1.1" fill="#3b5d99"/>
<circle cx="127.5" cy="476.72" r="1.1" fill="#3b5d99"/>
<rect x="129.25" y="477.8" width="3.9" height="5.9" fill="#fff" stroke="#5aab4a" stroke-width="0.8" />
<line x1="131.2" y1="477.8" x2="131.2" y2="477.26" stroke="#5aab4a" stroke-width="0.7" />
<line x1="130" y1="477.26" x2="132.4" y2="477.26" stroke="#5aab4a" stroke-width="0.7" />
<path d="M129.4 478.7 L130.6 476.6 L131.8 478.7 Z" fill="#5aab4a"/>
<path d="M130 479.23 L131.2 477.13 L132.4 479.23 Z" fill="#5aab4a"/>
<path d="M130.6 479.23 L131.8 477.13 L133 479.23 Z" fill="#5aab4a"/>
<rect x="134.97" y="451.5" width="3.9" height="32.2" fill="#fff" stroke="#b0283e" stroke-width="0.8" />
<line x1="136.92" y1="446.4" x2="136.92" y2="437.47" stroke="#b0283e" stroke-width="0.7" />
<line x1="135.72" y1="437.47" x2="138.12" y2="437.47" stroke="#b0283e" stroke-width="0.7" />
<line x1="136.92" y1="451.5" x2="136.92" y2="475.11" stroke="#b0283e" stroke-width="0.7" />
<circle cx="136.42" cy="437.47" r="1" fill="#b0283e"/>
<circle cx="136.92" cy="454.18" r="1" fill="#b0283e"/>
<circle cx="137.42" cy="475.11" r="1" fill="#b0283e"/>
<rect x="139.47" y="470.28" width="3.9" height="13.42" fill="#fff" stroke="#3b5d99" stroke-width="0.8" />
<line x1="141.42" y1="470.28" x2="141.42" y2="469.21" stroke="#3b5d99" stroke-width="0.7" />
<line x1="140.22" y1="469.21" x2="142.62" y2="469.21" stroke="#3b5d99" stroke-width="0.7" />
<circle cx="140.62" cy="469.21" r="1.1" fill="#3b5d99"/>
<circle cx="141.42" cy="470.82" r="1.1" fill="#3b5d99"/>
<circle cx="142.22" cy="472.43" r="1.1" fill="#3b5d99"/>
<rect x="143.97" y="474.04" width="3.9" height="9.66" fill="#fff" stroke="#5aab4a" stroke-width="0.8" />
<line x1="145.92" y1="474.04" x2="145.92" y2="470.28" stroke="#5aab4a" stroke-width="0.7" />
<line x1="144.72" y1="470.28" x2="147.12" y2="470.28" stroke="#5aab4a" stroke-width="0.7" />
<path d="M144.12 471.18 L145.32 469.08 L146.52 471.18 Z" fill="#5aab4a"/>
<path d="M144.72 475.48 L145.92 473.38 L147.12 475.48 Z" fill="#5aab4a"/>
<path d="M145.32 476.55 L146.52 474.45 L147.72 476.55 Z" fill="#5aab4a"/>
<rect x="149.69" y="451.5" width="3.9" height="32.2" fill="#e2b3ba" stroke="#b0283e" stroke-width="0.8" />
<circle cx="151.64" cy="443.53" r="1" fill="#b0283e"/>
<circle cx="151.64" cy="444.49" r="1" fill="#b0283e"/>
<circle cx="151.64" cy="462.23" r="1" fill="#b0283e"/>
<circle cx="151.64" cy="469.75" r="1" fill="#b0283e"/>
<rect x="154.19" y="475.11" width="3.9" height="8.59" fill="#fff" stroke="#3b5d99" stroke-width="0.8" />
<line x1="156.14" y1="475.11" x2="156.14" y2="469.75" stroke="#3b5d99" stroke-width="0.7" />
<line x1="154.94" y1="469.75" x2="157.34" y2="469.75" stroke="#3b5d99" stroke-width="0.7" />
<circle cx="155.34" cy="469.75" r="1.1" fill="#3b5d99"/>
<circle cx="156.14" cy="475.11" r="1.1" fill="#3b5d99"/>
<circle cx="156.94" cy="476.19" r="1.1" fill="#3b5d99"/>
<rect x="158.69" y="473.5" width="3.9" height="10.2" fill="#fff" stroke="#5aab4a" stroke-width="0.8" />
<line x1="160.64" y1="473.5" x2="160.64" y2="461.16" stroke="#5aab4a" stroke-width="0.7" />
<line x1="159.44" y1="461.16" x2="161.84" y2="461.16" stroke="#5aab4a" stroke-width="0.7" />
<path d="M158.84 462.06 L160.04 459.96 L161.24 462.06 Z" fill="#5aab4a"/>
<path d="M159.44 474.94 L160.64 472.84 L161.84 474.94 Z" fill="#5aab4a"/>
<path d="M160.04 479.23 L161.24 477.13 L162.44 479.23 Z" fill="#5aab4a"/>
<rect x="164.41" y="472.16" width="3.9" height="11.54" fill="#fff" stroke="#b0283e" stroke-width="0.8" />
<line x1="166.36" y1="472.16" x2="166.36" y2="467.6" stroke="#b0283e" stroke-width="0.7" />
<line x1="165.16" y1="467.6" x2="167.56" y2="467.6" stroke="#b0283e" stroke-width="0.7" />
<circle cx="165.86" cy="467.6" r="1" fill="#b0283e"/>
<circle cx="166.36" cy="472.97" r="1" fill="#b0283e"/>
<circle cx="166.86" cy="474.04" r="1" fill="#b0283e"/>
<rect x="168.91" y="479.57" width="3.9" height="4.13" fill="#fff" stroke="#3b5d99" stroke-width="0.8" />
<line x1="170.86" y1="479.57" x2="170.86" y2="478.87" stroke="#3b5d99" stroke-width="0.7" />
<line x1="169.66" y1="478.87" x2="172.06" y2="478.87" stroke="#3b5d99" stroke-width="0.7" />
<circle cx="170.06" cy="478.87" r="1.1" fill="#3b5d99"/>
<circle cx="170.86" cy="479.41" r="1.1" fill="#3b5d99"/>
<circle cx="171.66" cy="479.94" r="1.1" fill="#3b5d99"/>
<rect x="173.41" y="481.02" width="3.9" height="2.68" fill="#fff" stroke="#5aab4a" stroke-width="0.8" />
<line x1="175.36" y1="481.02" x2="175.36" y2="480.48" stroke="#5aab4a" stroke-width="0.7" />
<line x1="174.16" y1="480.48" x2="176.56" y2="480.48" stroke="#5aab4a" stroke-width="0.7" />
<path d="M173.56 481.92 L174.76 479.82 L175.96 481.92 Z" fill="#5aab4a"/>
<path d="M174.16 481.92 L175.36 479.82 L176.56 481.92 Z" fill="#5aab4a"/>
<path d="M174.76 481.92 L175.96 479.82 L177.16 481.92 Z" fill="#5aab4a"/>
<rect x="179.13" y="456.33" width="3.9" height="27.37" fill="#fff" stroke="#b0283e" stroke-width="0.8" />
<line x1="181.08" y1="456.33" x2="181.08" y2="453.11" stroke="#b0283e" stroke-width="0.7" />
<line x1="179.88" y1="453.11" x2="182.28" y2="453.11" stroke="#b0283e" stroke-width="0.7" />
<circle cx="180.58" cy="453.65" r="1" fill="#b0283e"/>
<circle cx="181.08" cy="456.87" r="1" fill="#b0283e"/>
<circle cx="181.58" cy="457.94" r="1" fill="#b0283e"/>
<rect x="183.63" y="478.33" width="3.9" height="5.37" fill="#fff" stroke="#3b5d99" stroke-width="0.8" />
<line x1="185.58" y1="478.33" x2="185.58" y2="477.8" stroke="#3b5d99" stroke-width="0.7" />
<line x1="184.38" y1="477.8" x2="186.78" y2="477.8" stroke="#3b5d99" stroke-width="0.7" />
<circle cx="184.78" cy="477.8" r="1.1" fill="#3b5d99"/>
<circle cx="185.58" cy="478.87" r="1.1" fill="#3b5d99"/>
<circle cx="186.38" cy="478.33" r="1.1" fill="#3b5d99"/>
<rect x="188.13" y="479.41" width="3.9" height="4.29" fill="#fff" stroke="#5aab4a" stroke-width="0.8" />
<line x1="190.08" y1="479.41" x2="190.08" y2="475.11" stroke="#5aab4a" stroke-width="0.7" />
<line x1="188.88" y1="475.11" x2="191.28" y2="475.11" stroke="#5aab4a" stroke-width="0.7" />
<path d="M188.28 476.01 L189.48 473.91 L190.68 476.01 Z" fill="#5aab4a"/>
<path d="M188.88 480.31 L190.08 478.21 L191.28 480.31 Z" fill="#5aab4a"/>
<path d="M189.48 480.84 L190.68 478.74 L191.88 480.84 Z" fill="#5aab4a"/>
<rect x="193.85" y="472.16" width="3.9" height="11.54" fill="#fff" stroke="#b0283e" stroke-width="0.8" />
<line x1="195.8" y1="472.16" x2="195.8" y2="469.75" stroke="#b0283e" stroke-width="0.7" />
<line x1="194.6" y1="469.75" x2="197" y2="469.75" stroke="#b0283e" stroke-width="0.7" />
<circle cx="195.3" cy="469.75" r="1" fill="#b0283e"/>
<circle cx="195.8" cy="471.36" r="1" fill="#b0283e"/>
<circle cx="196.3" cy="474.04" r="1" fill="#b0283e"/>
<path d="M198.35 483.7 V451.5 M202.25 483.7 V451.5 M198.35 446.4 V444.49 H202.25 V446.4" fill="none" stroke="#3b5d99" stroke-width="0.8"/>
<line x1="200.3" y1="444.49" x2="200.3" y2="424.07" stroke="#3b5d99" stroke-width="0.7" />
<line x1="199.1" y1="424.07" x2="201.5" y2="424.07" stroke="#3b5d99" stroke-width="0.7" />
<line x1="200.3" y1="444.49" x2="200.3" y2="446.4" stroke="#3b5d99" stroke-width="0.7" />
<line x1="198.35" y1="451.5" x2="202.25" y2="451.5" stroke="#3b5d99" stroke-width="0.8" />
<circle cx="199.5" cy="424.07" r="1.1" fill="#3b5d99"/>
<circle cx="200.3" cy="424.07" r="1.1" fill="#3b5d99"/>
<circle cx="201.1" cy="424.07" r="1.1" fill="#3b5d99"/>
<rect x="202.85" y="469.21" width="3.9" height="14.49" fill="#fff" stroke="#5aab4a" stroke-width="0.8" />
<line x1="204.8" y1="469.21" x2="204.8" y2="461.16" stroke="#5aab4a" stroke-width="0.7" />
<line x1="203.6" y1="461.16" x2="206" y2="461.16" stroke="#5aab4a" stroke-width="0.7" />
<line x1="204.8" y1="469.21" x2="204.8" y2="476.19" stroke="#5aab4a" stroke-width="0.7" />
<path d="M203 462.06 L204.2 459.96 L205.4 462.06 Z" fill="#5aab4a"/>
<path d="M203.6 470.11 L204.8 468.01 L206 470.11 Z" fill="#5aab4a"/>
<path d="M204.2 477.09 L205.4 474.99 L206.6 477.09 Z" fill="#5aab4a"/>
<rect x="208.57" y="476.29" width="3.9" height="7.41" fill="#fff" stroke="#b0283e" stroke-width="0.8" />
<line x1="210.52" y1="476.29" x2="210.52" y2="476.19" stroke="#b0283e" stroke-width="0.7" />
<line x1="209.32" y1="476.19" x2="211.72" y2="476.19" stroke="#b0283e" stroke-width="0.7" />
<circle cx="210.02" cy="476.19" r="1" fill="#b0283e"/>
<circle cx="210.52" cy="476.72" r="1" fill="#b0283e"/>
<circle cx="211.02" cy="476.72" r="1" fill="#b0283e"/>
<rect x="213.07" y="476.88" width="3.9" height="6.82" fill="#fff" stroke="#3b5d99" stroke-width="0.8" />
<line x1="215.02" y1="476.88" x2="215.02" y2="476.72" stroke="#3b5d99" stroke-width="0.7" />
<line x1="213.82" y1="476.72" x2="216.22" y2="476.72" stroke="#3b5d99" stroke-width="0.7" />
<circle cx="214.22" cy="476.72" r="1.1" fill="#3b5d99"/>
<circle cx="215.02" cy="477.26" r="1.1" fill="#3b5d99"/>
<circle cx="215.82" cy="477.26" r="1.1" fill="#3b5d99"/>
<rect x="217.57" y="477.96" width="3.9" height="5.74" fill="#fff" stroke="#5aab4a" stroke-width="0.8" />
<line x1="219.52" y1="477.96" x2="219.52" y2="475.11" stroke="#5aab4a" stroke-width="0.7" />
<line x1="218.32" y1="475.11" x2="220.72" y2="475.11" stroke="#5aab4a" stroke-width="0.7" />
<path d="M217.72 476.01 L218.92 473.91 L220.12 476.01 Z" fill="#5aab4a"/>
<path d="M218.32 479.23 L219.52 477.13 L220.72 479.23 Z" fill="#5aab4a"/>
<path d="M218.92 479.77 L220.12 477.67 L221.32 479.77 Z" fill="#5aab4a"/>
<rect x="223.29" y="474.58" width="3.9" height="9.12" fill="#fff" stroke="#b0283e" stroke-width="0.8" />
<line x1="225.24" y1="474.58" x2="225.24" y2="471.62" stroke="#b0283e" stroke-width="0.7" />
<line x1="224.04" y1="471.62" x2="226.44" y2="471.62" stroke="#b0283e" stroke-width="0.7" />
<circle cx="224.74" cy="471.62" r="1" fill="#b0283e"/>
<circle cx="225.24" cy="475.11" r="1" fill="#b0283e"/>
<circle cx="225.74" cy="476.19" r="1" fill="#b0283e"/>
<rect x="227.79" y="477.26" width="3.9" height="6.44" fill="#fff" stroke="#3b5d99" stroke-width="0.8" />
<line x1="229.74" y1="477.26" x2="229.74" y2="476.72" stroke="#3b5d99" stroke-width="0.7" />
<line x1="228.54" y1="476.72" x2="230.94" y2="476.72" stroke="#3b5d99" stroke-width="0.7" />
<circle cx="228.94" cy="476.72" r="1.1" fill="#3b5d99"/>
<circle cx="229.74" cy="477.26" r="1.1" fill="#3b5d99"/>
<circle cx="230.54" cy="477.8" r="1.1" fill="#3b5d99"/>
<rect x="232.29" y="479.68" width="3.9" height="4.02" fill="#fff" stroke="#5aab4a" stroke-width="0.8" />
<line x1="234.24" y1="479.68" x2="234.24" y2="479.41" stroke="#5aab4a" stroke-width="0.7" />
<line x1="233.04" y1="479.41" x2="235.44" y2="479.41" stroke="#5aab4a" stroke-width="0.7" />
<path d="M232.44 480.31 L233.64 478.21 L234.84 480.31 Z" fill="#5aab4a"/>
<path d="M233.04 480.84 L234.24 478.74 L235.44 480.84 Z" fill="#5aab4a"/>
<path d="M233.64 480.84 L234.84 478.74 L236.04 480.84 Z" fill="#5aab4a"/>
<rect x="238.01" y="482.89" width="3.9" height="0.81" fill="#fff" stroke="#b0283e" stroke-width="0.8" />
<circle cx="239.46" cy="482.89" r="1" fill="#b0283e"/>
<circle cx="239.96" cy="482.89" r="1" fill="#b0283e"/>
<circle cx="240.46" cy="482.89" r="1" fill="#b0283e"/>
<rect x="242.51" y="482.89" width="3.9" height="0.81" fill="#fff" stroke="#3b5d99" stroke-width="0.8" />
<circle cx="243.66" cy="482.89" r="1.1" fill="#3b5d99"/>
<circle cx="244.46" cy="482.89" r="1.1" fill="#3b5d99"/>
<circle cx="245.26" cy="482.89" r="1.1" fill="#3b5d99"/>
<rect x="247.01" y="482.89" width="3.9" height="0.81" fill="#fff" stroke="#5aab4a" stroke-width="0.8" />
<path d="M247.16 483.79 L248.36 481.69 L249.56 483.79 Z" fill="#5aab4a"/>
<path d="M247.76 483.79 L248.96 481.69 L250.16 483.79 Z" fill="#5aab4a"/>
<path d="M248.36 483.79 L249.56 481.69 L250.76 483.79 Z" fill="#5aab4a"/>
<line x1="44.6" y1="484.2" x2="44.6" y2="451.5" stroke="#2a2a2a" stroke-width="1.1" />
<line x1="44.6" y1="446.4" x2="44.6" y2="411.8" stroke="#2a2a2a" stroke-width="1.1" />
<line x1="41.6" y1="451.5" x2="48" y2="451.5" stroke="#2a2a2a" stroke-width="1" />
<line x1="41.6" y1="446.4" x2="48" y2="446.4" stroke="#2a2a2a" stroke-width="1" />
<line x1="44.1" y1="483.7" x2="253.3" y2="483.7" stroke="#2a2a2a" stroke-width="1.1" />
<line x1="41.8" y1="483.7" x2="44.6" y2="483.7" stroke="#2a2a2a" stroke-width="0.9" />
<text x="39.4" y="486.1" font-size="7" fill="#2a2a2a" text-anchor="end" transform="translate(39.4 486.1) scale(0.8 1) translate(-39.4 -486.1)"  stroke="#2a2a2a" stroke-width="0.1">0</text>
<line x1="41.8" y1="472.97" x2="44.6" y2="472.97" stroke="#2a2a2a" stroke-width="0.9" />
<text x="39.4" y="475.37" font-size="7" fill="#2a2a2a" text-anchor="end" transform="translate(39.4 475.37) scale(0.8 1) translate(-39.4 -475.37)"  stroke="#2a2a2a" stroke-width="0.1">20</text>
<line x1="41.8" y1="462.23" x2="44.6" y2="462.23" stroke="#2a2a2a" stroke-width="0.9" />
<text x="39.4" y="464.63" font-size="7" fill="#2a2a2a" text-anchor="end" transform="translate(39.4 464.63) scale(0.8 1) translate(-39.4 -464.63)"  stroke="#2a2a2a" stroke-width="0.1">40</text>
<line x1="41.8" y1="451.5" x2="44.6" y2="451.5" stroke="#2a2a2a" stroke-width="0.9" />
<text x="39.4" y="453.9" font-size="7" fill="#2a2a2a" text-anchor="end" transform="translate(39.4 453.9) scale(0.8 1) translate(-39.4 -453.9)"  stroke="#2a2a2a" stroke-width="0.1">60</text>
<line x1="41.8" y1="446.4" x2="44.6" y2="446.4" stroke="#2a2a2a" stroke-width="0.9" />
<text x="39.4" y="448.8" font-size="7" fill="#2a2a2a" text-anchor="end" transform="translate(39.4 448.8) scale(0.8 1) translate(-39.4 -448.8)"  stroke="#2a2a2a" stroke-width="0.1">100</text>
<line x1="41.8" y1="430.45" x2="44.6" y2="430.45" stroke="#2a2a2a" stroke-width="0.9" />
<text x="39.4" y="432.85" font-size="7" fill="#2a2a2a" text-anchor="end" transform="translate(39.4 432.85) scale(0.8 1) translate(-39.4 -432.85)"  stroke="#2a2a2a" stroke-width="0.1">150</text>
<line x1="41.8" y1="414.5" x2="44.6" y2="414.5" stroke="#2a2a2a" stroke-width="0.9" />
<text x="39.4" y="416.9" font-size="7" fill="#2a2a2a" text-anchor="end" transform="translate(39.4 416.9) scale(0.8 1) translate(-39.4 -416.9)"  stroke="#2a2a2a" stroke-width="0.1">200</text>
<line x1="53.1" y1="483.7" x2="53.1" y2="486.2" stroke="#2a2a2a" stroke-width="0.9" />
<text x="56.4" y="491.8" font-size="5.7" fill="#222" text-anchor="end" transform="rotate(-45 56.4 491.8)"  stroke="#222" stroke-width="0.06">e12.1</text>
<line x1="67.82" y1="483.7" x2="67.82" y2="486.2" stroke="#2a2a2a" stroke-width="0.9" />
<text x="71.12" y="491.8" font-size="5.7" fill="#222" text-anchor="end" transform="rotate(-45 71.12 491.8)"  stroke="#222" stroke-width="0.06">e12.2</text>
<line x1="82.54" y1="483.7" x2="82.54" y2="486.2" stroke="#2a2a2a" stroke-width="0.9" />
<text x="85.84" y="491.8" font-size="5.7" fill="#222" text-anchor="end" transform="rotate(-45 85.84 491.8)"  stroke="#222" stroke-width="0.06">e12.3</text>
<line x1="97.26" y1="483.7" x2="97.26" y2="486.2" stroke="#2a2a2a" stroke-width="0.9" />
<text x="100.56" y="491.8" font-size="5.7" fill="#222" text-anchor="end" transform="rotate(-45 100.56 491.8)"  stroke="#222" stroke-width="0.06">e12.4</text>
<line x1="111.98" y1="483.7" x2="111.98" y2="486.2" stroke="#2a2a2a" stroke-width="0.9" />
<text x="115.28" y="491.8" font-size="5.7" fill="#222" text-anchor="end" transform="rotate(-45 115.28 491.8)"  stroke="#222" stroke-width="0.06">e12.5</text>
<line x1="126.7" y1="483.7" x2="126.7" y2="486.2" stroke="#2a2a2a" stroke-width="0.9" />
<text x="130" y="491.8" font-size="5.7" fill="#222" text-anchor="end" transform="rotate(-45 130 491.8)"  stroke="#222" stroke-width="0.06">e20.1</text>
<line x1="141.42" y1="483.7" x2="141.42" y2="486.2" stroke="#2a2a2a" stroke-width="0.9" />
<text x="144.72" y="491.8" font-size="5.7" fill="#222" text-anchor="end" transform="rotate(-45 144.72 491.8)"  stroke="#222" stroke-width="0.06">e21.1</text>
<line x1="156.14" y1="483.7" x2="156.14" y2="486.2" stroke="#2a2a2a" stroke-width="0.9" />
<text x="159.44" y="491.8" font-size="5.7" fill="#222" text-anchor="end" transform="rotate(-45 159.44 491.8)"  stroke="#222" stroke-width="0.06">e22.1</text>
<line x1="170.86" y1="483.7" x2="170.86" y2="486.2" stroke="#2a2a2a" stroke-width="0.9" />
<text x="174.16" y="491.8" font-size="5.7" fill="#222" text-anchor="end" transform="rotate(-45 174.16 491.8)"  stroke="#222" stroke-width="0.06">e23.1</text>
<line x1="185.58" y1="483.7" x2="185.58" y2="486.2" stroke="#2a2a2a" stroke-width="0.9" />
<text x="188.88" y="491.8" font-size="5.7" fill="#222" text-anchor="end" transform="rotate(-45 188.88 491.8)"  stroke="#222" stroke-width="0.06">e23.2</text>
<line x1="200.3" y1="483.7" x2="200.3" y2="486.2" stroke="#2a2a2a" stroke-width="0.9" />
<text x="203.6" y="491.8" font-size="5.7" fill="#222" text-anchor="end" transform="rotate(-45 203.6 491.8)"  stroke="#222" stroke-width="0.06">Rpa1.1</text>
<line x1="215.02" y1="483.7" x2="215.02" y2="486.2" stroke="#2a2a2a" stroke-width="0.9" />
<text x="218.32" y="491.8" font-size="5.7" fill="#222" text-anchor="end" transform="rotate(-45 218.32 491.8)"  stroke="#222" stroke-width="0.06">Rpa1.2</text>
<line x1="229.74" y1="483.7" x2="229.74" y2="486.2" stroke="#2a2a2a" stroke-width="0.9" />
<text x="233.04" y="491.8" font-size="5.7" fill="#222" text-anchor="end" transform="rotate(-45 233.04 491.8)"  stroke="#222" stroke-width="0.06">Rpa1.3</text>
<line x1="244.46" y1="483.7" x2="244.46" y2="486.2" stroke="#2a2a2a" stroke-width="0.9" />
<text x="247.76" y="491.8" font-size="5.7" fill="#222" text-anchor="end" transform="rotate(-45 247.76 491.8)"  stroke="#222" stroke-width="0.06">Renilla</text>
<text x="23.2" y="447.4" font-size="9" fill="#2a2a2a" text-anchor="middle" transform="rotate(-90 23.2 447.4)"  textLength="78" lengthAdjust="spacingAndGlyphs" stroke="#2a2a2a" stroke-width="0.1">Fold depletion D3/D14</text>
<rect x="208" y="416.1" width="2.1" height="2.1" fill="#b0283e" />
<text x="212.1" y="419" font-size="4.85" fill="#222" text-anchor="start"  stroke="#222" stroke-width="0.04"><tspan font-style="italic">mouse</tspan> MLL-AF9</text>
<rect x="208" y="424.9" width="2.1" height="2.1" fill="#3b5d99" />
<text x="212.1" y="427.8" font-size="4.85" fill="#222" text-anchor="start"  stroke="#222" stroke-width="0.04">NRAS<tspan font-size="3.2" dy="-2.4">G12V</tspan></text>
<rect x="208" y="433.7" width="2.1" height="2.1" fill="#5aab4a" />
<text x="212.1" y="436.6" font-size="4.85" fill="#222" text-anchor="start"  stroke="#222" stroke-width="0.04">KRAS<tspan font-size="3.2" dy="-2.4">G12D</tspan></text>
<text x="7" y="532.8" font-size="10.6" fill="#111" text-anchor="start"  stroke="#111" stroke-width="0.1">E</text>
<defs><filter id="bl" x="-20%" y="-50%" width="140%" height="200%"><feGaussianBlur stdDeviation="0.6"/></filter></defs>
<rect x="91.4" y="559" width="61.6" height="12.8" fill="#cfcfcf" />
<rect x="91.4" y="576.3" width="61.6" height="11.7" fill="#d2d2d2" />
<ellipse cx="97.05" cy="569.1" rx="2.35" ry="0.8" fill="#b9b9b9" filter="url(#bl)"/>
<ellipse cx="107" cy="568.5" rx="2.8" ry="0.9" fill="#3a3a3a" filter="url(#bl)"/>
<ellipse cx="116.4" cy="568.2" rx="1.5" ry="0.8" fill="#b0b0b0" filter="url(#bl)"/>
<ellipse cx="126.75" cy="563.4" rx="4.25" ry="1.9" fill="#111" filter="url(#bl)"/>
<ellipse cx="126.75" cy="567.4" rx="3.75" ry="0.9" fill="#7a7a7a" filter="url(#bl)"/>
<ellipse cx="139.15" cy="567.8" rx="3.35" ry="1" fill="#a8a8a8" filter="url(#bl)"/>
<ellipse cx="148.55" cy="563.7" rx="3.35" ry="1.2" fill="#1a1a1a" filter="url(#bl)"/>
<ellipse cx="148.55" cy="567.1" rx="3.35" ry="1" fill="#505050" filter="url(#bl)"/>
<ellipse cx="96.05" cy="583.5" rx="4.05" ry="0.9" fill="#222" filter="url(#bl)"/>
<ellipse cx="105.8" cy="582.9" rx="3.7" ry="0.9" fill="#222" filter="url(#bl)"/>
<ellipse cx="115.35" cy="581.9" rx="3.35" ry="0.9" fill="#2a2a2a" filter="url(#bl)"/>
<ellipse cx="125" cy="582" rx="4" ry="0.9" fill="#333" filter="url(#bl)"/>
<ellipse cx="137.8" cy="580.9" rx="3.4" ry="0.65" fill="#6a6a6a" filter="url(#bl)"/>
<ellipse cx="147.6" cy="579.9" rx="3.7" ry="1" fill="#111" filter="url(#bl)"/>
<line x1="93.4" y1="591.1" x2="127" y2="591.1" stroke="#2a2a2a" stroke-width="1.1" />
<line x1="135.1" y1="591.1" x2="151.3" y2="591.1" stroke="#2a2a2a" stroke-width="1.1" />
<text x="83.8" y="598.9" font-size="5.6" fill="#222" text-anchor="start"  stroke="#222" stroke-width="0.06"><tspan font-style="italic">mouse</tspan> MLL-AF9</text>
<text x="136.2" y="598.9" font-size="5.7" fill="#222" text-anchor="start"  stroke="#222" stroke-width="0.06">MOLM13</text>
<text x="156" y="568.6" font-size="6.2" fill="#222" text-anchor="start"  stroke="#222" stroke-width="0.06">anti-RAS</text>
<text x="156" y="583.8" font-size="5.8" fill="#222" text-anchor="start"  stroke="#222" stroke-width="0.06">Histone H3</text>
<text x="97.2" y="556.2" font-size="5.8" fill="#222" text-anchor="start" transform="rotate(-56 97.2 556.2)"  stroke="#222" stroke-width="0.06">Parental</text>
<text x="108.8" y="556.2" font-size="5.8" fill="#222" text-anchor="start" transform="rotate(-56 108.8 556.2)"  stroke="#222" stroke-width="0.06">KRAS<tspan font-size="3.4" dy="-2.4">G12D</tspan></text>
<text x="118.6" y="556.2" font-size="5.8" fill="#222" text-anchor="start" transform="rotate(-56 118.6 556.2)"  stroke="#222" stroke-width="0.06">Parental</text>
<text x="131" y="556.2" font-size="5.8" fill="#222" text-anchor="start" transform="rotate(-56 131 556.2)"  stroke="#222" stroke-width="0.06">NRAS<tspan font-size="3.4" dy="-2.4">G12V</tspan></text>
<text x="141.2" y="556.2" font-size="5.8" fill="#222" text-anchor="start" transform="rotate(-56 141.2 556.2)"  stroke="#222" stroke-width="0.06">Parental</text>
<text x="150.6" y="556.2" font-size="5.8" fill="#222" text-anchor="start" transform="rotate(-56 150.6 556.2)"  stroke="#222" stroke-width="0.06">NRAS<tspan font-size="3.4" dy="-2.4">G12V</tspan></text>
<rect x="0" y="0" width="520" height="1" fill="#111" />
<rect x="518.6" y="0" width="1.4" height="627" fill="#111" />
<rect x="0" y="625.2" width="520" height="1.8" fill="#444" />
<rect x="0" y="0" width="1.5" height="627" fill="#555" />
</svg></body></html>
